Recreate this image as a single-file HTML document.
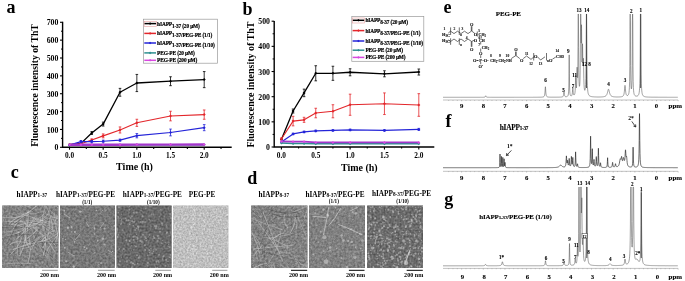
<!DOCTYPE html>
<html><head><meta charset="utf-8"><style>html,body{margin:0;padding:0;background:#fff;width:685px;height:281px;overflow:hidden}svg{display:block;will-change:transform;filter:blur(0.3px)}text{font-family:"Liberation Serif",serif}</style></head>
<body><svg width="685" height="281" viewBox="0 0 685 281" font-family="Liberation Serif" font-weight="bold"><defs><filter id="f1" x="0" y="0" width="1" height="1" color-interpolation-filters="sRGB"><feTurbulence type="fractalNoise" baseFrequency="0.45" numOctaves="2" seed="3"/><feColorMatrix type="matrix" values="0.36 0 0 0 0.330 0.36 0 0 0 0.330 0.36 0 0 0 0.330 0 0 0 0 1"/><feGaussianBlur stdDeviation="0.6"/></filter><clipPath id="c1"><rect x="2.2" y="205.5" width="56.3" height="62.5"/></clipPath><filter id="f2" x="0" y="0" width="1" height="1" color-interpolation-filters="sRGB"><feTurbulence type="fractalNoise" baseFrequency="0.45" numOctaves="2" seed="5"/><feColorMatrix type="matrix" values="0.32 0 0 0 0.311 0.32 0 0 0 0.311 0.32 0 0 0 0.311 0 0 0 0 1"/><feGaussianBlur stdDeviation="0.6"/></filter><clipPath id="c2"><rect x="60.0" y="205.5" width="55.0" height="62.5"/></clipPath><filter id="f3" x="0" y="0" width="1" height="1" color-interpolation-filters="sRGB"><feTurbulence type="fractalNoise" baseFrequency="0.5" numOctaves="2" seed="7"/><feColorMatrix type="matrix" values="0.34 0 0 0 0.238 0.34 0 0 0 0.238 0.34 0 0 0 0.238 0 0 0 0 1"/><feGaussianBlur stdDeviation="0.6"/></filter><clipPath id="c3"><rect x="116.5" y="205.5" width="55.099999999999994" height="62.5"/></clipPath><filter id="f4" x="0" y="0" width="1" height="1" color-interpolation-filters="sRGB"><feTurbulence type="fractalNoise" baseFrequency="0.55" numOctaves="2" seed="9"/><feColorMatrix type="matrix" values="0.32 0 0 0 0.585 0.32 0 0 0 0.585 0.32 0 0 0 0.585 0 0 0 0 1"/><feGaussianBlur stdDeviation="0.6"/></filter><clipPath id="c4"><rect x="173.2" y="205.5" width="55.20000000000002" height="62.5"/></clipPath><filter id="f5" x="0" y="0" width="1" height="1" color-interpolation-filters="sRGB"><feTurbulence type="fractalNoise" baseFrequency="0.45" numOctaves="2" seed="11"/><feColorMatrix type="matrix" values="0.38 0 0 0 0.320 0.38 0 0 0 0.320 0.38 0 0 0 0.320 0 0 0 0 1"/><feGaussianBlur stdDeviation="0.6"/></filter><clipPath id="c5"><rect x="251.2" y="205.5" width="56.30000000000001" height="62.5"/></clipPath><filter id="f6" x="0" y="0" width="1" height="1" color-interpolation-filters="sRGB"><feTurbulence type="fractalNoise" baseFrequency="0.45" numOctaves="2" seed="13"/><feColorMatrix type="matrix" values="0.32 0 0 0 0.342 0.32 0 0 0 0.342 0.32 0 0 0 0.342 0 0 0 0 1"/><feGaussianBlur stdDeviation="0.6"/></filter><clipPath id="c6"><rect x="309.0" y="205.5" width="56.0" height="62.5"/></clipPath><filter id="f7" x="0" y="0" width="1" height="1" color-interpolation-filters="sRGB"><feTurbulence type="fractalNoise" baseFrequency="0.5" numOctaves="2" seed="15"/><feColorMatrix type="matrix" values="0.34 0 0 0 0.246 0.34 0 0 0 0.246 0.34 0 0 0 0.246 0 0 0 0 1"/><feGaussianBlur stdDeviation="0.6"/></filter><clipPath id="c7"><rect x="367.1" y="205.5" width="55.89999999999998" height="62.5"/></clipPath></defs><rect width="685" height="281" fill="#fff"/><text x="6.50" y="13.20" font-size="18" text-anchor="start" >a</text>
<text x="242.60" y="15.00" font-size="18" text-anchor="start" >b</text>
<text x="10.80" y="178.30" font-size="18" text-anchor="start" >c</text>
<text x="247.20" y="183.70" font-size="18" text-anchor="start" >d</text>
<text x="443.60" y="13.00" font-size="18" text-anchor="start" >e</text>
<text x="445.50" y="126.90" font-size="18" text-anchor="start" >f</text>
<text x="444.30" y="205.20" font-size="18" text-anchor="start" >g</text>
<polyline points="69.50,144.62 80.95,143.37 91.73,133.01 103.17,124.08 120.01,92.29 136.85,83.00 170.52,81.22 204.20,79.61" fill="none" stroke="#000" stroke-width="1.3" stroke-linejoin="round"/>
<path d="M69.50,143.12l1.5,1.5l-1.5,1.5l-1.5,-1.5z" fill="#000"/>
<path d="M80.95,141.87l1.5,1.5l-1.5,1.5l-1.5,-1.5z" fill="#000"/>
<path d="M91.73,131.58V134.44M90.43,131.58h2.6M90.43,134.44h2.6" stroke="#000" stroke-width="0.8" fill="none"/>
<path d="M91.73,131.51l1.5,1.5l-1.5,1.5l-1.5,-1.5z" fill="#000"/>
<path d="M103.17,122.12V126.05M101.88,122.12h2.6M101.88,126.05h2.6" stroke="#000" stroke-width="0.8" fill="none"/>
<path d="M103.17,122.58l1.5,1.5l-1.5,1.5l-1.5,-1.5z" fill="#000"/>
<path d="M120.01,88.36V96.22M118.71,88.36h2.6M118.71,96.22h2.6" stroke="#000" stroke-width="0.8" fill="none"/>
<path d="M120.01,90.79l1.5,1.5l-1.5,1.5l-1.5,-1.5z" fill="#000"/>
<path d="M136.85,74.43V91.58M135.55,74.43h2.6M135.55,91.58h2.6" stroke="#000" stroke-width="0.8" fill="none"/>
<path d="M136.85,81.50l1.5,1.5l-1.5,1.5l-1.5,-1.5z" fill="#000"/>
<path d="M170.52,76.75V85.68M169.22,76.75h2.6M169.22,85.68h2.6" stroke="#000" stroke-width="0.8" fill="none"/>
<path d="M170.52,79.72l1.5,1.5l-1.5,1.5l-1.5,-1.5z" fill="#000"/>
<path d="M204.20,71.57V87.65M202.90,71.57h2.6M202.90,87.65h2.6" stroke="#000" stroke-width="0.8" fill="none"/>
<path d="M204.20,78.11l1.5,1.5l-1.5,1.5l-1.5,-1.5z" fill="#000"/>
<polyline points="69.50,144.62 80.95,143.73 91.73,139.98 103.17,135.87 120.01,129.98 136.85,122.83 170.52,116.05 204.20,114.62" fill="none" stroke="#e3262b" stroke-width="1.1" stroke-linejoin="round"/>
<path d="M69.50,143.12l1.5,1.5l-1.5,1.5l-1.5,-1.5z" fill="#e3262b"/>
<path d="M80.95,142.23l1.5,1.5l-1.5,1.5l-1.5,-1.5z" fill="#e3262b"/>
<path d="M91.73,138.91V141.05M90.43,138.91h2.6M90.43,141.05h2.6" stroke="#e3262b" stroke-width="0.8" fill="none"/>
<path d="M91.73,138.48l1.5,1.5l-1.5,1.5l-1.5,-1.5z" fill="#e3262b"/>
<path d="M103.17,133.91V137.83M101.88,133.91h2.6M101.88,137.83h2.6" stroke="#e3262b" stroke-width="0.8" fill="none"/>
<path d="M103.17,134.37l1.5,1.5l-1.5,1.5l-1.5,-1.5z" fill="#e3262b"/>
<path d="M120.01,126.94V133.01M118.71,126.94h2.6M118.71,133.01h2.6" stroke="#e3262b" stroke-width="0.8" fill="none"/>
<path d="M120.01,128.48l1.5,1.5l-1.5,1.5l-1.5,-1.5z" fill="#e3262b"/>
<path d="M136.85,119.26V126.40M135.55,119.26h2.6M135.55,126.40h2.6" stroke="#e3262b" stroke-width="0.8" fill="none"/>
<path d="M136.85,121.33l1.5,1.5l-1.5,1.5l-1.5,-1.5z" fill="#e3262b"/>
<path d="M170.52,111.22V120.87M169.22,111.22h2.6M169.22,120.87h2.6" stroke="#e3262b" stroke-width="0.8" fill="none"/>
<path d="M170.52,114.55l1.5,1.5l-1.5,1.5l-1.5,-1.5z" fill="#e3262b"/>
<path d="M204.20,109.97V119.26M202.90,109.97h2.6M202.90,119.26h2.6" stroke="#e3262b" stroke-width="0.8" fill="none"/>
<path d="M204.20,113.12l1.5,1.5l-1.5,1.5l-1.5,-1.5z" fill="#e3262b"/>
<polyline points="69.50,145.16 80.95,141.58 91.73,141.58 103.17,141.23 120.01,140.16 136.85,135.69 170.52,132.48 204.20,127.65" fill="none" stroke="#2424d8" stroke-width="1.2" stroke-linejoin="round"/>
<path d="M69.50,143.66l1.5,1.5l-1.5,1.5l-1.5,-1.5z" fill="#2424d8"/>
<path d="M80.95,140.51V142.66M79.65,140.51h2.6M79.65,142.66h2.6" stroke="#2424d8" stroke-width="0.8" fill="none"/>
<path d="M80.95,140.08l1.5,1.5l-1.5,1.5l-1.5,-1.5z" fill="#2424d8"/>
<path d="M91.73,140.51V142.66M90.43,140.51h2.6M90.43,142.66h2.6" stroke="#2424d8" stroke-width="0.8" fill="none"/>
<path d="M91.73,140.08l1.5,1.5l-1.5,1.5l-1.5,-1.5z" fill="#2424d8"/>
<path d="M103.17,140.16V142.30M101.88,140.16h2.6M101.88,142.30h2.6" stroke="#2424d8" stroke-width="0.8" fill="none"/>
<path d="M103.17,139.73l1.5,1.5l-1.5,1.5l-1.5,-1.5z" fill="#2424d8"/>
<path d="M120.01,139.08V141.23M118.71,139.08h2.6M118.71,141.23h2.6" stroke="#2424d8" stroke-width="0.8" fill="none"/>
<path d="M120.01,138.66l1.5,1.5l-1.5,1.5l-1.5,-1.5z" fill="#2424d8"/>
<path d="M136.85,133.55V137.83M135.55,133.55h2.6M135.55,137.83h2.6" stroke="#2424d8" stroke-width="0.8" fill="none"/>
<path d="M136.85,134.19l1.5,1.5l-1.5,1.5l-1.5,-1.5z" fill="#2424d8"/>
<path d="M170.52,129.08V135.87M169.22,129.08h2.6M169.22,135.87h2.6" stroke="#2424d8" stroke-width="0.8" fill="none"/>
<path d="M170.52,130.98l1.5,1.5l-1.5,1.5l-1.5,-1.5z" fill="#2424d8"/>
<path d="M204.20,124.62V130.69M202.90,124.62h2.6M202.90,130.69h2.6" stroke="#2424d8" stroke-width="0.8" fill="none"/>
<path d="M204.20,126.15l1.5,1.5l-1.5,1.5l-1.5,-1.5z" fill="#2424d8"/>
<polyline points="69.50,144.80 80.95,144.80 91.73,144.80 103.17,144.80 120.01,144.80 136.85,144.80 170.52,144.80 204.20,144.80" fill="none" stroke="#2e9090" stroke-width="1.5" stroke-linejoin="round"/>
<path d="M69.50,143.30l1.5,1.5l-1.5,1.5l-1.5,-1.5z" fill="#2e9090"/>
<path d="M80.95,143.30l1.5,1.5l-1.5,1.5l-1.5,-1.5z" fill="#2e9090"/>
<path d="M91.73,143.30l1.5,1.5l-1.5,1.5l-1.5,-1.5z" fill="#2e9090"/>
<path d="M103.17,143.30l1.5,1.5l-1.5,1.5l-1.5,-1.5z" fill="#2e9090"/>
<path d="M120.01,143.30l1.5,1.5l-1.5,1.5l-1.5,-1.5z" fill="#2e9090"/>
<path d="M136.85,143.30l1.5,1.5l-1.5,1.5l-1.5,-1.5z" fill="#2e9090"/>
<path d="M170.52,143.30l1.5,1.5l-1.5,1.5l-1.5,-1.5z" fill="#2e9090"/>
<path d="M204.20,143.30l1.5,1.5l-1.5,1.5l-1.5,-1.5z" fill="#2e9090"/>
<polyline points="69.50,144.80 80.95,144.80 91.73,144.80 103.17,144.80 120.01,144.80 136.85,144.62 170.52,144.62 204.20,144.44" fill="none" stroke="#a436cc" stroke-width="2.4" stroke-linejoin="round"/>
<path d="M69.50,143.30l1.5,1.5l-1.5,1.5l-1.5,-1.5z" fill="#d848e0"/>
<path d="M80.95,143.30l1.5,1.5l-1.5,1.5l-1.5,-1.5z" fill="#d848e0"/>
<path d="M91.73,143.30l1.5,1.5l-1.5,1.5l-1.5,-1.5z" fill="#d848e0"/>
<path d="M103.17,143.30l1.5,1.5l-1.5,1.5l-1.5,-1.5z" fill="#d848e0"/>
<path d="M120.01,143.30l1.5,1.5l-1.5,1.5l-1.5,-1.5z" fill="#d848e0"/>
<path d="M136.85,143.12l1.5,1.5l-1.5,1.5l-1.5,-1.5z" fill="#d848e0"/>
<path d="M170.52,143.12l1.5,1.5l-1.5,1.5l-1.5,-1.5z" fill="#d848e0"/>
<path d="M204.20,142.94l1.5,1.5l-1.5,1.5l-1.5,-1.5z" fill="#d848e0"/>
<path d="M62.60,21.70V147.30H231.70" stroke="#000" stroke-width="1.4" fill="none"/>
<path d="M60.00,147.30H62.6" stroke="#000" stroke-width="1.1"/>
<text x="58.40" y="150.40" font-size="7.8" text-anchor="end" >0</text>
<path d="M61.00,138.37H62.6" stroke="#000" stroke-width="1"/>
<path d="M60.00,129.44H62.6" stroke="#000" stroke-width="1.1"/>
<text x="58.40" y="132.54" font-size="7.8" text-anchor="end" >100</text>
<path d="M61.00,120.51H62.6" stroke="#000" stroke-width="1"/>
<path d="M60.00,111.58H62.6" stroke="#000" stroke-width="1.1"/>
<text x="58.40" y="114.68" font-size="7.8" text-anchor="end" >200</text>
<path d="M61.00,102.65H62.6" stroke="#000" stroke-width="1"/>
<path d="M60.00,93.72H62.6" stroke="#000" stroke-width="1.1"/>
<text x="58.40" y="96.82" font-size="7.8" text-anchor="end" >300</text>
<path d="M61.00,84.79H62.6" stroke="#000" stroke-width="1"/>
<path d="M60.00,75.86H62.6" stroke="#000" stroke-width="1.1"/>
<text x="58.40" y="78.96" font-size="7.8" text-anchor="end" >400</text>
<path d="M61.00,66.93H62.6" stroke="#000" stroke-width="1"/>
<path d="M60.00,58.00H62.6" stroke="#000" stroke-width="1.1"/>
<text x="58.40" y="61.10" font-size="7.8" text-anchor="end" >500</text>
<path d="M61.00,49.07H62.6" stroke="#000" stroke-width="1"/>
<path d="M60.00,40.14H62.6" stroke="#000" stroke-width="1.1"/>
<text x="58.40" y="43.24" font-size="7.8" text-anchor="end" >600</text>
<path d="M61.00,31.21H62.6" stroke="#000" stroke-width="1"/>
<path d="M60.00,22.28H62.6" stroke="#000" stroke-width="1.1"/>
<text x="58.40" y="25.38" font-size="7.8" text-anchor="end" >700</text>
<path d="M69.50,147.30V149.70" stroke="#000" stroke-width="1.1"/>
<text x="69.50" y="158.20" font-size="7.3" text-anchor="middle" >0.0</text>
<path d="M86.34,147.30V148.90" stroke="#000" stroke-width="1.1"/>
<path d="M103.17,147.30V149.70" stroke="#000" stroke-width="1.1"/>
<text x="103.17" y="158.20" font-size="7.3" text-anchor="middle" >0.5</text>
<path d="M120.01,147.30V148.90" stroke="#000" stroke-width="1.1"/>
<path d="M136.85,147.30V149.70" stroke="#000" stroke-width="1.1"/>
<text x="136.85" y="158.20" font-size="7.3" text-anchor="middle" >1.0</text>
<path d="M153.69,147.30V148.90" stroke="#000" stroke-width="1.1"/>
<path d="M170.52,147.30V149.70" stroke="#000" stroke-width="1.1"/>
<text x="170.52" y="158.20" font-size="7.3" text-anchor="middle" >1.5</text>
<path d="M187.36,147.30V148.90" stroke="#000" stroke-width="1.1"/>
<path d="M204.20,147.30V149.70" stroke="#000" stroke-width="1.1"/>
<text x="204.20" y="158.20" font-size="7.3" text-anchor="middle" >2.0</text>
<path d="M221.04,147.30V148.90" stroke="#000" stroke-width="1.1"/>
<text x="0" y="0" font-size="9.7" text-anchor="middle" transform="translate(38.30,85.50) rotate(-90)">Fluorescence intensity of ThT</text>
<text x="134.50" y="169.50" font-size="10" text-anchor="middle" >Time (h)</text>
<rect x="143.5" y="19.2" width="74.0" height="44.0" fill="#fff" stroke="#999" stroke-width="0.7"/>
<path d="M144.30,23.60H156.00" stroke="#000" stroke-width="1.5"/>
<path d="M150.10,22.30l1.3,1.3l-1.3,1.3l-1.3,-1.3z" fill="#000"/>
<text x="157.10" y="25.50" font-size="5.4" letter-spacing="-0.15" stroke="#000" stroke-width="0.18">hIAPP<tspan font-size="5.3" dy="2.1">1-37</tspan><tspan dy="-2.1"></tspan> (20 &#956;M)</text>
<path d="M144.30,33.40H156.00" stroke="#e3262b" stroke-width="1.5"/>
<path d="M150.10,32.10l1.3,1.3l-1.3,1.3l-1.3,-1.3z" fill="#e3262b"/>
<text x="157.10" y="35.30" font-size="5.4" letter-spacing="-0.15" stroke="#000" stroke-width="0.18">hIAPP<tspan font-size="5.3" dy="2.1">1-37</tspan><tspan dy="-2.1"></tspan>/PEG-PE (1/1)</text>
<path d="M144.30,43.00H156.00" stroke="#2424d8" stroke-width="1.5"/>
<path d="M150.10,41.70l1.3,1.3l-1.3,1.3l-1.3,-1.3z" fill="#2424d8"/>
<text x="157.10" y="44.90" font-size="5.4" letter-spacing="-0.15" stroke="#000" stroke-width="0.18">hIAPP<tspan font-size="5.3" dy="2.1">1-37</tspan><tspan dy="-2.1"></tspan>/PEG-PE (1/10)</text>
<path d="M144.30,52.90H156.00" stroke="#2e9090" stroke-width="1.5"/>
<path d="M150.10,51.60l1.3,1.3l-1.3,1.3l-1.3,-1.3z" fill="#2e9090"/>
<text x="157.10" y="54.80" font-size="5.4" letter-spacing="-0.15" stroke="#000" stroke-width="0.18">PEG-PE (20 &#956;M)</text>
<path d="M144.30,60.30H156.00" stroke="#d848e0" stroke-width="1.5"/>
<path d="M150.10,59.00l1.3,1.3l-1.3,1.3l-1.3,-1.3z" fill="#d848e0"/>
<text x="157.10" y="62.20" font-size="5.4" letter-spacing="-0.15" stroke="#000" stroke-width="0.18">PEG-PE (200 &#956;M)</text>
<rect x="144.10" y="21.30" width="12.2" height="5" fill="none" stroke="#e8a0a0" stroke-width="0.6"/>
<polyline points="281.40,139.45 293.08,111.02 304.07,92.91 315.75,73.28 332.92,73.28 350.10,72.27 384.45,73.78 418.80,72.02" fill="none" stroke="#000" stroke-width="1.3" stroke-linejoin="round"/>
<path d="M281.40,137.95l1.5,1.5l-1.5,1.5l-1.5,-1.5z" fill="#000"/>
<path d="M293.08,109.01V113.03M291.78,109.01h2.6M291.78,113.03h2.6" stroke="#000" stroke-width="0.8" fill="none"/>
<path d="M293.08,109.52l1.5,1.5l-1.5,1.5l-1.5,-1.5z" fill="#000"/>
<path d="M304.07,89.13V96.68M302.77,89.13h2.6M302.77,96.68h2.6" stroke="#000" stroke-width="0.8" fill="none"/>
<path d="M304.07,91.41l1.5,1.5l-1.5,1.5l-1.5,-1.5z" fill="#000"/>
<path d="M315.75,65.73V80.83M314.45,65.73h2.6M314.45,80.83h2.6" stroke="#000" stroke-width="0.8" fill="none"/>
<path d="M315.75,71.78l1.5,1.5l-1.5,1.5l-1.5,-1.5z" fill="#000"/>
<path d="M332.92,66.24V80.33M331.62,66.24h2.6M331.62,80.33h2.6" stroke="#000" stroke-width="0.8" fill="none"/>
<path d="M332.92,71.78l1.5,1.5l-1.5,1.5l-1.5,-1.5z" fill="#000"/>
<path d="M350.10,68.75V75.80M348.80,68.75h2.6M348.80,75.80h2.6" stroke="#000" stroke-width="0.8" fill="none"/>
<path d="M350.10,70.77l1.5,1.5l-1.5,1.5l-1.5,-1.5z" fill="#000"/>
<path d="M384.45,70.77V76.80M383.15,70.77h2.6M383.15,76.80h2.6" stroke="#000" stroke-width="0.8" fill="none"/>
<path d="M384.45,72.28l1.5,1.5l-1.5,1.5l-1.5,-1.5z" fill="#000"/>
<path d="M418.80,69.00V75.04M417.50,69.00h2.6M417.50,75.04h2.6" stroke="#000" stroke-width="0.8" fill="none"/>
<path d="M418.80,70.52l1.5,1.5l-1.5,1.5l-1.5,-1.5z" fill="#000"/>
<polyline points="281.40,138.95 293.08,121.09 304.07,119.83 315.75,113.03 332.92,111.27 350.10,104.73 384.45,103.72 418.80,104.98" fill="none" stroke="#e3262b" stroke-width="1.1" stroke-linejoin="round"/>
<path d="M281.40,137.94V139.96M280.10,137.94h2.6M280.10,139.96h2.6" stroke="#e3262b" stroke-width="0.8" fill="none"/>
<path d="M281.40,137.45l1.5,1.5l-1.5,1.5l-1.5,-1.5z" fill="#e3262b"/>
<path d="M293.08,116.30V125.87M291.78,116.30h2.6M291.78,125.87h2.6" stroke="#e3262b" stroke-width="0.8" fill="none"/>
<path d="M293.08,119.59l1.5,1.5l-1.5,1.5l-1.5,-1.5z" fill="#e3262b"/>
<path d="M304.07,117.31V122.34M302.77,117.31h2.6M302.77,122.34h2.6" stroke="#e3262b" stroke-width="0.8" fill="none"/>
<path d="M304.07,118.33l1.5,1.5l-1.5,1.5l-1.5,-1.5z" fill="#e3262b"/>
<path d="M315.75,108.25V117.81M314.45,108.25h2.6M314.45,117.81h2.6" stroke="#e3262b" stroke-width="0.8" fill="none"/>
<path d="M315.75,111.53l1.5,1.5l-1.5,1.5l-1.5,-1.5z" fill="#e3262b"/>
<path d="M332.92,104.73V117.81M331.62,104.73h2.6M331.62,117.81h2.6" stroke="#e3262b" stroke-width="0.8" fill="none"/>
<path d="M332.92,109.77l1.5,1.5l-1.5,1.5l-1.5,-1.5z" fill="#e3262b"/>
<path d="M350.10,94.16V115.30M348.80,94.16h2.6M348.80,115.30h2.6" stroke="#e3262b" stroke-width="0.8" fill="none"/>
<path d="M350.10,103.23l1.5,1.5l-1.5,1.5l-1.5,-1.5z" fill="#e3262b"/>
<path d="M384.45,92.91V114.54M383.15,92.91h2.6M383.15,114.54h2.6" stroke="#e3262b" stroke-width="0.8" fill="none"/>
<path d="M384.45,102.22l1.5,1.5l-1.5,1.5l-1.5,-1.5z" fill="#e3262b"/>
<path d="M418.80,93.66V116.30M417.50,93.66h2.6M417.50,116.30h2.6" stroke="#e3262b" stroke-width="0.8" fill="none"/>
<path d="M418.80,103.48l1.5,1.5l-1.5,1.5l-1.5,-1.5z" fill="#e3262b"/>
<polyline points="281.40,141.97 293.08,133.92 304.07,131.90 315.75,130.90 332.92,130.39 350.10,129.89 384.45,130.39 418.80,129.39" fill="none" stroke="#2424d8" stroke-width="1.2" stroke-linejoin="round"/>
<path d="M281.40,140.47l1.5,1.5l-1.5,1.5l-1.5,-1.5z" fill="#2424d8"/>
<path d="M293.08,133.16V134.67M291.78,133.16h2.6M291.78,134.67h2.6" stroke="#2424d8" stroke-width="0.8" fill="none"/>
<path d="M293.08,132.42l1.5,1.5l-1.5,1.5l-1.5,-1.5z" fill="#2424d8"/>
<path d="M304.07,131.15V132.66M302.77,131.15h2.6M302.77,132.66h2.6" stroke="#2424d8" stroke-width="0.8" fill="none"/>
<path d="M304.07,130.40l1.5,1.5l-1.5,1.5l-1.5,-1.5z" fill="#2424d8"/>
<path d="M315.75,130.14V131.65M314.45,130.14h2.6M314.45,131.65h2.6" stroke="#2424d8" stroke-width="0.8" fill="none"/>
<path d="M315.75,129.40l1.5,1.5l-1.5,1.5l-1.5,-1.5z" fill="#2424d8"/>
<path d="M332.92,129.64V131.15M331.62,129.64h2.6M331.62,131.15h2.6" stroke="#2424d8" stroke-width="0.8" fill="none"/>
<path d="M332.92,128.89l1.5,1.5l-1.5,1.5l-1.5,-1.5z" fill="#2424d8"/>
<path d="M350.10,129.14V130.65M348.80,129.14h2.6M348.80,130.65h2.6" stroke="#2424d8" stroke-width="0.8" fill="none"/>
<path d="M350.10,128.39l1.5,1.5l-1.5,1.5l-1.5,-1.5z" fill="#2424d8"/>
<path d="M384.45,129.64V131.15M383.15,129.64h2.6M383.15,131.15h2.6" stroke="#2424d8" stroke-width="0.8" fill="none"/>
<path d="M384.45,128.89l1.5,1.5l-1.5,1.5l-1.5,-1.5z" fill="#2424d8"/>
<path d="M418.80,128.38V130.39M417.50,128.38h2.6M417.50,130.39h2.6" stroke="#2424d8" stroke-width="0.8" fill="none"/>
<path d="M418.80,127.89l1.5,1.5l-1.5,1.5l-1.5,-1.5z" fill="#2424d8"/>
<polyline points="281.40,142.97 293.08,143.48 304.07,143.48 315.75,143.73 332.92,143.73 350.10,143.73 384.45,143.73 418.80,143.73" fill="none" stroke="#2e9090" stroke-width="1.4" stroke-linejoin="round"/>
<path d="M281.40,141.47l1.5,1.5l-1.5,1.5l-1.5,-1.5z" fill="#2e9090"/>
<path d="M293.08,141.98l1.5,1.5l-1.5,1.5l-1.5,-1.5z" fill="#2e9090"/>
<path d="M304.07,141.98l1.5,1.5l-1.5,1.5l-1.5,-1.5z" fill="#2e9090"/>
<path d="M315.75,142.23l1.5,1.5l-1.5,1.5l-1.5,-1.5z" fill="#2e9090"/>
<path d="M332.92,142.23l1.5,1.5l-1.5,1.5l-1.5,-1.5z" fill="#2e9090"/>
<path d="M350.10,142.23l1.5,1.5l-1.5,1.5l-1.5,-1.5z" fill="#2e9090"/>
<path d="M384.45,142.23l1.5,1.5l-1.5,1.5l-1.5,-1.5z" fill="#2e9090"/>
<path d="M418.80,142.23l1.5,1.5l-1.5,1.5l-1.5,-1.5z" fill="#2e9090"/>
<polyline points="281.40,141.46 293.08,141.72 304.07,141.72 315.75,142.47 332.92,142.47 350.10,142.47 384.45,142.47 418.80,142.47" fill="none" stroke="#a436cc" stroke-width="1.7" stroke-linejoin="round"/>
<path d="M281.40,139.96l1.5,1.5l-1.5,1.5l-1.5,-1.5z" fill="#d848e0"/>
<path d="M293.08,140.22l1.5,1.5l-1.5,1.5l-1.5,-1.5z" fill="#d848e0"/>
<path d="M304.07,140.22l1.5,1.5l-1.5,1.5l-1.5,-1.5z" fill="#d848e0"/>
<path d="M315.75,140.97l1.5,1.5l-1.5,1.5l-1.5,-1.5z" fill="#d848e0"/>
<path d="M332.92,140.97l1.5,1.5l-1.5,1.5l-1.5,-1.5z" fill="#d848e0"/>
<path d="M350.10,140.97l1.5,1.5l-1.5,1.5l-1.5,-1.5z" fill="#d848e0"/>
<path d="M384.45,140.97l1.5,1.5l-1.5,1.5l-1.5,-1.5z" fill="#d848e0"/>
<path d="M418.80,140.97l1.5,1.5l-1.5,1.5l-1.5,-1.5z" fill="#d848e0"/>
<path d="M274.20,21.00V147.00H434.30" stroke="#000" stroke-width="1.4" fill="none"/>
<path d="M271.60,147.00H274.2" stroke="#000" stroke-width="1.1"/>
<text x="270.00" y="150.10" font-size="7.8" text-anchor="end" >0</text>
<path d="M272.60,134.42H274.2" stroke="#000" stroke-width="1"/>
<path d="M271.60,121.84H274.2" stroke="#000" stroke-width="1.1"/>
<text x="270.00" y="124.94" font-size="7.8" text-anchor="end" >100</text>
<path d="M272.60,109.26H274.2" stroke="#000" stroke-width="1"/>
<path d="M271.60,96.68H274.2" stroke="#000" stroke-width="1.1"/>
<text x="270.00" y="99.78" font-size="7.8" text-anchor="end" >200</text>
<path d="M272.60,84.10H274.2" stroke="#000" stroke-width="1"/>
<path d="M271.60,71.52H274.2" stroke="#000" stroke-width="1.1"/>
<text x="270.00" y="74.62" font-size="7.8" text-anchor="end" >300</text>
<path d="M272.60,58.94H274.2" stroke="#000" stroke-width="1"/>
<path d="M271.60,46.36H274.2" stroke="#000" stroke-width="1.1"/>
<text x="270.00" y="49.46" font-size="7.8" text-anchor="end" >400</text>
<path d="M272.60,33.78H274.2" stroke="#000" stroke-width="1"/>
<path d="M271.60,21.20H274.2" stroke="#000" stroke-width="1.1"/>
<text x="270.00" y="24.30" font-size="7.8" text-anchor="end" >500</text>
<path d="M281.40,147.00V149.40" stroke="#000" stroke-width="1.1"/>
<text x="281.40" y="157.90" font-size="7.3" text-anchor="middle" >0.0</text>
<path d="M298.57,147.00V148.60" stroke="#000" stroke-width="1.1"/>
<path d="M315.75,147.00V149.40" stroke="#000" stroke-width="1.1"/>
<text x="315.75" y="157.90" font-size="7.3" text-anchor="middle" >0.5</text>
<path d="M332.92,147.00V148.60" stroke="#000" stroke-width="1.1"/>
<path d="M350.10,147.00V149.40" stroke="#000" stroke-width="1.1"/>
<text x="350.10" y="157.90" font-size="7.3" text-anchor="middle" >1.0</text>
<path d="M367.27,147.00V148.60" stroke="#000" stroke-width="1.1"/>
<path d="M384.45,147.00V149.40" stroke="#000" stroke-width="1.1"/>
<text x="384.45" y="157.90" font-size="7.3" text-anchor="middle" >1.5</text>
<path d="M401.62,147.00V148.60" stroke="#000" stroke-width="1.1"/>
<path d="M418.80,147.00V149.40" stroke="#000" stroke-width="1.1"/>
<text x="418.80" y="157.90" font-size="7.3" text-anchor="middle" >2.0</text>
<text x="0" y="0" font-size="9.95" text-anchor="middle" transform="translate(254.00,84.60) rotate(-90)">Fluorescence intensity of ThT</text>
<text x="359.30" y="170.50" font-size="10" text-anchor="middle" >Time (h)</text>
<rect x="351.8" y="16.4" width="72.0" height="44.9" fill="#fff" stroke="#999" stroke-width="0.7"/>
<path d="M352.60,20.30H364.30" stroke="#000" stroke-width="1.5"/>
<path d="M358.40,19.00l1.3,1.3l-1.3,1.3l-1.3,-1.3z" fill="#000"/>
<text x="365.40" y="22.20" font-size="5.4" letter-spacing="-0.15" stroke="#000" stroke-width="0.18">hIAPP<tspan font-size="5.3" dy="2.1">8-37</tspan><tspan dy="-2.1"></tspan> (20 &#956;M)</text>
<path d="M352.60,30.60H364.30" stroke="#e3262b" stroke-width="1.5"/>
<path d="M358.40,29.30l1.3,1.3l-1.3,1.3l-1.3,-1.3z" fill="#e3262b"/>
<text x="365.40" y="32.50" font-size="5.4" letter-spacing="-0.15" stroke="#000" stroke-width="0.18">hIAPP<tspan font-size="5.3" dy="2.1">8-37</tspan><tspan dy="-2.1"></tspan>/PEG-PE (1/1)</text>
<path d="M352.60,41.00H364.30" stroke="#2424d8" stroke-width="1.5"/>
<path d="M358.40,39.70l1.3,1.3l-1.3,1.3l-1.3,-1.3z" fill="#2424d8"/>
<text x="365.40" y="42.90" font-size="5.4" letter-spacing="-0.15" stroke="#000" stroke-width="0.18">hIAPP<tspan font-size="5.3" dy="2.1">8-37</tspan><tspan dy="-2.1"></tspan>/PEG-PE (1/10)</text>
<path d="M352.60,50.20H364.30" stroke="#2e9090" stroke-width="1.5"/>
<path d="M358.40,48.90l1.3,1.3l-1.3,1.3l-1.3,-1.3z" fill="#2e9090"/>
<text x="365.40" y="52.10" font-size="5.4" letter-spacing="-0.15" stroke="#000" stroke-width="0.18">PEG-PE (20 &#956;M)</text>
<path d="M352.60,57.40H364.30" stroke="#d848e0" stroke-width="1.5"/>
<path d="M358.40,56.10l1.3,1.3l-1.3,1.3l-1.3,-1.3z" fill="#d848e0"/>
<text x="365.40" y="59.30" font-size="5.4" letter-spacing="-0.15" stroke="#000" stroke-width="0.18">PEG-PE (200 &#956;M)</text>
<rect x="352.40" y="18.00" width="12.2" height="5" fill="none" stroke="#e8a0a0" stroke-width="0.6"/>
<g clip-path="url(#c1)"><rect x="2.2" y="205.5" width="56.3" height="62.5" fill="rgb(130,130,130)"/><rect x="2.2" y="205.5" width="56.3" height="62.5" filter="url(#f1)"/>
<path d="M25.9,228.1Q15.5,231.7 4.9,233.2" stroke="#555" stroke-width="0.55" fill="none" opacity="0.35"/>
<path d="M25.3,227.5Q14.9,231.1 4.3,232.6" stroke="#dcdcdc" stroke-width="0.69" fill="none" opacity="0.5"/>
<path d="M23.7,222.3Q16.5,221.2 13.9,229.8" stroke="#555" stroke-width="0.80" fill="none" opacity="0.35"/>
<path d="M23.1,221.7Q15.9,220.6 13.3,229.2" stroke="#dcdcdc" stroke-width="1.00" fill="none" opacity="0.5"/>
<path d="M39.4,220.3Q24.2,222.6 5.3,222.2" stroke="#555" stroke-width="0.54" fill="none" opacity="0.35"/>
<path d="M38.8,219.7Q23.6,222.0 4.7,221.6" stroke="#dcdcdc" stroke-width="0.68" fill="none" opacity="0.5"/>
<path d="M55.2,225.0Q59.4,220.7 69.7,227.7" stroke="#555" stroke-width="0.67" fill="none" opacity="0.35"/>
<path d="M54.6,224.4Q58.8,220.1 69.1,227.1" stroke="#dcdcdc" stroke-width="0.83" fill="none" opacity="0.5"/>
<path d="M19.1,232.0Q18.3,247.0 17.6,258.0" stroke="#555" stroke-width="0.66" fill="none" opacity="0.35"/>
<path d="M18.5,231.4Q17.7,246.4 17.0,257.4" stroke="#dcdcdc" stroke-width="0.83" fill="none" opacity="0.5"/>
<path d="M33.2,264.7Q20.2,262.7 2.2,265.1" stroke="#555" stroke-width="0.57" fill="none" opacity="0.35"/>
<path d="M32.6,264.1Q19.6,262.1 1.6,264.5" stroke="#dcdcdc" stroke-width="0.71" fill="none" opacity="0.5"/>
<path d="M39.5,228.0Q36.2,233.4 24.6,241.4" stroke="#555" stroke-width="0.86" fill="none" opacity="0.35"/>
<path d="M38.9,227.4Q35.6,232.8 24.0,240.8" stroke="#dcdcdc" stroke-width="1.08" fill="none" opacity="0.5"/>
<path d="M40.8,223.3Q53.4,239.1 66.7,243.3" stroke="#555" stroke-width="0.64" fill="none" opacity="0.35"/>
<path d="M40.2,222.7Q52.8,238.5 66.1,242.7" stroke="#dcdcdc" stroke-width="0.80" fill="none" opacity="0.5"/>
<path d="M55.8,231.1Q44.4,234.4 42.9,241.8" stroke="#555" stroke-width="0.87" fill="none" opacity="0.35"/>
<path d="M55.2,230.5Q43.8,233.8 42.3,241.2" stroke="#dcdcdc" stroke-width="1.08" fill="none" opacity="0.5"/>
<path d="M40.9,217.6Q40.1,225.5 49.9,226.4" stroke="#555" stroke-width="0.55" fill="none" opacity="0.35"/>
<path d="M40.3,217.0Q39.5,224.9 49.3,225.8" stroke="#dcdcdc" stroke-width="0.69" fill="none" opacity="0.5"/>
<path d="M28.4,218.8Q35.7,228.5 51.8,234.8" stroke="#555" stroke-width="0.53" fill="none" opacity="0.35"/>
<path d="M27.8,218.2Q35.1,227.9 51.2,234.2" stroke="#dcdcdc" stroke-width="0.66" fill="none" opacity="0.5"/>
<path d="M33.3,227.6Q48.3,238.1 56.0,253.3" stroke="#555" stroke-width="0.83" fill="none" opacity="0.35"/>
<path d="M32.7,227.0Q47.7,237.5 55.4,252.7" stroke="#dcdcdc" stroke-width="1.04" fill="none" opacity="0.5"/>
<path d="M43.5,235.3Q27.1,246.9 20.2,246.8" stroke="#555" stroke-width="0.57" fill="none" opacity="0.35"/>
<path d="M42.9,234.7Q26.5,246.3 19.6,246.2" stroke="#dcdcdc" stroke-width="0.71" fill="none" opacity="0.5"/>
<path d="M39.5,244.2Q38.9,246.8 48.4,259.2" stroke="#555" stroke-width="0.71" fill="none" opacity="0.35"/>
<path d="M38.9,243.6Q38.3,246.2 47.8,258.6" stroke="#dcdcdc" stroke-width="0.89" fill="none" opacity="0.5"/>
<path d="M41.3,239.9Q51.0,249.5 49.7,259.5" stroke="#555" stroke-width="0.71" fill="none" opacity="0.35"/>
<path d="M40.7,239.3Q50.4,248.9 49.1,258.9" stroke="#dcdcdc" stroke-width="0.89" fill="none" opacity="0.5"/>
<path d="M45.7,217.9Q64.0,222.5 74.6,233.2" stroke="#555" stroke-width="0.56" fill="none" opacity="0.35"/>
<path d="M45.1,217.3Q63.4,221.9 74.0,232.6" stroke="#dcdcdc" stroke-width="0.69" fill="none" opacity="0.5"/>
<path d="M38.7,195.2Q57.1,206.2 66.2,214.7" stroke="#555" stroke-width="0.65" fill="none" opacity="0.35"/>
<path d="M38.1,194.6Q56.5,205.6 65.6,214.1" stroke="#dcdcdc" stroke-width="0.81" fill="none" opacity="0.5"/>
<path d="M43.3,225.6Q37.8,223.7 27.4,227.5" stroke="#555" stroke-width="0.81" fill="none" opacity="0.35"/>
<path d="M42.7,225.0Q37.2,223.1 26.8,226.9" stroke="#dcdcdc" stroke-width="1.01" fill="none" opacity="0.5"/>
<path d="M32.4,217.9Q39.1,222.0 56.2,232.6" stroke="#555" stroke-width="0.70" fill="none" opacity="0.35"/>
<path d="M31.8,217.3Q38.5,221.4 55.6,232.0" stroke="#dcdcdc" stroke-width="0.88" fill="none" opacity="0.5"/>
<path d="M50.5,210.3Q57.5,217.2 71.5,235.7" stroke="#555" stroke-width="0.59" fill="none" opacity="0.35"/>
<path d="M49.9,209.7Q56.9,216.6 70.9,235.1" stroke="#dcdcdc" stroke-width="0.73" fill="none" opacity="0.5"/>
<path d="M36.6,225.0Q45.6,225.7 53.0,235.1" stroke="#555" stroke-width="0.62" fill="none" opacity="0.35"/>
<path d="M36.0,224.4Q45.0,225.1 52.4,234.5" stroke="#dcdcdc" stroke-width="0.78" fill="none" opacity="0.5"/>
<path d="M66.7,202.3Q61.2,210.0 53.8,226.3" stroke="#555" stroke-width="0.49" fill="none" opacity="0.35"/>
<path d="M66.1,201.7Q60.6,209.4 53.2,225.7" stroke="#dcdcdc" stroke-width="0.62" fill="none" opacity="0.5"/>
<path d="M66.8,226.6Q51.0,241.9 46.7,254.1" stroke="#555" stroke-width="0.67" fill="none" opacity="0.35"/>
<path d="M66.2,226.0Q50.4,241.3 46.1,253.5" stroke="#dcdcdc" stroke-width="0.84" fill="none" opacity="0.5"/>
<path d="M39.3,213.2Q33.9,216.0 27.4,213.2" stroke="#555" stroke-width="0.84" fill="none" opacity="0.35"/>
<path d="M38.7,212.6Q33.3,215.4 26.8,212.6" stroke="#dcdcdc" stroke-width="1.05" fill="none" opacity="0.5"/>
<path d="M39.1,204.9Q24.2,217.1 12.9,224.8" stroke="#555" stroke-width="0.84" fill="none" opacity="0.35"/>
<path d="M38.5,204.3Q23.6,216.5 12.3,224.2" stroke="#dcdcdc" stroke-width="1.05" fill="none" opacity="0.5"/>
<path d="M49.2,214.6Q37.6,225.7 24.2,233.9" stroke="#555" stroke-width="0.63" fill="none" opacity="0.35"/>
<path d="M48.6,214.0Q37.0,225.1 23.6,233.3" stroke="#dcdcdc" stroke-width="0.79" fill="none" opacity="0.5"/>
<path d="M26.3,215.4Q44.8,223.2 51.5,221.9" stroke="#555" stroke-width="0.77" fill="none" opacity="0.35"/>
<path d="M25.7,214.8Q44.2,222.6 50.9,221.3" stroke="#dcdcdc" stroke-width="0.96" fill="none" opacity="0.5"/>
<path d="M25.7,236.2Q27.1,241.4 20.4,256.6" stroke="#555" stroke-width="0.78" fill="none" opacity="0.35"/>
<path d="M25.1,235.6Q26.5,240.8 19.8,256.0" stroke="#dcdcdc" stroke-width="0.98" fill="none" opacity="0.5"/>
<path d="M56.6,226.6Q59.4,234.5 57.5,242.4" stroke="#555" stroke-width="0.73" fill="none" opacity="0.35"/>
<path d="M56.0,226.0Q58.8,233.9 56.9,241.8" stroke="#dcdcdc" stroke-width="0.91" fill="none" opacity="0.5"/>
<path d="M48.7,219.2Q59.6,215.9 66.2,219.8" stroke="#555" stroke-width="0.55" fill="none" opacity="0.35"/>
<path d="M48.1,218.6Q59.0,215.3 65.6,219.2" stroke="#dcdcdc" stroke-width="0.68" fill="none" opacity="0.5"/>
<path d="M55.2,213.8Q56.1,231.6 61.1,245.5" stroke="#555" stroke-width="0.56" fill="none" opacity="0.35"/>
<path d="M54.6,213.2Q55.5,231.0 60.5,244.9" stroke="#dcdcdc" stroke-width="0.70" fill="none" opacity="0.5"/>
<path d="M20.9,232.7Q4.1,238.0 -10.0,241.3" stroke="#555" stroke-width="0.61" fill="none" opacity="0.35"/>
<path d="M20.3,232.1Q3.5,237.4 -10.6,240.7" stroke="#dcdcdc" stroke-width="0.76" fill="none" opacity="0.5"/>
<path d="M49.8,234.2Q38.7,247.3 22.6,249.5" stroke="#555" stroke-width="0.59" fill="none" opacity="0.35"/>
<path d="M49.2,233.6Q38.1,246.7 22.0,248.9" stroke="#dcdcdc" stroke-width="0.74" fill="none" opacity="0.5"/>
<path d="M47.0,235.1Q50.9,242.4 57.0,246.8" stroke="#555" stroke-width="0.68" fill="none" opacity="0.35"/>
<path d="M46.4,234.5Q50.3,241.8 56.4,246.2" stroke="#dcdcdc" stroke-width="0.85" fill="none" opacity="0.5"/>
<path d="M31.4,244.6Q15.7,239.6 10.2,245.8" stroke="#555" stroke-width="0.83" fill="none" opacity="0.35"/>
<path d="M30.8,244.0Q15.1,239.0 9.6,245.2" stroke="#dcdcdc" stroke-width="1.04" fill="none" opacity="0.5"/>
<path d="M58.8,228.5Q60.4,231.3 54.9,245.7" stroke="#555" stroke-width="0.53" fill="none" opacity="0.35"/>
<path d="M58.2,227.9Q59.8,230.7 54.3,245.1" stroke="#dcdcdc" stroke-width="0.67" fill="none" opacity="0.5"/>
<path d="M38.0,224.4Q26.9,223.0 24.3,232.5" stroke="#555" stroke-width="0.73" fill="none" opacity="0.35"/>
<path d="M37.4,223.8Q26.3,222.4 23.7,231.9" stroke="#dcdcdc" stroke-width="0.91" fill="none" opacity="0.5"/>
<path d="M24.6,229.2Q23.1,244.7 10.5,255.9" stroke="#555" stroke-width="0.56" fill="none" opacity="0.35"/>
<path d="M24.0,228.6Q22.5,244.1 9.9,255.3" stroke="#dcdcdc" stroke-width="0.70" fill="none" opacity="0.5"/>
<path d="M33.2,224.8Q46.6,221.3 55.0,225.5" stroke="#555" stroke-width="0.59" fill="none" opacity="0.35"/>
<path d="M32.6,224.2Q46.0,220.7 54.4,224.9" stroke="#dcdcdc" stroke-width="0.74" fill="none" opacity="0.5"/>
<path d="M30.1,238.9Q32.4,250.3 28.5,264.2" stroke="#555" stroke-width="0.80" fill="none" opacity="0.35"/>
<path d="M29.5,238.3Q31.8,249.7 27.9,263.6" stroke="#dcdcdc" stroke-width="1.00" fill="none" opacity="0.5"/>
<path d="M44.9,220.8Q26.7,223.1 17.4,226.6" stroke="#555" stroke-width="0.73" fill="none" opacity="0.35"/>
<path d="M44.3,220.2Q26.1,222.5 16.8,226.0" stroke="#dcdcdc" stroke-width="0.91" fill="none" opacity="0.5"/>
<path d="M50.5,217.3Q50.6,238.3 43.6,248.6" stroke="#555" stroke-width="0.67" fill="none" opacity="0.35"/>
<path d="M49.9,216.7Q50.0,237.7 43.0,248.0" stroke="#dcdcdc" stroke-width="0.83" fill="none" opacity="0.5"/>
<path d="M35.9,217.0Q27.8,231.3 16.3,240.3" stroke="#555" stroke-width="0.57" fill="none" opacity="0.35"/>
<path d="M35.3,216.4Q27.2,230.7 15.7,239.7" stroke="#dcdcdc" stroke-width="0.71" fill="none" opacity="0.5"/>
<path d="M67.8,203.8Q59.6,202.5 44.5,205.5" stroke="#555" stroke-width="0.84" fill="none" opacity="0.35"/>
<path d="M67.2,203.2Q59.0,201.9 43.9,204.9" stroke="#dcdcdc" stroke-width="1.05" fill="none" opacity="0.5"/>
<path d="M47.5,214.9Q58.2,220.8 67.8,220.3" stroke="#555" stroke-width="0.67" fill="none" opacity="0.35"/>
<path d="M46.9,214.3Q57.6,220.2 67.2,219.7" stroke="#dcdcdc" stroke-width="0.84" fill="none" opacity="0.5"/>
<path d="M62.1,227.5Q72.9,228.5 91.5,233.5" stroke="#555" stroke-width="0.80" fill="none" opacity="0.35"/>
<path d="M61.5,226.9Q72.3,227.9 90.9,232.9" stroke="#dcdcdc" stroke-width="0.99" fill="none" opacity="0.5"/>
<path d="M44.9,228.9Q48.3,245.2 43.5,256.9" stroke="#555" stroke-width="0.86" fill="none" opacity="0.35"/>
<path d="M44.3,228.3Q47.7,244.6 42.9,256.3" stroke="#dcdcdc" stroke-width="1.07" fill="none" opacity="0.5"/>
<path d="M11.3,225.0Q19.1,224.5 26.3,229.1" stroke="#555" stroke-width="0.77" fill="none" opacity="0.35"/>
<path d="M10.7,224.4Q18.5,223.9 25.7,228.5" stroke="#dcdcdc" stroke-width="0.96" fill="none" opacity="0.5"/>
<path d="M31.2,212.4Q18.4,216.7 10.1,223.7" stroke="#555" stroke-width="0.82" fill="none" opacity="0.35"/>
<path d="M30.6,211.8Q17.8,216.1 9.5,223.1" stroke="#dcdcdc" stroke-width="1.02" fill="none" opacity="0.5"/>
<path d="M47.3,218.8Q32.3,227.4 16.7,234.3" stroke="#555" stroke-width="0.56" fill="none" opacity="0.35"/>
<path d="M46.7,218.2Q31.7,226.8 16.1,233.7" stroke="#dcdcdc" stroke-width="0.70" fill="none" opacity="0.5"/>
<path d="M26.8,220.4Q30.7,225.7 23.3,230.5" stroke="#555" stroke-width="0.64" fill="none" opacity="0.35"/>
<path d="M26.2,219.8Q30.1,225.1 22.7,229.9" stroke="#dcdcdc" stroke-width="0.80" fill="none" opacity="0.5"/>
<path d="M45.5,209.0Q40.6,223.0 46.2,236.2" stroke="#555" stroke-width="0.65" fill="none" opacity="0.35"/>
<path d="M44.9,208.4Q40.0,222.4 45.6,235.6" stroke="#dcdcdc" stroke-width="0.81" fill="none" opacity="0.5"/>
<path d="M66.8,216.3Q69.6,223.7 81.3,232.7" stroke="#555" stroke-width="0.81" fill="none" opacity="0.35"/>
<path d="M66.2,215.7Q69.0,223.1 80.7,232.1" stroke="#dcdcdc" stroke-width="1.01" fill="none" opacity="0.5"/>
<path d="M51.7,215.6Q57.1,226.9 59.7,228.0" stroke="#555" stroke-width="0.53" fill="none" opacity="0.35"/>
<path d="M51.1,215.0Q56.5,226.3 59.1,227.4" stroke="#dcdcdc" stroke-width="0.66" fill="none" opacity="0.5"/>
<path d="M41.1,221.1Q49.7,223.4 53.9,230.0" stroke="#555" stroke-width="0.62" fill="none" opacity="0.35"/>
<path d="M40.5,220.5Q49.1,222.8 53.3,229.4" stroke="#dcdcdc" stroke-width="0.78" fill="none" opacity="0.5"/>
<path d="M36.5,219.7Q32.3,221.6 27.8,229.5" stroke="#555" stroke-width="0.56" fill="none" opacity="0.35"/>
<path d="M35.9,219.1Q31.7,221.0 27.2,228.9" stroke="#dcdcdc" stroke-width="0.70" fill="none" opacity="0.5"/>
<path d="M28.0,221.2Q32.2,226.5 35.7,240.0" stroke="#555" stroke-width="0.56" fill="none" opacity="0.35"/>
<path d="M27.4,220.6Q31.6,225.9 35.1,239.4" stroke="#dcdcdc" stroke-width="0.70" fill="none" opacity="0.5"/>
<path d="M29.0,211.0Q28.9,230.9 26.1,242.2" stroke="#555" stroke-width="0.57" fill="none" opacity="0.35"/>
<path d="M28.4,210.4Q28.3,230.3 25.5,241.6" stroke="#dcdcdc" stroke-width="0.72" fill="none" opacity="0.5"/>
<path d="M39.3,201.7Q28.6,209.5 22.3,207.1" stroke="#555" stroke-width="0.57" fill="none" opacity="0.35"/>
<path d="M38.7,201.1Q28.0,208.9 21.7,206.5" stroke="#dcdcdc" stroke-width="0.71" fill="none" opacity="0.5"/>
<path d="M65.7,223.3Q75.7,223.7 80.3,229.9" stroke="#555" stroke-width="0.52" fill="none" opacity="0.35"/>
<path d="M65.1,222.7Q75.1,223.1 79.7,229.3" stroke="#dcdcdc" stroke-width="0.65" fill="none" opacity="0.5"/>
<path d="M46.8,212.7Q40.4,218.9 36.4,220.7" stroke="#555" stroke-width="0.49" fill="none" opacity="0.35"/>
<path d="M46.2,212.1Q39.8,218.3 35.8,220.1" stroke="#dcdcdc" stroke-width="0.61" fill="none" opacity="0.5"/>
<path d="M46.1,240.9Q25.1,245.7 13.2,250.3" stroke="#555" stroke-width="0.78" fill="none" opacity="0.35"/>
<path d="M45.5,240.3Q24.5,245.1 12.6,249.7" stroke="#dcdcdc" stroke-width="0.98" fill="none" opacity="0.5"/>
<path d="M22.3,223.3Q22.5,221.0 32.1,229.9" stroke="#555" stroke-width="0.70" fill="none" opacity="0.35"/>
<path d="M21.7,222.7Q21.9,220.4 31.5,229.3" stroke="#dcdcdc" stroke-width="0.88" fill="none" opacity="0.5"/>
<path d="M25.1,222.2Q28.1,229.5 38.2,228.6" stroke="#555" stroke-width="0.88" fill="none" opacity="0.35"/>
<path d="M24.5,221.6Q27.5,228.9 37.6,228.0" stroke="#dcdcdc" stroke-width="1.10" fill="none" opacity="0.5"/>
<path d="M45.4,221.2Q61.5,227.7 78.6,227.8" stroke="#555" stroke-width="0.61" fill="none" opacity="0.35"/>
<path d="M44.8,220.6Q60.9,227.1 78.0,227.2" stroke="#dcdcdc" stroke-width="0.76" fill="none" opacity="0.5"/>
<path d="M26.5,226.6Q23.4,241.2 31.9,251.0" stroke="#555" stroke-width="0.82" fill="none" opacity="0.35"/>
<path d="M25.9,226.0Q22.8,240.6 31.3,250.4" stroke="#dcdcdc" stroke-width="1.02" fill="none" opacity="0.5"/>
<path d="M46.1,235.6Q35.6,238.9 32.4,250.3" stroke="#555" stroke-width="0.69" fill="none" opacity="0.35"/>
<path d="M45.5,235.0Q35.0,238.3 31.8,249.7" stroke="#dcdcdc" stroke-width="0.86" fill="none" opacity="0.5"/>
<path d="M65.9,226.1Q59.0,235.7 43.4,242.2" stroke="#555" stroke-width="0.64" fill="none" opacity="0.35"/>
<path d="M65.3,225.5Q58.4,235.1 42.8,241.6" stroke="#dcdcdc" stroke-width="0.80" fill="none" opacity="0.5"/>
<path d="M29.1,215.3Q11.1,221.0 -1.0,216.9" stroke="#555" stroke-width="0.78" fill="none" opacity="0.35"/>
<path d="M28.5,214.7Q10.5,220.4 -1.6,216.3" stroke="#dcdcdc" stroke-width="0.97" fill="none" opacity="0.5"/>
<path d="M44.5,201.9Q53.7,219.7 53.9,232.9" stroke="#555" stroke-width="0.79" fill="none" opacity="0.35"/>
<path d="M43.9,201.3Q53.1,219.1 53.3,232.3" stroke="#dcdcdc" stroke-width="0.98" fill="none" opacity="0.5"/>
<path d="M50.6,229.0L39.8,241.8" stroke="#444" stroke-width="0.7" fill="none" opacity="0.45"/>
<path d="M18.3,234.2L42.2,235.0" stroke="#444" stroke-width="0.7" fill="none" opacity="0.45"/>
<path d="M40.9,247.0L69.7,272.7" stroke="#444" stroke-width="0.7" fill="none" opacity="0.45"/>
<path d="M43.0,223.4L29.0,249.0" stroke="#444" stroke-width="0.7" fill="none" opacity="0.45"/>
<path d="M32.9,227.6L1.8,227.7" stroke="#444" stroke-width="0.7" fill="none" opacity="0.45"/>
<path d="M45.7,258.3L30.2,259.3" stroke="#444" stroke-width="0.7" fill="none" opacity="0.45"/>
<path d="M39.2,256.5L56.5,274.5" stroke="#444" stroke-width="0.7" fill="none" opacity="0.45"/>
<path d="M-4.0,211.6L2.7,227.8" stroke="#444" stroke-width="0.7" fill="none" opacity="0.45"/>
<path d="M11.3,270.2L7.0,297.6" stroke="#444" stroke-width="0.7" fill="none" opacity="0.45"/>
<path d="M66.0,242.4L35.0,242.8" stroke="#444" stroke-width="0.7" fill="none" opacity="0.45"/>
<path d="M54.0,201.8L43.7,234.2" stroke="#444" stroke-width="0.7" fill="none" opacity="0.45"/>
<path d="M-4.4,272.2L19.1,285.1" stroke="#444" stroke-width="0.7" fill="none" opacity="0.45"/>
<path d="M5.1,236.4L-0.5,251.9" stroke="#444" stroke-width="0.7" fill="none" opacity="0.45"/>
<path d="M64.3,230.2L61.8,260.0" stroke="#444" stroke-width="0.7" fill="none" opacity="0.45"/>
<path d="M20.1,219.1L6.5,244.7" stroke="#444" stroke-width="0.7" fill="none" opacity="0.45"/>
<path d="M13.8,254.6L23.0,266.9" stroke="#444" stroke-width="0.7" fill="none" opacity="0.45"/>
<path d="M10.9,199.0L40.7,215.0" stroke="#444" stroke-width="0.7" fill="none" opacity="0.45"/>
<path d="M22.0,269.5L10.5,281.1" stroke="#444" stroke-width="0.7" fill="none" opacity="0.45"/>
<path d="M67.6,273.4L104.3,282.0" stroke="#444" stroke-width="0.7" fill="none" opacity="0.45"/>
<path d="M25.0,234.9L4.0,236.7" stroke="#444" stroke-width="0.7" fill="none" opacity="0.45"/>
<path d="M32.1,272.8L14.9,293.3" stroke="#444" stroke-width="0.7" fill="none" opacity="0.45"/>
<path d="M66.9,262.9L61.2,279.8" stroke="#444" stroke-width="0.7" fill="none" opacity="0.45"/>
</g>
<g clip-path="url(#c2)"><rect x="60.0" y="205.5" width="55.0" height="62.5" fill="rgb(120,120,120)"/><rect x="60.0" y="205.5" width="55.0" height="62.5" filter="url(#f2)"/>
<circle cx="94.3" cy="234.0" r="0.66" fill="#dadada" opacity="0.6"/>
<circle cx="62.9" cy="238.5" r="0.60" fill="#dadada" opacity="0.6"/>
<circle cx="84.4" cy="247.2" r="0.86" fill="#dadada" opacity="0.6"/>
<circle cx="74.4" cy="241.9" r="0.84" fill="#dadada" opacity="0.6"/>
<circle cx="102.8" cy="238.7" r="1.30" fill="#dadada" opacity="0.6"/>
<circle cx="112.4" cy="251.4" r="0.69" fill="#dadada" opacity="0.6"/>
<circle cx="66.3" cy="261.3" r="1.13" fill="#dadada" opacity="0.6"/>
<circle cx="94.4" cy="227.9" r="0.72" fill="#dadada" opacity="0.6"/>
<circle cx="97.7" cy="240.8" r="0.97" fill="#dadada" opacity="0.6"/>
<circle cx="94.8" cy="252.6" r="0.65" fill="#dadada" opacity="0.6"/>
<circle cx="73.7" cy="266.7" r="1.23" fill="#dadada" opacity="0.6"/>
<circle cx="108.3" cy="208.0" r="0.55" fill="#dadada" opacity="0.6"/>
<circle cx="74.9" cy="232.1" r="1.00" fill="#dadada" opacity="0.6"/>
<circle cx="65.6" cy="239.4" r="0.56" fill="#dadada" opacity="0.6"/>
<circle cx="64.8" cy="247.8" r="0.94" fill="#dadada" opacity="0.6"/>
<circle cx="94.7" cy="228.8" r="0.88" fill="#dadada" opacity="0.6"/>
<circle cx="71.6" cy="227.0" r="1.10" fill="#dadada" opacity="0.6"/>
<circle cx="106.1" cy="210.1" r="0.60" fill="#dadada" opacity="0.6"/>
<circle cx="104.5" cy="244.5" r="1.12" fill="#dadada" opacity="0.6"/>
<circle cx="71.7" cy="232.0" r="0.71" fill="#dadada" opacity="0.6"/>
<circle cx="104.5" cy="228.6" r="1.02" fill="#dadada" opacity="0.6"/>
<circle cx="114.4" cy="225.8" r="0.94" fill="#dadada" opacity="0.6"/>
<circle cx="101.0" cy="263.1" r="0.84" fill="#dadada" opacity="0.6"/>
<circle cx="80.3" cy="211.6" r="1.20" fill="#dadada" opacity="0.6"/>
<circle cx="64.3" cy="210.7" r="0.95" fill="#dadada" opacity="0.6"/>
<circle cx="86.7" cy="248.3" r="0.74" fill="#dadada" opacity="0.6"/>
<circle cx="102.7" cy="210.3" r="0.67" fill="#dadada" opacity="0.6"/>
<circle cx="96.4" cy="210.6" r="0.74" fill="#dadada" opacity="0.6"/>
<circle cx="99.9" cy="248.9" r="0.73" fill="#dadada" opacity="0.6"/>
<circle cx="67.9" cy="227.9" r="1.08" fill="#dadada" opacity="0.6"/>
<g stroke="#d8d8d8" stroke-width="0.9" fill="none" opacity="0.55"><path d="M64,214l6,4M75,240l5,-6M68,252q3,3 7,4M100,228l4,-5M108,250l4,3M86,222l3,5"/></g>
</g>
<g clip-path="url(#c3)"><rect x="116.5" y="205.5" width="55.099999999999994" height="62.5" fill="rgb(104,104,104)"/><rect x="116.5" y="205.5" width="55.099999999999994" height="62.5" filter="url(#f3)"/>
<circle cx="136.7" cy="212.8" r="0.93" fill="#b8b8b8" opacity="0.55"/>
<circle cx="147.9" cy="262.9" r="1.06" fill="#b8b8b8" opacity="0.55"/>
<circle cx="166.8" cy="232.9" r="0.98" fill="#b8b8b8" opacity="0.55"/>
<circle cx="133.3" cy="225.4" r="0.74" fill="#b8b8b8" opacity="0.55"/>
<circle cx="168.0" cy="261.4" r="0.65" fill="#b8b8b8" opacity="0.55"/>
<circle cx="136.4" cy="228.3" r="0.72" fill="#b8b8b8" opacity="0.55"/>
<circle cx="138.3" cy="229.7" r="0.62" fill="#b8b8b8" opacity="0.55"/>
<circle cx="147.6" cy="255.3" r="0.82" fill="#b8b8b8" opacity="0.55"/>
<circle cx="162.6" cy="240.7" r="0.61" fill="#b8b8b8" opacity="0.55"/>
<circle cx="158.3" cy="260.6" r="0.67" fill="#b8b8b8" opacity="0.55"/>
<circle cx="117.7" cy="237.7" r="0.83" fill="#b8b8b8" opacity="0.55"/>
<circle cx="147.8" cy="265.9" r="0.89" fill="#b8b8b8" opacity="0.55"/>
<circle cx="160.8" cy="209.5" r="0.83" fill="#b8b8b8" opacity="0.55"/>
<circle cx="159.9" cy="210.8" r="0.55" fill="#b8b8b8" opacity="0.55"/>
<circle cx="157.1" cy="261.7" r="0.55" fill="#b8b8b8" opacity="0.55"/>
<circle cx="151.4" cy="214.5" r="0.95" fill="#b8b8b8" opacity="0.55"/>
<circle cx="152.3" cy="220.8" r="0.63" fill="#b8b8b8" opacity="0.55"/>
<circle cx="158.7" cy="238.1" r="0.96" fill="#b8b8b8" opacity="0.55"/>
<circle cx="138.2" cy="226.6" r="1.08" fill="#b8b8b8" opacity="0.55"/>
<circle cx="153.5" cy="236.4" r="0.82" fill="#b8b8b8" opacity="0.55"/>
<circle cx="156.2" cy="249.8" r="1.05" fill="#b8b8b8" opacity="0.55"/>
<circle cx="139.1" cy="257.1" r="0.90" fill="#b8b8b8" opacity="0.55"/>
<circle cx="163.5" cy="255.9" r="1.00" fill="#b8b8b8" opacity="0.55"/>
<circle cx="165.5" cy="265.4" r="0.88" fill="#b8b8b8" opacity="0.55"/>
<circle cx="145.4" cy="249.9" r="0.98" fill="#b8b8b8" opacity="0.55"/>
<circle cx="139.7" cy="231.8" r="0.59" fill="#b8b8b8" opacity="0.55"/>
<circle cx="157.3" cy="267.4" r="0.73" fill="#b8b8b8" opacity="0.55"/>
<circle cx="125.7" cy="218.3" r="0.75" fill="#b8b8b8" opacity="0.55"/>
<circle cx="132.6" cy="266.1" r="0.54" fill="#b8b8b8" opacity="0.55"/>
<circle cx="133.5" cy="212.7" r="0.89" fill="#b8b8b8" opacity="0.55"/>
<circle cx="159.3" cy="216.7" r="0.54" fill="#b8b8b8" opacity="0.55"/>
<circle cx="141.8" cy="242.0" r="1.05" fill="#b8b8b8" opacity="0.55"/>
<circle cx="118.5" cy="212.3" r="0.61" fill="#b8b8b8" opacity="0.55"/>
<circle cx="128.5" cy="220.2" r="0.93" fill="#b8b8b8" opacity="0.55"/>
<circle cx="149.3" cy="219.5" r="0.61" fill="#b8b8b8" opacity="0.55"/>
<circle cx="132.0" cy="216.3" r="0.95" fill="#b8b8b8" opacity="0.55"/>
<circle cx="133.7" cy="239.8" r="0.99" fill="#b8b8b8" opacity="0.55"/>
<circle cx="142.9" cy="221.8" r="1.03" fill="#b8b8b8" opacity="0.55"/>
<circle cx="166.9" cy="226.9" r="0.83" fill="#b8b8b8" opacity="0.55"/>
<circle cx="169.2" cy="235.7" r="0.63" fill="#b8b8b8" opacity="0.55"/>
<circle cx="119.2" cy="264.7" r="0.98" fill="#b8b8b8" opacity="0.55"/>
<circle cx="137.7" cy="238.5" r="0.81" fill="#b8b8b8" opacity="0.55"/>
<circle cx="131.6" cy="267.4" r="0.89" fill="#b8b8b8" opacity="0.55"/>
<circle cx="129.6" cy="206.2" r="0.78" fill="#b8b8b8" opacity="0.55"/>
<circle cx="137.0" cy="255.3" r="0.93" fill="#b8b8b8" opacity="0.55"/>
<circle cx="149.9" cy="215.3" r="0.59" fill="#b8b8b8" opacity="0.55"/>
<circle cx="134.2" cy="221.7" r="1.02" fill="#b8b8b8" opacity="0.55"/>
<circle cx="144.9" cy="245.3" r="1.10" fill="#b8b8b8" opacity="0.55"/>
<circle cx="131.2" cy="238.9" r="0.59" fill="#b8b8b8" opacity="0.55"/>
<circle cx="158.9" cy="205.6" r="0.99" fill="#b8b8b8" opacity="0.55"/>
<circle cx="163.1" cy="256.9" r="0.55" fill="#b8b8b8" opacity="0.55"/>
<circle cx="131.4" cy="250.3" r="0.56" fill="#b8b8b8" opacity="0.55"/>
<circle cx="143.0" cy="234.8" r="1.07" fill="#b8b8b8" opacity="0.55"/>
<circle cx="148.8" cy="259.1" r="0.68" fill="#b8b8b8" opacity="0.55"/>
<circle cx="160.0" cy="231.6" r="1.05" fill="#b8b8b8" opacity="0.55"/>
<circle cx="121.5" cy="257.1" r="0.63" fill="#b8b8b8" opacity="0.55"/>
<circle cx="146.4" cy="238.4" r="0.59" fill="#b8b8b8" opacity="0.55"/>
<circle cx="162.3" cy="225.0" r="0.69" fill="#b8b8b8" opacity="0.55"/>
<circle cx="120.7" cy="224.6" r="0.78" fill="#b8b8b8" opacity="0.55"/>
<circle cx="155.9" cy="228.0" r="0.91" fill="#b8b8b8" opacity="0.55"/>
<circle cx="122.3" cy="230.1" r="0.78" fill="#b8b8b8" opacity="0.55"/>
<circle cx="169.8" cy="257.4" r="0.89" fill="#b8b8b8" opacity="0.55"/>
<circle cx="117.2" cy="229.1" r="0.93" fill="#b8b8b8" opacity="0.55"/>
<circle cx="129.6" cy="240.8" r="0.77" fill="#b8b8b8" opacity="0.55"/>
<circle cx="117.1" cy="267.5" r="0.98" fill="#b8b8b8" opacity="0.55"/>
<circle cx="127.9" cy="244.0" r="0.67" fill="#b8b8b8" opacity="0.55"/>
<circle cx="137.2" cy="239.2" r="0.68" fill="#b8b8b8" opacity="0.55"/>
<circle cx="135.1" cy="230.0" r="0.90" fill="#b8b8b8" opacity="0.55"/>
<circle cx="130.6" cy="218.0" r="0.94" fill="#b8b8b8" opacity="0.55"/>
<circle cx="134.6" cy="264.6" r="0.84" fill="#b8b8b8" opacity="0.55"/>
<circle cx="156.4" cy="226.2" r="1.00" fill="#b8b8b8" opacity="0.55"/>
<circle cx="121.6" cy="214.3" r="0.56" fill="#b8b8b8" opacity="0.55"/>
<circle cx="153.8" cy="249.8" r="0.61" fill="#b8b8b8" opacity="0.55"/>
<circle cx="138.7" cy="257.8" r="0.86" fill="#b8b8b8" opacity="0.55"/>
<circle cx="121.5" cy="219.7" r="0.59" fill="#b8b8b8" opacity="0.55"/>
<circle cx="123.3" cy="230.9" r="0.54" fill="#b8b8b8" opacity="0.55"/>
<circle cx="167.2" cy="232.2" r="0.81" fill="#b8b8b8" opacity="0.55"/>
<circle cx="152.2" cy="253.4" r="0.99" fill="#b8b8b8" opacity="0.55"/>
<circle cx="137.8" cy="226.2" r="0.75" fill="#b8b8b8" opacity="0.55"/>
<circle cx="117.3" cy="230.5" r="0.92" fill="#b8b8b8" opacity="0.55"/>
<circle cx="170.6" cy="254.9" r="0.90" fill="#b8b8b8" opacity="0.55"/>
<circle cx="150.0" cy="206.7" r="0.70" fill="#b8b8b8" opacity="0.55"/>
<circle cx="135.4" cy="246.2" r="0.56" fill="#b8b8b8" opacity="0.55"/>
<circle cx="137.3" cy="237.3" r="0.97" fill="#b8b8b8" opacity="0.55"/>
<circle cx="162.0" cy="243.7" r="0.60" fill="#b8b8b8" opacity="0.55"/>
<circle cx="158.7" cy="261.9" r="0.83" fill="#b8b8b8" opacity="0.55"/>
<circle cx="135.9" cy="236.8" r="0.59" fill="#b8b8b8" opacity="0.55"/>
<circle cx="155.8" cy="267.2" r="0.81" fill="#b8b8b8" opacity="0.55"/>
<circle cx="155.9" cy="257.7" r="0.62" fill="#b8b8b8" opacity="0.55"/>
<circle cx="168.6" cy="244.7" r="0.62" fill="#b8b8b8" opacity="0.55"/>
<circle cx="121.1" cy="220.8" r="0.85" fill="#b8b8b8" opacity="0.55"/>
<circle cx="154.9" cy="226.1" r="1.06" fill="#b8b8b8" opacity="0.55"/>
<circle cx="136.4" cy="234.4" r="0.57" fill="#b8b8b8" opacity="0.55"/>
<circle cx="170.1" cy="214.0" r="1.04" fill="#b8b8b8" opacity="0.55"/>
<circle cx="146.4" cy="240.5" r="0.84" fill="#b8b8b8" opacity="0.55"/>
<circle cx="131.1" cy="262.3" r="1.10" fill="#b8b8b8" opacity="0.55"/>
<circle cx="161.5" cy="243.1" r="0.57" fill="#b8b8b8" opacity="0.55"/>
<circle cx="161.9" cy="223.5" r="1.04" fill="#b8b8b8" opacity="0.55"/>
<circle cx="129.8" cy="241.3" r="1.00" fill="#b8b8b8" opacity="0.55"/>
<circle cx="126.7" cy="239.7" r="0.55" fill="#b8b8b8" opacity="0.55"/>
<circle cx="118.3" cy="216.8" r="1.09" fill="#b8b8b8" opacity="0.55"/>
<circle cx="168.3" cy="246.6" r="0.68" fill="#b8b8b8" opacity="0.55"/>
<circle cx="153.5" cy="251.6" r="0.73" fill="#b8b8b8" opacity="0.55"/>
<circle cx="149.1" cy="255.7" r="0.51" fill="#b8b8b8" opacity="0.55"/>
<circle cx="127.5" cy="234.8" r="0.59" fill="#b8b8b8" opacity="0.55"/>
<circle cx="137.8" cy="241.1" r="0.60" fill="#b8b8b8" opacity="0.55"/>
<circle cx="145.1" cy="222.0" r="0.84" fill="#b8b8b8" opacity="0.55"/>
<circle cx="134.8" cy="245.6" r="0.52" fill="#b8b8b8" opacity="0.55"/>
<circle cx="153.5" cy="214.5" r="1.08" fill="#b8b8b8" opacity="0.55"/>
<circle cx="149.6" cy="234.9" r="0.75" fill="#b8b8b8" opacity="0.55"/>
<circle cx="150.9" cy="248.6" r="0.95" fill="#b8b8b8" opacity="0.55"/>
<circle cx="157.9" cy="235.9" r="1.10" fill="#b8b8b8" opacity="0.55"/>
<circle cx="162.7" cy="258.9" r="0.75" fill="#b8b8b8" opacity="0.55"/>
<circle cx="140.4" cy="240.9" r="1.04" fill="#b8b8b8" opacity="0.55"/>
<circle cx="145.5" cy="238.3" r="0.76" fill="#b8b8b8" opacity="0.55"/>
<circle cx="166.3" cy="225.5" r="0.53" fill="#b8b8b8" opacity="0.55"/>
<circle cx="156.5" cy="261.8" r="0.94" fill="#b8b8b8" opacity="0.55"/>
<circle cx="149.4" cy="252.5" r="0.68" fill="#b8b8b8" opacity="0.55"/>
<circle cx="149.2" cy="209.9" r="0.57" fill="#b8b8b8" opacity="0.55"/>
<circle cx="141.1" cy="236.9" r="0.74" fill="#b8b8b8" opacity="0.55"/>
<circle cx="119.4" cy="248.9" r="0.82" fill="#b8b8b8" opacity="0.55"/>
<circle cx="129.7" cy="224.6" r="0.74" fill="#b8b8b8" opacity="0.55"/>
<circle cx="129.5" cy="209.8" r="1.05" fill="#b8b8b8" opacity="0.55"/>
<circle cx="169.8" cy="247.1" r="1.02" fill="#b8b8b8" opacity="0.55"/>
<circle cx="139.7" cy="255.8" r="0.63" fill="#b8b8b8" opacity="0.55"/>
<circle cx="157.6" cy="240.9" r="1.04" fill="#b8b8b8" opacity="0.55"/>
<circle cx="121.9" cy="255.0" r="0.57" fill="#b8b8b8" opacity="0.55"/>
<circle cx="146.1" cy="264.9" r="0.50" fill="#b8b8b8" opacity="0.55"/>
<circle cx="129.9" cy="224.2" r="0.69" fill="#b8b8b8" opacity="0.55"/>
<circle cx="120.0" cy="261.4" r="0.99" fill="#b8b8b8" opacity="0.55"/>
<circle cx="138.4" cy="227.8" r="0.85" fill="#b8b8b8" opacity="0.55"/>
<circle cx="119.0" cy="207.4" r="1.04" fill="#b8b8b8" opacity="0.55"/>
<circle cx="133.5" cy="236.7" r="1.06" fill="#b8b8b8" opacity="0.55"/>
<circle cx="170.3" cy="235.0" r="0.62" fill="#b8b8b8" opacity="0.55"/>
<circle cx="132.8" cy="263.2" r="1.04" fill="#b8b8b8" opacity="0.55"/>
<circle cx="127.3" cy="257.9" r="0.71" fill="#b8b8b8" opacity="0.55"/>
<circle cx="142.5" cy="216.2" r="1.03" fill="#b8b8b8" opacity="0.55"/>
<circle cx="171.3" cy="218.1" r="0.88" fill="#b8b8b8" opacity="0.55"/>
<circle cx="127.1" cy="260.5" r="0.53" fill="#b8b8b8" opacity="0.55"/>
<circle cx="122.3" cy="250.9" r="0.69" fill="#b8b8b8" opacity="0.55"/>
<circle cx="166.1" cy="259.8" r="0.93" fill="#b8b8b8" opacity="0.55"/>
<circle cx="123.9" cy="249.0" r="1.06" fill="#b8b8b8" opacity="0.55"/>
<circle cx="141.0" cy="210.4" r="0.63" fill="#b8b8b8" opacity="0.55"/>
<circle cx="133.4" cy="249.9" r="0.62" fill="#b8b8b8" opacity="0.55"/>
<circle cx="126.5" cy="220.2" r="0.90" fill="#b8b8b8" opacity="0.55"/>
<circle cx="160.1" cy="228.8" r="0.90" fill="#b8b8b8" opacity="0.55"/>
<circle cx="165.2" cy="242.4" r="0.64" fill="#b8b8b8" opacity="0.55"/>
<circle cx="133.1" cy="263.4" r="0.90" fill="#b8b8b8" opacity="0.55"/>
<circle cx="131.8" cy="245.5" r="0.55" fill="#b8b8b8" opacity="0.55"/>
<circle cx="170.7" cy="233.0" r="0.82" fill="#b8b8b8" opacity="0.55"/>
<circle cx="145.7" cy="208.3" r="0.86" fill="#b8b8b8" opacity="0.55"/>
<circle cx="132.2" cy="221.2" r="0.98" fill="#b8b8b8" opacity="0.55"/>
<circle cx="121.3" cy="223.3" r="0.95" fill="#b8b8b8" opacity="0.55"/>
<circle cx="130.0" cy="222.9" r="0.83" fill="#b8b8b8" opacity="0.55"/>
<circle cx="126.8" cy="261.6" r="1.09" fill="#b8b8b8" opacity="0.55"/>
<circle cx="118.4" cy="234.4" r="0.95" fill="#b8b8b8" opacity="0.55"/>
<circle cx="137.7" cy="263.6" r="0.80" fill="#b8b8b8" opacity="0.55"/>
<circle cx="126.4" cy="240.3" r="0.89" fill="#b8b8b8" opacity="0.55"/>
<circle cx="136.3" cy="246.6" r="0.97" fill="#b8b8b8" opacity="0.55"/>
<circle cx="145.0" cy="237.1" r="1.01" fill="#b8b8b8" opacity="0.55"/>
<circle cx="154.2" cy="238.0" r="1.07" fill="#b8b8b8" opacity="0.55"/>
<circle cx="126.1" cy="254.2" r="0.60" fill="#b8b8b8" opacity="0.55"/>
<circle cx="150.0" cy="220.2" r="0.76" fill="#b8b8b8" opacity="0.55"/>
<circle cx="159.1" cy="254.7" r="0.97" fill="#b8b8b8" opacity="0.55"/>
<circle cx="129.5" cy="236.1" r="0.63" fill="#b8b8b8" opacity="0.55"/>
<circle cx="148.5" cy="236.7" r="0.52" fill="#b8b8b8" opacity="0.55"/>
<circle cx="149.4" cy="250.2" r="0.84" fill="#b8b8b8" opacity="0.55"/>
<circle cx="164.6" cy="216.8" r="0.59" fill="#b8b8b8" opacity="0.55"/>
<circle cx="117.5" cy="236.5" r="0.76" fill="#b8b8b8" opacity="0.55"/>
<circle cx="140.8" cy="221.9" r="0.98" fill="#b8b8b8" opacity="0.55"/>
</g>
<g clip-path="url(#c4)"><rect x="173.2" y="205.5" width="55.20000000000002" height="62.5" fill="rgb(190,190,190)"/><rect x="173.2" y="205.5" width="55.20000000000002" height="62.5" filter="url(#f4)"/>
<circle cx="177.2" cy="262.2" r="0.68" fill="#ececec" opacity="0.55"/>
<circle cx="203.2" cy="255.0" r="0.52" fill="#ececec" opacity="0.55"/>
<circle cx="181.3" cy="224.9" r="0.42" fill="#ececec" opacity="0.55"/>
<circle cx="190.6" cy="244.3" r="0.66" fill="#ececec" opacity="0.55"/>
<circle cx="187.8" cy="242.3" r="0.44" fill="#ececec" opacity="0.55"/>
<circle cx="218.5" cy="216.2" r="0.53" fill="#ececec" opacity="0.55"/>
<circle cx="182.0" cy="248.7" r="0.82" fill="#ececec" opacity="0.55"/>
<circle cx="216.6" cy="209.3" r="0.61" fill="#ececec" opacity="0.55"/>
<circle cx="193.3" cy="219.0" r="0.89" fill="#ececec" opacity="0.55"/>
<circle cx="175.5" cy="236.1" r="0.78" fill="#ececec" opacity="0.55"/>
<circle cx="227.6" cy="214.5" r="0.63" fill="#ececec" opacity="0.55"/>
<circle cx="214.3" cy="208.0" r="0.52" fill="#ececec" opacity="0.55"/>
<circle cx="222.3" cy="214.3" r="0.60" fill="#ececec" opacity="0.55"/>
<circle cx="189.7" cy="232.0" r="0.44" fill="#ececec" opacity="0.55"/>
<circle cx="175.1" cy="267.8" r="0.78" fill="#ececec" opacity="0.55"/>
<circle cx="213.7" cy="219.9" r="0.53" fill="#ececec" opacity="0.55"/>
<circle cx="203.7" cy="220.6" r="0.63" fill="#ececec" opacity="0.55"/>
<circle cx="224.7" cy="228.2" r="0.57" fill="#ececec" opacity="0.55"/>
<circle cx="227.4" cy="243.7" r="0.42" fill="#ececec" opacity="0.55"/>
<circle cx="195.4" cy="246.1" r="0.43" fill="#ececec" opacity="0.55"/>
<circle cx="192.1" cy="248.9" r="0.83" fill="#ececec" opacity="0.55"/>
<circle cx="205.8" cy="260.9" r="0.63" fill="#ececec" opacity="0.55"/>
<circle cx="194.9" cy="258.2" r="0.59" fill="#ececec" opacity="0.55"/>
<circle cx="216.3" cy="219.0" r="0.57" fill="#ececec" opacity="0.55"/>
<circle cx="183.3" cy="239.8" r="0.48" fill="#ececec" opacity="0.55"/>
<circle cx="184.4" cy="218.9" r="0.63" fill="#ececec" opacity="0.55"/>
<circle cx="190.2" cy="233.4" r="0.90" fill="#ececec" opacity="0.55"/>
<circle cx="210.7" cy="259.4" r="0.50" fill="#ececec" opacity="0.55"/>
<circle cx="194.3" cy="210.0" r="0.75" fill="#ececec" opacity="0.55"/>
<circle cx="193.2" cy="222.7" r="0.41" fill="#ececec" opacity="0.55"/>
<circle cx="183.2" cy="221.9" r="0.60" fill="#ececec" opacity="0.55"/>
<circle cx="224.2" cy="250.2" r="0.53" fill="#ececec" opacity="0.55"/>
<circle cx="193.1" cy="215.1" r="0.87" fill="#ececec" opacity="0.55"/>
<circle cx="193.1" cy="253.4" r="0.76" fill="#ececec" opacity="0.55"/>
<circle cx="223.3" cy="206.8" r="0.56" fill="#ececec" opacity="0.55"/>
<circle cx="194.4" cy="210.7" r="0.84" fill="#ececec" opacity="0.55"/>
<circle cx="191.2" cy="253.7" r="0.66" fill="#ececec" opacity="0.55"/>
<circle cx="176.2" cy="230.1" r="0.52" fill="#ececec" opacity="0.55"/>
<circle cx="175.5" cy="214.9" r="0.70" fill="#ececec" opacity="0.55"/>
<circle cx="175.0" cy="225.0" r="0.61" fill="#ececec" opacity="0.55"/>
<circle cx="203.2" cy="214.0" r="0.75" fill="#ececec" opacity="0.55"/>
<circle cx="187.6" cy="250.8" r="0.73" fill="#ececec" opacity="0.55"/>
<circle cx="181.3" cy="218.3" r="0.54" fill="#ececec" opacity="0.55"/>
<circle cx="212.5" cy="230.8" r="0.59" fill="#ececec" opacity="0.55"/>
<circle cx="221.0" cy="219.6" r="0.55" fill="#ececec" opacity="0.55"/>
<circle cx="192.2" cy="219.0" r="0.42" fill="#ececec" opacity="0.55"/>
<circle cx="174.6" cy="244.9" r="0.68" fill="#ececec" opacity="0.55"/>
<circle cx="217.8" cy="266.5" r="0.55" fill="#ececec" opacity="0.55"/>
<circle cx="210.2" cy="262.9" r="0.51" fill="#ececec" opacity="0.55"/>
<circle cx="211.2" cy="247.2" r="0.88" fill="#ececec" opacity="0.55"/>
<circle cx="221.1" cy="220.2" r="0.72" fill="#ececec" opacity="0.55"/>
<circle cx="178.2" cy="232.2" r="0.60" fill="#ececec" opacity="0.55"/>
<circle cx="176.5" cy="229.5" r="0.56" fill="#ececec" opacity="0.55"/>
<circle cx="200.6" cy="223.0" r="0.48" fill="#ececec" opacity="0.55"/>
<circle cx="195.4" cy="235.2" r="0.48" fill="#ececec" opacity="0.55"/>
<circle cx="209.9" cy="220.5" r="0.45" fill="#ececec" opacity="0.55"/>
<circle cx="192.1" cy="231.9" r="0.48" fill="#ececec" opacity="0.55"/>
<circle cx="205.4" cy="249.3" r="0.68" fill="#ececec" opacity="0.55"/>
<circle cx="211.9" cy="206.9" r="0.60" fill="#ececec" opacity="0.55"/>
<circle cx="193.3" cy="209.4" r="0.60" fill="#ececec" opacity="0.55"/>
<circle cx="176.2" cy="236.5" r="0.69" fill="#ececec" opacity="0.55"/>
<circle cx="199.1" cy="225.8" r="0.53" fill="#ececec" opacity="0.55"/>
<circle cx="174.5" cy="227.2" r="0.85" fill="#ececec" opacity="0.55"/>
<circle cx="204.4" cy="221.9" r="0.73" fill="#ececec" opacity="0.55"/>
<circle cx="183.5" cy="234.8" r="0.71" fill="#ececec" opacity="0.55"/>
<circle cx="225.9" cy="228.2" r="0.69" fill="#ececec" opacity="0.55"/>
<circle cx="225.2" cy="253.7" r="0.71" fill="#ececec" opacity="0.55"/>
<circle cx="207.5" cy="231.2" r="0.61" fill="#ececec" opacity="0.55"/>
<circle cx="188.4" cy="257.4" r="0.84" fill="#ececec" opacity="0.55"/>
<circle cx="194.3" cy="262.4" r="0.42" fill="#ececec" opacity="0.55"/>
<circle cx="180.7" cy="237.2" r="0.55" fill="#ececec" opacity="0.55"/>
<circle cx="193.1" cy="266.6" r="0.47" fill="#ececec" opacity="0.55"/>
<circle cx="183.8" cy="219.8" r="0.74" fill="#ececec" opacity="0.55"/>
<circle cx="186.1" cy="205.6" r="0.67" fill="#ececec" opacity="0.55"/>
<circle cx="194.9" cy="220.5" r="0.65" fill="#ececec" opacity="0.55"/>
<circle cx="209.1" cy="239.8" r="0.71" fill="#ececec" opacity="0.55"/>
<circle cx="204.2" cy="257.4" r="0.88" fill="#ececec" opacity="0.55"/>
<circle cx="191.6" cy="227.2" r="0.84" fill="#ececec" opacity="0.55"/>
<circle cx="190.5" cy="250.2" r="0.75" fill="#ececec" opacity="0.55"/>
<circle cx="211.1" cy="265.7" r="0.81" fill="#ececec" opacity="0.55"/>
<circle cx="182.0" cy="244.4" r="0.65" fill="#ececec" opacity="0.55"/>
<circle cx="204.3" cy="228.6" r="0.54" fill="#ececec" opacity="0.55"/>
<circle cx="214.5" cy="238.9" r="0.52" fill="#ececec" opacity="0.55"/>
<circle cx="187.0" cy="225.8" r="0.49" fill="#ececec" opacity="0.55"/>
<circle cx="201.6" cy="213.4" r="0.43" fill="#ececec" opacity="0.55"/>
<circle cx="177.0" cy="211.9" r="0.75" fill="#ececec" opacity="0.55"/>
<circle cx="179.4" cy="233.7" r="0.79" fill="#ececec" opacity="0.55"/>
<circle cx="199.7" cy="215.7" r="0.83" fill="#ececec" opacity="0.55"/>
<circle cx="221.2" cy="208.8" r="0.53" fill="#ececec" opacity="0.55"/>
<circle cx="201.2" cy="255.3" r="0.60" fill="#ececec" opacity="0.55"/>
<circle cx="212.7" cy="221.2" r="0.76" fill="#ececec" opacity="0.55"/>
<circle cx="191.2" cy="226.4" r="0.78" fill="#ececec" opacity="0.55"/>
<circle cx="219.7" cy="257.3" r="0.68" fill="#ececec" opacity="0.55"/>
<circle cx="196.4" cy="249.7" r="0.71" fill="#ececec" opacity="0.55"/>
<circle cx="219.1" cy="255.6" r="0.46" fill="#ececec" opacity="0.55"/>
<circle cx="194.0" cy="247.3" r="0.52" fill="#ececec" opacity="0.55"/>
<circle cx="183.4" cy="206.4" r="0.69" fill="#ececec" opacity="0.55"/>
<circle cx="225.1" cy="266.2" r="0.47" fill="#ececec" opacity="0.55"/>
<circle cx="211.2" cy="231.7" r="0.72" fill="#ececec" opacity="0.55"/>
<circle cx="195.1" cy="263.8" r="0.89" fill="#ececec" opacity="0.55"/>
<circle cx="175.9" cy="250.1" r="0.46" fill="#ececec" opacity="0.55"/>
<circle cx="175.5" cy="223.4" r="0.77" fill="#ececec" opacity="0.55"/>
<circle cx="228.0" cy="213.0" r="0.57" fill="#ececec" opacity="0.55"/>
<circle cx="174.7" cy="239.4" r="0.64" fill="#ececec" opacity="0.55"/>
<circle cx="193.8" cy="224.8" r="0.80" fill="#ececec" opacity="0.55"/>
<circle cx="219.5" cy="223.2" r="0.60" fill="#ececec" opacity="0.55"/>
<circle cx="207.3" cy="253.3" r="0.89" fill="#ececec" opacity="0.55"/>
<circle cx="194.7" cy="248.9" r="0.67" fill="#ececec" opacity="0.55"/>
<circle cx="217.4" cy="214.7" r="0.49" fill="#ececec" opacity="0.55"/>
<circle cx="179.1" cy="263.8" r="0.53" fill="#ececec" opacity="0.55"/>
<circle cx="200.2" cy="213.0" r="0.56" fill="#ececec" opacity="0.55"/>
<circle cx="174.3" cy="240.9" r="0.47" fill="#ececec" opacity="0.55"/>
<circle cx="207.7" cy="222.6" r="0.51" fill="#ececec" opacity="0.55"/>
<circle cx="199.8" cy="228.4" r="0.53" fill="#ececec" opacity="0.55"/>
<circle cx="176.0" cy="209.5" r="0.85" fill="#ececec" opacity="0.55"/>
<circle cx="190.3" cy="210.4" r="0.49" fill="#ececec" opacity="0.55"/>
<circle cx="199.9" cy="267.8" r="0.50" fill="#ececec" opacity="0.55"/>
<circle cx="221.1" cy="235.8" r="0.61" fill="#ececec" opacity="0.55"/>
<circle cx="217.7" cy="230.2" r="0.43" fill="#ececec" opacity="0.55"/>
<circle cx="203.6" cy="246.6" r="0.71" fill="#ececec" opacity="0.55"/>
<circle cx="188.5" cy="264.2" r="0.83" fill="#ececec" opacity="0.55"/>
<circle cx="228.1" cy="233.2" r="0.82" fill="#ececec" opacity="0.55"/>
<circle cx="213.2" cy="216.5" r="0.41" fill="#ececec" opacity="0.55"/>
<circle cx="182.5" cy="212.9" r="0.44" fill="#ececec" opacity="0.55"/>
<circle cx="193.0" cy="252.6" r="0.56" fill="#ececec" opacity="0.55"/>
<circle cx="201.6" cy="206.2" r="0.51" fill="#ececec" opacity="0.55"/>
<circle cx="226.2" cy="206.2" r="0.66" fill="#ececec" opacity="0.55"/>
<circle cx="217.9" cy="255.0" r="0.77" fill="#ececec" opacity="0.55"/>
<circle cx="195.2" cy="255.7" r="0.81" fill="#ececec" opacity="0.55"/>
<circle cx="215.6" cy="267.1" r="0.45" fill="#ececec" opacity="0.55"/>
<circle cx="225.7" cy="230.6" r="0.75" fill="#ececec" opacity="0.55"/>
<circle cx="187.0" cy="262.4" r="0.41" fill="#ececec" opacity="0.55"/>
<circle cx="205.0" cy="219.7" r="0.59" fill="#ececec" opacity="0.55"/>
<circle cx="193.6" cy="246.6" r="0.81" fill="#ececec" opacity="0.55"/>
<circle cx="193.3" cy="245.4" r="0.58" fill="#ececec" opacity="0.55"/>
<circle cx="188.6" cy="262.1" r="0.56" fill="#ececec" opacity="0.55"/>
<circle cx="178.4" cy="226.4" r="0.77" fill="#ececec" opacity="0.55"/>
<circle cx="184.9" cy="251.9" r="0.67" fill="#ececec" opacity="0.55"/>
<circle cx="210.7" cy="216.6" r="0.45" fill="#ececec" opacity="0.55"/>
<circle cx="181.1" cy="227.4" r="0.62" fill="#ececec" opacity="0.55"/>
<circle cx="173.7" cy="236.9" r="0.60" fill="#ececec" opacity="0.55"/>
<circle cx="190.9" cy="239.1" r="0.88" fill="#ececec" opacity="0.55"/>
<circle cx="184.5" cy="260.5" r="0.56" fill="#ececec" opacity="0.55"/>
<circle cx="214.8" cy="212.3" r="0.89" fill="#ececec" opacity="0.55"/>
<circle cx="196.9" cy="265.7" r="0.51" fill="#ececec" opacity="0.55"/>
<circle cx="195.7" cy="249.6" r="0.49" fill="#ececec" opacity="0.55"/>
<circle cx="188.3" cy="247.8" r="0.87" fill="#ececec" opacity="0.55"/>
<circle cx="191.0" cy="217.0" r="0.58" fill="#ececec" opacity="0.55"/>
<circle cx="227.8" cy="214.8" r="0.72" fill="#ececec" opacity="0.55"/>
<circle cx="194.1" cy="245.7" r="0.51" fill="#ececec" opacity="0.55"/>
</g>
<g clip-path="url(#c5)"><rect x="251.2" y="205.5" width="56.30000000000001" height="62.5" fill="rgb(130,130,130)"/><rect x="251.2" y="205.5" width="56.30000000000001" height="62.5" filter="url(#f5)"/>
<path d="M288.8,269.3Q275.9,276.4 262.9,281.9" stroke="#555" stroke-width="0.53" fill="none" opacity="0.35"/>
<path d="M288.2,268.7Q275.3,275.8 262.3,281.3" stroke="#dcdcdc" stroke-width="0.66" fill="none" opacity="0.45"/>
<path d="M305.7,253.0Q306.9,266.4 310.1,282.7" stroke="#555" stroke-width="0.57" fill="none" opacity="0.35"/>
<path d="M305.1,252.4Q306.3,265.8 309.5,282.1" stroke="#dcdcdc" stroke-width="0.72" fill="none" opacity="0.45"/>
<path d="M287.6,243.4Q288.9,248.2 287.1,254.3" stroke="#555" stroke-width="0.72" fill="none" opacity="0.35"/>
<path d="M287.0,242.8Q288.3,247.6 286.5,253.7" stroke="#dcdcdc" stroke-width="0.90" fill="none" opacity="0.45"/>
<path d="M287.2,273.0Q303.8,281.3 308.5,284.0" stroke="#555" stroke-width="0.61" fill="none" opacity="0.35"/>
<path d="M286.6,272.4Q303.2,280.7 307.9,283.4" stroke="#dcdcdc" stroke-width="0.76" fill="none" opacity="0.45"/>
<path d="M298.0,277.7Q299.0,300.8 308.9,312.1" stroke="#555" stroke-width="0.68" fill="none" opacity="0.35"/>
<path d="M297.4,277.1Q298.4,300.2 308.3,311.5" stroke="#dcdcdc" stroke-width="0.85" fill="none" opacity="0.45"/>
<path d="M259.7,265.4Q255.0,286.0 242.4,299.4" stroke="#555" stroke-width="0.68" fill="none" opacity="0.35"/>
<path d="M259.1,264.8Q254.4,285.4 241.8,298.8" stroke="#dcdcdc" stroke-width="0.86" fill="none" opacity="0.45"/>
<path d="M317.6,201.4Q300.2,211.4 288.8,213.9" stroke="#555" stroke-width="0.66" fill="none" opacity="0.35"/>
<path d="M317.0,200.8Q299.6,210.8 288.2,213.3" stroke="#dcdcdc" stroke-width="0.83" fill="none" opacity="0.45"/>
<path d="M282.7,267.5Q292.0,267.7 297.7,278.1" stroke="#555" stroke-width="0.70" fill="none" opacity="0.35"/>
<path d="M282.1,266.9Q291.4,267.1 297.1,277.5" stroke="#dcdcdc" stroke-width="0.88" fill="none" opacity="0.45"/>
<path d="M301.9,236.6Q318.4,251.5 326.5,260.0" stroke="#555" stroke-width="0.70" fill="none" opacity="0.35"/>
<path d="M301.3,236.0Q317.8,250.9 325.9,259.4" stroke="#dcdcdc" stroke-width="0.87" fill="none" opacity="0.45"/>
<path d="M310.9,261.8Q315.4,261.1 329.5,271.5" stroke="#555" stroke-width="0.62" fill="none" opacity="0.35"/>
<path d="M310.3,261.2Q314.8,260.5 328.9,270.9" stroke="#dcdcdc" stroke-width="0.77" fill="none" opacity="0.45"/>
<path d="M307.8,264.9Q313.7,271.9 322.2,270.5" stroke="#555" stroke-width="0.73" fill="none" opacity="0.35"/>
<path d="M307.2,264.3Q313.1,271.3 321.6,269.9" stroke="#dcdcdc" stroke-width="0.91" fill="none" opacity="0.45"/>
<path d="M310.6,202.0Q304.1,206.9 294.4,202.6" stroke="#555" stroke-width="0.77" fill="none" opacity="0.35"/>
<path d="M310.0,201.4Q303.5,206.3 293.8,202.0" stroke="#dcdcdc" stroke-width="0.96" fill="none" opacity="0.45"/>
<path d="M256.8,251.2Q256.0,254.1 259.1,261.5" stroke="#555" stroke-width="0.73" fill="none" opacity="0.35"/>
<path d="M256.2,250.6Q255.4,253.5 258.5,260.9" stroke="#dcdcdc" stroke-width="0.91" fill="none" opacity="0.45"/>
<path d="M263.1,245.9Q254.2,254.5 254.2,258.5" stroke="#555" stroke-width="0.67" fill="none" opacity="0.35"/>
<path d="M262.5,245.3Q253.6,253.9 253.6,257.9" stroke="#dcdcdc" stroke-width="0.83" fill="none" opacity="0.45"/>
<path d="M251.7,205.7Q236.0,204.6 223.8,210.9" stroke="#555" stroke-width="0.88" fill="none" opacity="0.35"/>
<path d="M251.1,205.1Q235.4,204.0 223.2,210.3" stroke="#dcdcdc" stroke-width="1.10" fill="none" opacity="0.45"/>
<path d="M294.6,256.8Q297.6,261.3 302.8,274.3" stroke="#555" stroke-width="0.73" fill="none" opacity="0.35"/>
<path d="M294.0,256.2Q297.0,260.7 302.2,273.7" stroke="#dcdcdc" stroke-width="0.92" fill="none" opacity="0.45"/>
<path d="M274.2,263.8Q277.6,280.4 280.9,286.5" stroke="#555" stroke-width="0.62" fill="none" opacity="0.35"/>
<path d="M273.6,263.2Q277.0,279.8 280.3,285.9" stroke="#dcdcdc" stroke-width="0.77" fill="none" opacity="0.45"/>
<path d="M295.5,215.5Q297.7,221.9 290.9,233.5" stroke="#555" stroke-width="0.82" fill="none" opacity="0.35"/>
<path d="M294.9,214.9Q297.1,221.3 290.3,232.9" stroke="#dcdcdc" stroke-width="1.03" fill="none" opacity="0.45"/>
<path d="M293.4,233.6Q285.8,237.1 272.3,238.1" stroke="#555" stroke-width="0.66" fill="none" opacity="0.35"/>
<path d="M292.8,233.0Q285.2,236.5 271.7,237.5" stroke="#dcdcdc" stroke-width="0.82" fill="none" opacity="0.45"/>
<path d="M246.7,230.7Q259.5,237.2 261.4,248.6" stroke="#555" stroke-width="0.76" fill="none" opacity="0.35"/>
<path d="M246.1,230.1Q258.9,236.6 260.8,248.0" stroke="#dcdcdc" stroke-width="0.95" fill="none" opacity="0.45"/>
<path d="M293.1,216.3Q299.7,220.0 296.9,229.7" stroke="#555" stroke-width="0.65" fill="none" opacity="0.35"/>
<path d="M292.5,215.7Q299.1,219.4 296.3,229.1" stroke="#dcdcdc" stroke-width="0.81" fill="none" opacity="0.45"/>
<path d="M267.9,263.8Q256.1,265.3 243.2,276.4" stroke="#555" stroke-width="0.84" fill="none" opacity="0.35"/>
<path d="M267.3,263.2Q255.5,264.7 242.6,275.8" stroke="#dcdcdc" stroke-width="1.05" fill="none" opacity="0.45"/>
<path d="M248.5,226.1Q256.7,238.9 260.7,255.4" stroke="#555" stroke-width="0.84" fill="none" opacity="0.35"/>
<path d="M247.9,225.5Q256.1,238.3 260.1,254.8" stroke="#dcdcdc" stroke-width="1.05" fill="none" opacity="0.45"/>
<path d="M314.3,198.0Q307.7,208.6 304.5,220.0" stroke="#555" stroke-width="0.61" fill="none" opacity="0.35"/>
<path d="M313.7,197.4Q307.1,208.0 303.9,219.4" stroke="#dcdcdc" stroke-width="0.76" fill="none" opacity="0.45"/>
<path d="M293.0,246.1Q279.3,246.6 253.9,249.7" stroke="#555" stroke-width="0.81" fill="none" opacity="0.35"/>
<path d="M292.4,245.5Q278.7,246.0 253.3,249.1" stroke="#dcdcdc" stroke-width="1.01" fill="none" opacity="0.45"/>
<path d="M291.4,253.9Q284.9,252.8 279.4,254.0" stroke="#555" stroke-width="0.74" fill="none" opacity="0.35"/>
<path d="M290.8,253.3Q284.3,252.2 278.8,253.4" stroke="#dcdcdc" stroke-width="0.93" fill="none" opacity="0.45"/>
<path d="M258.4,277.8Q262.5,282.9 275.1,290.7" stroke="#555" stroke-width="0.78" fill="none" opacity="0.35"/>
<path d="M257.8,277.2Q261.9,282.3 274.5,290.1" stroke="#dcdcdc" stroke-width="0.97" fill="none" opacity="0.45"/>
<path d="M248.2,209.9Q244.6,219.7 235.2,235.5" stroke="#555" stroke-width="0.80" fill="none" opacity="0.35"/>
<path d="M247.6,209.3Q244.0,219.1 234.6,234.9" stroke="#dcdcdc" stroke-width="1.01" fill="none" opacity="0.45"/>
<path d="M297.6,260.1Q302.9,268.9 319.9,269.0" stroke="#555" stroke-width="0.86" fill="none" opacity="0.35"/>
<path d="M297.0,259.5Q302.3,268.3 319.3,268.4" stroke="#dcdcdc" stroke-width="1.07" fill="none" opacity="0.45"/>
<path d="M310.2,198.1Q316.4,205.1 321.9,221.4" stroke="#555" stroke-width="0.80" fill="none" opacity="0.35"/>
<path d="M309.6,197.5Q315.8,204.5 321.3,220.8" stroke="#dcdcdc" stroke-width="0.99" fill="none" opacity="0.45"/>
<path d="M264.8,238.0Q272.9,238.2 289.8,248.3" stroke="#555" stroke-width="0.68" fill="none" opacity="0.35"/>
<path d="M264.2,237.4Q272.3,237.6 289.2,247.7" stroke="#dcdcdc" stroke-width="0.86" fill="none" opacity="0.45"/>
<path d="M264.2,260.2Q266.9,264.7 280.2,275.9" stroke="#555" stroke-width="0.66" fill="none" opacity="0.35"/>
<path d="M263.6,259.6Q266.3,264.1 279.6,275.3" stroke="#dcdcdc" stroke-width="0.83" fill="none" opacity="0.45"/>
<path d="M284.4,234.0Q282.7,232.8 272.7,239.9" stroke="#555" stroke-width="0.87" fill="none" opacity="0.35"/>
<path d="M283.8,233.4Q282.1,232.2 272.1,239.3" stroke="#dcdcdc" stroke-width="1.09" fill="none" opacity="0.45"/>
<path d="M281.9,229.6Q281.2,245.4 269.5,263.3" stroke="#555" stroke-width="0.48" fill="none" opacity="0.35"/>
<path d="M281.3,229.0Q280.6,244.8 268.9,262.7" stroke="#dcdcdc" stroke-width="0.61" fill="none" opacity="0.45"/>
<path d="M253.5,263.6Q238.9,275.6 232.5,286.9" stroke="#555" stroke-width="0.49" fill="none" opacity="0.35"/>
<path d="M252.9,263.0Q238.3,275.0 231.9,286.3" stroke="#dcdcdc" stroke-width="0.61" fill="none" opacity="0.45"/>
<path d="M250.2,220.9Q239.8,217.0 221.1,224.0" stroke="#555" stroke-width="0.65" fill="none" opacity="0.35"/>
<path d="M249.6,220.3Q239.2,216.4 220.5,223.4" stroke="#dcdcdc" stroke-width="0.81" fill="none" opacity="0.45"/>
<path d="M247.8,217.6Q263.4,223.9 283.1,230.5" stroke="#555" stroke-width="0.74" fill="none" opacity="0.35"/>
<path d="M247.2,217.0Q262.8,223.3 282.5,229.9" stroke="#dcdcdc" stroke-width="0.93" fill="none" opacity="0.45"/>
<path d="M309.5,274.2Q311.7,285.1 304.2,298.6" stroke="#555" stroke-width="0.60" fill="none" opacity="0.35"/>
<path d="M308.9,273.6Q311.1,284.5 303.6,298.0" stroke="#dcdcdc" stroke-width="0.75" fill="none" opacity="0.45"/>
<path d="M298.2,217.4Q302.5,226.2 307.4,238.3" stroke="#555" stroke-width="0.65" fill="none" opacity="0.35"/>
<path d="M297.6,216.8Q301.9,225.6 306.8,237.7" stroke="#dcdcdc" stroke-width="0.82" fill="none" opacity="0.45"/>
<path d="M276.2,200.2Q271.4,203.7 265.9,206.0" stroke="#555" stroke-width="0.64" fill="none" opacity="0.35"/>
<path d="M275.6,199.6Q270.8,203.1 265.3,205.4" stroke="#dcdcdc" stroke-width="0.80" fill="none" opacity="0.45"/>
<path d="M258.2,203.7L267.1,224.7" stroke="#444" stroke-width="0.7" fill="none" opacity="0.45"/>
<path d="M278.1,214.5L258.9,233.8" stroke="#444" stroke-width="0.7" fill="none" opacity="0.45"/>
<path d="M241.9,229.0L226.8,230.6" stroke="#444" stroke-width="0.7" fill="none" opacity="0.45"/>
<path d="M286.5,274.8L298.7,302.1" stroke="#444" stroke-width="0.7" fill="none" opacity="0.45"/>
<path d="M269.3,220.3L259.3,248.4" stroke="#444" stroke-width="0.7" fill="none" opacity="0.45"/>
<path d="M265.2,236.6L263.5,270.4" stroke="#444" stroke-width="0.7" fill="none" opacity="0.45"/>
<path d="M245.2,203.2L260.5,218.6" stroke="#444" stroke-width="0.7" fill="none" opacity="0.45"/>
<path d="M301.9,230.6L279.2,241.3" stroke="#444" stroke-width="0.7" fill="none" opacity="0.45"/>
<path d="M263.0,251.6L301.2,262.1" stroke="#444" stroke-width="0.7" fill="none" opacity="0.45"/>
<path d="M304.6,222.6L323.9,252.4" stroke="#444" stroke-width="0.7" fill="none" opacity="0.45"/>
<path d="M301.3,248.5L334.9,254.5" stroke="#444" stroke-width="0.7" fill="none" opacity="0.45"/>
<path d="M244.9,247.0L238.6,284.7" stroke="#444" stroke-width="0.7" fill="none" opacity="0.45"/>
<path d="M289.9,197.3L256.8,204.3" stroke="#444" stroke-width="0.7" fill="none" opacity="0.45"/>
<path d="M285.4,196.0L268.2,214.7" stroke="#444" stroke-width="0.7" fill="none" opacity="0.45"/>
<path d="M268,209Q283,215 298,212M272,214Q285,219 300,216" stroke="#4a4a4a" stroke-width="1.2" fill="none" opacity="0.5"/><path d="M258,222Q268,235 278,250M263,212Q270,230 283,262M285,214Q282,222 288,228" stroke="#dcdcdc" stroke-width="0.9" fill="none" opacity="0.45"/>
</g>
<g clip-path="url(#c6)"><rect x="309.0" y="205.5" width="56.0" height="62.5" fill="rgb(128,128,128)"/><rect x="309.0" y="205.5" width="56.0" height="62.5" filter="url(#f6)"/>
<circle cx="347.1" cy="267.0" r="1.23" fill="#d0d0d0" opacity="0.6"/>
<circle cx="313.2" cy="254.3" r="0.85" fill="#d0d0d0" opacity="0.6"/>
<circle cx="351.1" cy="229.1" r="0.86" fill="#d0d0d0" opacity="0.6"/>
<circle cx="333.5" cy="212.9" r="0.76" fill="#d0d0d0" opacity="0.6"/>
<circle cx="350.1" cy="210.0" r="0.59" fill="#d0d0d0" opacity="0.6"/>
<circle cx="355.7" cy="247.1" r="0.94" fill="#d0d0d0" opacity="0.6"/>
<circle cx="315.3" cy="212.9" r="0.75" fill="#d0d0d0" opacity="0.6"/>
<circle cx="362.4" cy="240.5" r="1.24" fill="#d0d0d0" opacity="0.6"/>
<circle cx="320.8" cy="231.4" r="0.93" fill="#d0d0d0" opacity="0.6"/>
<circle cx="356.0" cy="213.2" r="1.20" fill="#d0d0d0" opacity="0.6"/>
<circle cx="335.5" cy="207.5" r="0.85" fill="#d0d0d0" opacity="0.6"/>
<circle cx="330.1" cy="247.6" r="1.24" fill="#d0d0d0" opacity="0.6"/>
<circle cx="336.6" cy="248.6" r="0.81" fill="#d0d0d0" opacity="0.6"/>
<circle cx="352.6" cy="212.1" r="1.09" fill="#d0d0d0" opacity="0.6"/>
<circle cx="318.3" cy="242.1" r="0.66" fill="#d0d0d0" opacity="0.6"/>
<circle cx="328.4" cy="215.7" r="0.78" fill="#d0d0d0" opacity="0.6"/>
<circle cx="342.1" cy="238.0" r="0.81" fill="#d0d0d0" opacity="0.6"/>
<circle cx="341.2" cy="258.1" r="0.79" fill="#d0d0d0" opacity="0.6"/>
<circle cx="341.7" cy="235.5" r="1.28" fill="#d0d0d0" opacity="0.6"/>
<circle cx="327.4" cy="249.1" r="0.69" fill="#d0d0d0" opacity="0.6"/>
<circle cx="323.6" cy="251.2" r="0.96" fill="#d0d0d0" opacity="0.6"/>
<circle cx="323.4" cy="209.5" r="1.16" fill="#d0d0d0" opacity="0.6"/>
<circle cx="330.1" cy="250.3" r="0.85" fill="#d0d0d0" opacity="0.6"/>
<circle cx="343.6" cy="240.5" r="1.28" fill="#d0d0d0" opacity="0.6"/>
<circle cx="359.9" cy="234.0" r="0.89" fill="#d0d0d0" opacity="0.6"/>
<circle cx="322.0" cy="252.6" r="0.58" fill="#d0d0d0" opacity="0.6"/>
<circle cx="326.2" cy="258.5" r="0.53" fill="#d0d0d0" opacity="0.6"/>
<circle cx="348.1" cy="241.0" r="0.94" fill="#d0d0d0" opacity="0.6"/>
<circle cx="327.6" cy="215.0" r="1.26" fill="#d0d0d0" opacity="0.6"/>
<circle cx="351.8" cy="255.9" r="0.58" fill="#d0d0d0" opacity="0.6"/>
<circle cx="352.9" cy="219.2" r="0.66" fill="#d0d0d0" opacity="0.6"/>
<circle cx="339.0" cy="243.6" r="0.60" fill="#d0d0d0" opacity="0.6"/>
<circle cx="351.8" cy="241.9" r="1.22" fill="#d0d0d0" opacity="0.6"/>
<circle cx="360.7" cy="248.6" r="0.79" fill="#d0d0d0" opacity="0.6"/>
<circle cx="362.3" cy="250.4" r="0.73" fill="#d0d0d0" opacity="0.6"/>
<g stroke="#dedede" stroke-width="1.0" fill="none" opacity="0.6"><path d="M328.8,206.8Q327,220 323.4,235"/><path d="M341,208Q336,217 328.8,225.7"/><path d="M338.2,224.3Q348,228 362.6,235"/><path d="M312.6,216.2L326,217.6"/><path d="M350.4,210.8L358.5,206.8"/></g><circle cx="326" cy="261.6" r="2.4" fill="#c0c0c0" opacity="0.7"/>
<circle cx="354.9" cy="257.3" r="1.76" fill="#c8c8c8" opacity="0.6"/>
<circle cx="324.5" cy="237.3" r="2.04" fill="#c8c8c8" opacity="0.6"/>
</g>
<g clip-path="url(#c7)"><rect x="367.1" y="205.5" width="55.89999999999998" height="62.5" fill="rgb(106,106,106)"/><rect x="367.1" y="205.5" width="55.89999999999998" height="62.5" filter="url(#f7)"/>
<circle cx="381.3" cy="223.8" r="0.65" fill="#cacaca" opacity="0.55"/>
<circle cx="374.5" cy="235.8" r="0.66" fill="#cacaca" opacity="0.55"/>
<circle cx="383.0" cy="222.8" r="0.81" fill="#cacaca" opacity="0.55"/>
<circle cx="415.9" cy="215.5" r="1.02" fill="#cacaca" opacity="0.55"/>
<circle cx="414.9" cy="243.6" r="0.83" fill="#cacaca" opacity="0.55"/>
<circle cx="408.1" cy="238.9" r="0.90" fill="#cacaca" opacity="0.55"/>
<circle cx="418.5" cy="254.0" r="0.66" fill="#cacaca" opacity="0.55"/>
<circle cx="370.1" cy="264.0" r="0.72" fill="#cacaca" opacity="0.55"/>
<circle cx="411.1" cy="220.1" r="0.77" fill="#cacaca" opacity="0.55"/>
<circle cx="387.8" cy="251.1" r="1.07" fill="#cacaca" opacity="0.55"/>
<circle cx="395.4" cy="240.9" r="0.71" fill="#cacaca" opacity="0.55"/>
<circle cx="380.1" cy="264.9" r="0.57" fill="#cacaca" opacity="0.55"/>
<circle cx="419.7" cy="246.6" r="0.54" fill="#cacaca" opacity="0.55"/>
<circle cx="417.5" cy="211.9" r="0.84" fill="#cacaca" opacity="0.55"/>
<circle cx="373.8" cy="267.3" r="0.69" fill="#cacaca" opacity="0.55"/>
<circle cx="415.9" cy="209.3" r="0.90" fill="#cacaca" opacity="0.55"/>
<circle cx="370.9" cy="207.4" r="0.84" fill="#cacaca" opacity="0.55"/>
<circle cx="422.0" cy="248.3" r="1.01" fill="#cacaca" opacity="0.55"/>
<circle cx="411.0" cy="238.1" r="0.55" fill="#cacaca" opacity="0.55"/>
<circle cx="396.6" cy="217.0" r="0.82" fill="#cacaca" opacity="0.55"/>
<circle cx="386.9" cy="236.7" r="0.62" fill="#cacaca" opacity="0.55"/>
<circle cx="406.5" cy="231.6" r="0.79" fill="#cacaca" opacity="0.55"/>
<circle cx="371.5" cy="235.9" r="0.83" fill="#cacaca" opacity="0.55"/>
<circle cx="421.5" cy="240.6" r="0.58" fill="#cacaca" opacity="0.55"/>
<circle cx="383.9" cy="226.5" r="0.92" fill="#cacaca" opacity="0.55"/>
<circle cx="419.6" cy="266.5" r="1.07" fill="#cacaca" opacity="0.55"/>
<circle cx="418.8" cy="259.2" r="1.06" fill="#cacaca" opacity="0.55"/>
<circle cx="368.2" cy="236.1" r="0.85" fill="#cacaca" opacity="0.55"/>
<circle cx="405.4" cy="243.8" r="0.87" fill="#cacaca" opacity="0.55"/>
<circle cx="419.3" cy="210.9" r="0.81" fill="#cacaca" opacity="0.55"/>
<circle cx="420.7" cy="207.5" r="0.57" fill="#cacaca" opacity="0.55"/>
<circle cx="415.7" cy="265.3" r="0.51" fill="#cacaca" opacity="0.55"/>
<circle cx="368.9" cy="257.4" r="0.91" fill="#cacaca" opacity="0.55"/>
<circle cx="396.2" cy="241.8" r="0.95" fill="#cacaca" opacity="0.55"/>
<circle cx="412.3" cy="205.5" r="0.54" fill="#cacaca" opacity="0.55"/>
<circle cx="411.5" cy="266.5" r="1.00" fill="#cacaca" opacity="0.55"/>
<circle cx="389.9" cy="226.5" r="0.71" fill="#cacaca" opacity="0.55"/>
<circle cx="367.9" cy="253.6" r="0.66" fill="#cacaca" opacity="0.55"/>
<circle cx="399.8" cy="238.4" r="0.70" fill="#cacaca" opacity="0.55"/>
<circle cx="404.8" cy="233.9" r="0.64" fill="#cacaca" opacity="0.55"/>
<circle cx="416.4" cy="216.5" r="0.59" fill="#cacaca" opacity="0.55"/>
<circle cx="381.3" cy="235.4" r="0.97" fill="#cacaca" opacity="0.55"/>
<circle cx="385.7" cy="220.4" r="0.89" fill="#cacaca" opacity="0.55"/>
<circle cx="381.6" cy="238.2" r="0.65" fill="#cacaca" opacity="0.55"/>
<circle cx="416.1" cy="217.0" r="0.64" fill="#cacaca" opacity="0.55"/>
<circle cx="384.0" cy="226.1" r="0.94" fill="#cacaca" opacity="0.55"/>
<circle cx="404.8" cy="254.9" r="0.82" fill="#cacaca" opacity="0.55"/>
<circle cx="371.5" cy="253.2" r="0.65" fill="#cacaca" opacity="0.55"/>
<circle cx="379.3" cy="231.4" r="1.09" fill="#cacaca" opacity="0.55"/>
<circle cx="387.8" cy="227.8" r="1.05" fill="#cacaca" opacity="0.55"/>
<circle cx="422.5" cy="229.7" r="0.58" fill="#cacaca" opacity="0.55"/>
<circle cx="411.2" cy="254.4" r="0.70" fill="#cacaca" opacity="0.55"/>
<circle cx="411.3" cy="229.2" r="0.67" fill="#cacaca" opacity="0.55"/>
<circle cx="400.3" cy="251.8" r="0.79" fill="#cacaca" opacity="0.55"/>
<circle cx="412.8" cy="206.4" r="0.80" fill="#cacaca" opacity="0.55"/>
<circle cx="388.4" cy="209.6" r="1.05" fill="#cacaca" opacity="0.55"/>
<circle cx="375.1" cy="218.3" r="1.03" fill="#cacaca" opacity="0.55"/>
<circle cx="420.8" cy="263.7" r="0.71" fill="#cacaca" opacity="0.55"/>
<circle cx="419.1" cy="214.4" r="0.93" fill="#cacaca" opacity="0.55"/>
<circle cx="420.0" cy="217.5" r="0.58" fill="#cacaca" opacity="0.55"/>
<circle cx="405.0" cy="260.7" r="0.94" fill="#cacaca" opacity="0.55"/>
<circle cx="420.2" cy="233.9" r="0.72" fill="#cacaca" opacity="0.55"/>
<circle cx="373.8" cy="222.6" r="1.06" fill="#cacaca" opacity="0.55"/>
<circle cx="371.1" cy="217.1" r="0.71" fill="#cacaca" opacity="0.55"/>
<circle cx="369.9" cy="224.7" r="0.61" fill="#cacaca" opacity="0.55"/>
<circle cx="374.0" cy="238.4" r="0.82" fill="#cacaca" opacity="0.55"/>
<circle cx="398.8" cy="253.1" r="0.82" fill="#cacaca" opacity="0.55"/>
<circle cx="420.0" cy="210.6" r="0.63" fill="#cacaca" opacity="0.55"/>
<circle cx="371.4" cy="224.8" r="0.96" fill="#cacaca" opacity="0.55"/>
<circle cx="418.8" cy="237.0" r="0.60" fill="#cacaca" opacity="0.55"/>
<circle cx="385.6" cy="241.0" r="0.68" fill="#cacaca" opacity="0.55"/>
<circle cx="411.4" cy="266.3" r="0.78" fill="#cacaca" opacity="0.55"/>
<circle cx="400.8" cy="258.4" r="0.78" fill="#cacaca" opacity="0.55"/>
<circle cx="377.8" cy="264.5" r="1.09" fill="#cacaca" opacity="0.55"/>
<circle cx="368.5" cy="253.2" r="0.74" fill="#cacaca" opacity="0.55"/>
<circle cx="370.0" cy="215.7" r="0.60" fill="#cacaca" opacity="0.55"/>
<circle cx="408.3" cy="218.7" r="0.51" fill="#cacaca" opacity="0.55"/>
<circle cx="379.4" cy="255.4" r="0.80" fill="#cacaca" opacity="0.55"/>
<circle cx="403.6" cy="234.6" r="0.61" fill="#cacaca" opacity="0.55"/>
<circle cx="367.9" cy="224.5" r="0.52" fill="#cacaca" opacity="0.55"/>
<circle cx="381.7" cy="244.2" r="0.72" fill="#cacaca" opacity="0.55"/>
<circle cx="393.5" cy="244.5" r="0.69" fill="#cacaca" opacity="0.55"/>
<circle cx="387.0" cy="260.7" r="0.85" fill="#cacaca" opacity="0.55"/>
<circle cx="390.4" cy="239.3" r="0.78" fill="#cacaca" opacity="0.55"/>
<circle cx="385.7" cy="262.6" r="0.64" fill="#cacaca" opacity="0.55"/>
<circle cx="419.4" cy="258.8" r="1.03" fill="#cacaca" opacity="0.55"/>
<circle cx="376.2" cy="237.3" r="1.09" fill="#cacaca" opacity="0.55"/>
<circle cx="383.2" cy="216.2" r="0.93" fill="#cacaca" opacity="0.55"/>
<circle cx="380.2" cy="242.0" r="0.59" fill="#cacaca" opacity="0.55"/>
<circle cx="420.1" cy="223.3" r="0.56" fill="#cacaca" opacity="0.55"/>
<circle cx="405.5" cy="227.2" r="0.84" fill="#cacaca" opacity="0.55"/>
<circle cx="394.9" cy="263.2" r="0.81" fill="#cacaca" opacity="0.55"/>
<circle cx="388.3" cy="205.6" r="0.80" fill="#cacaca" opacity="0.55"/>
<circle cx="382.1" cy="241.4" r="0.88" fill="#cacaca" opacity="0.55"/>
<circle cx="392.9" cy="211.1" r="0.80" fill="#cacaca" opacity="0.55"/>
<circle cx="394.0" cy="245.6" r="1.08" fill="#cacaca" opacity="0.55"/>
<circle cx="382.8" cy="233.2" r="0.55" fill="#cacaca" opacity="0.55"/>
<circle cx="411.8" cy="220.2" r="1.00" fill="#cacaca" opacity="0.55"/>
<circle cx="411.7" cy="221.4" r="1.04" fill="#cacaca" opacity="0.55"/>
<circle cx="395.3" cy="232.1" r="0.83" fill="#cacaca" opacity="0.55"/>
<circle cx="420.0" cy="236.1" r="0.79" fill="#cacaca" opacity="0.55"/>
<circle cx="383.3" cy="258.1" r="0.80" fill="#cacaca" opacity="0.55"/>
<circle cx="386.2" cy="217.8" r="0.63" fill="#cacaca" opacity="0.55"/>
<circle cx="413.7" cy="255.7" r="1.09" fill="#cacaca" opacity="0.55"/>
<circle cx="418.4" cy="248.3" r="0.98" fill="#cacaca" opacity="0.55"/>
<circle cx="406.9" cy="256.1" r="0.98" fill="#cacaca" opacity="0.55"/>
<circle cx="377.0" cy="256.4" r="0.68" fill="#cacaca" opacity="0.55"/>
<circle cx="380.7" cy="263.0" r="0.51" fill="#cacaca" opacity="0.55"/>
<circle cx="395.7" cy="226.9" r="0.98" fill="#cacaca" opacity="0.55"/>
<circle cx="401.2" cy="262.4" r="1.06" fill="#cacaca" opacity="0.55"/>
<circle cx="403.1" cy="209.5" r="0.90" fill="#cacaca" opacity="0.55"/>
<circle cx="373.2" cy="266.9" r="1.02" fill="#cacaca" opacity="0.55"/>
<circle cx="384.5" cy="217.1" r="0.92" fill="#cacaca" opacity="0.55"/>
<circle cx="409.5" cy="267.1" r="0.87" fill="#cacaca" opacity="0.55"/>
<circle cx="374.1" cy="250.9" r="0.54" fill="#cacaca" opacity="0.55"/>
<circle cx="415.6" cy="253.5" r="0.97" fill="#cacaca" opacity="0.55"/>
<circle cx="415.9" cy="241.1" r="1.07" fill="#cacaca" opacity="0.55"/>
<circle cx="402.8" cy="236.2" r="0.73" fill="#cacaca" opacity="0.55"/>
<circle cx="386.9" cy="206.9" r="0.60" fill="#cacaca" opacity="0.55"/>
<circle cx="411.6" cy="219.8" r="0.89" fill="#cacaca" opacity="0.55"/>
<circle cx="410.4" cy="248.9" r="0.81" fill="#cacaca" opacity="0.55"/>
<circle cx="384.8" cy="222.6" r="0.61" fill="#cacaca" opacity="0.55"/>
<circle cx="403.3" cy="248.4" r="1.07" fill="#cacaca" opacity="0.55"/>
<circle cx="385.6" cy="263.4" r="1.05" fill="#cacaca" opacity="0.55"/>
<circle cx="383.3" cy="265.0" r="0.87" fill="#cacaca" opacity="0.55"/>
<circle cx="420.9" cy="253.9" r="0.70" fill="#cacaca" opacity="0.55"/>
<circle cx="382.7" cy="238.2" r="0.79" fill="#cacaca" opacity="0.55"/>
<circle cx="369.1" cy="259.4" r="0.82" fill="#cacaca" opacity="0.55"/>
<circle cx="393.5" cy="252.0" r="0.65" fill="#cacaca" opacity="0.55"/>
<circle cx="378.2" cy="241.8" r="0.64" fill="#cacaca" opacity="0.55"/>
<circle cx="385.4" cy="209.9" r="0.53" fill="#cacaca" opacity="0.55"/>
<circle cx="387.0" cy="238.4" r="1.07" fill="#cacaca" opacity="0.55"/>
<circle cx="402.9" cy="231.4" r="0.74" fill="#cacaca" opacity="0.55"/>
<circle cx="380.3" cy="235.1" r="1.08" fill="#cacaca" opacity="0.55"/>
<circle cx="373.9" cy="232.6" r="0.91" fill="#cacaca" opacity="0.55"/>
<circle cx="409.7" cy="240.2" r="0.88" fill="#cacaca" opacity="0.55"/>
<circle cx="419.6" cy="261.9" r="0.65" fill="#cacaca" opacity="0.55"/>
<circle cx="397.4" cy="267.8" r="0.82" fill="#cacaca" opacity="0.55"/>
<circle cx="377.7" cy="253.4" r="0.53" fill="#cacaca" opacity="0.55"/>
<circle cx="375.5" cy="240.0" r="0.66" fill="#cacaca" opacity="0.55"/>
<circle cx="407.3" cy="250.9" r="0.69" fill="#cacaca" opacity="0.55"/>
<circle cx="410.0" cy="246.0" r="0.92" fill="#cacaca" opacity="0.55"/>
<circle cx="392.6" cy="232.5" r="0.56" fill="#cacaca" opacity="0.55"/>
<circle cx="393.6" cy="265.2" r="1.03" fill="#cacaca" opacity="0.55"/>
<circle cx="370.2" cy="209.9" r="0.66" fill="#cacaca" opacity="0.55"/>
<circle cx="405.9" cy="232.9" r="0.58" fill="#cacaca" opacity="0.55"/>
<circle cx="390.9" cy="241.3" r="0.95" fill="#cacaca" opacity="0.55"/>
<circle cx="389.6" cy="246.1" r="0.91" fill="#cacaca" opacity="0.55"/>
<circle cx="401.5" cy="208.4" r="0.93" fill="#cacaca" opacity="0.55"/>
<circle cx="374.3" cy="208.9" r="0.78" fill="#cacaca" opacity="0.55"/>
<circle cx="368.0" cy="210.1" r="0.73" fill="#cacaca" opacity="0.55"/>
<circle cx="393.3" cy="212.1" r="1.07" fill="#cacaca" opacity="0.55"/>
<circle cx="414.7" cy="235.9" r="0.85" fill="#cacaca" opacity="0.55"/>
<circle cx="384.7" cy="267.0" r="0.57" fill="#cacaca" opacity="0.55"/>
<circle cx="384.1" cy="219.3" r="1.02" fill="#cacaca" opacity="0.55"/>
<circle cx="395.5" cy="231.2" r="0.74" fill="#cacaca" opacity="0.55"/>
<circle cx="416.7" cy="221.6" r="0.97" fill="#cacaca" opacity="0.55"/>
<circle cx="406.7" cy="233.5" r="0.72" fill="#cacaca" opacity="0.55"/>
<circle cx="391.5" cy="233.8" r="0.69" fill="#cacaca" opacity="0.55"/>
<circle cx="402.0" cy="231.2" r="0.68" fill="#cacaca" opacity="0.55"/>
<circle cx="410.3" cy="233.9" r="0.78" fill="#cacaca" opacity="0.55"/>
<circle cx="416.3" cy="233.9" r="0.73" fill="#cacaca" opacity="0.55"/>
<circle cx="417.3" cy="266.5" r="0.97" fill="#cacaca" opacity="0.55"/>
<circle cx="389.5" cy="247.4" r="0.94" fill="#cacaca" opacity="0.55"/>
<circle cx="383.7" cy="250.8" r="1.07" fill="#cacaca" opacity="0.55"/>
<circle cx="403.8" cy="247.3" r="0.76" fill="#cacaca" opacity="0.55"/>
<circle cx="403.6" cy="219.6" r="0.96" fill="#cacaca" opacity="0.55"/>
<circle cx="397.2" cy="266.7" r="0.71" fill="#cacaca" opacity="0.55"/>
<circle cx="406.9" cy="206.5" r="0.75" fill="#cacaca" opacity="0.55"/>
<circle cx="409.9" cy="221.7" r="0.87" fill="#cacaca" opacity="0.55"/>
<circle cx="379.4" cy="230.4" r="1.10" fill="#cacaca" opacity="0.55"/>
<circle cx="378.1" cy="262.5" r="0.54" fill="#cacaca" opacity="0.55"/>
<circle cx="399.7" cy="256.8" r="1.00" fill="#cacaca" opacity="0.55"/>
<circle cx="389.0" cy="242.4" r="0.93" fill="#cacaca" opacity="0.55"/>
<circle cx="409.7" cy="252.2" r="0.85" fill="#cacaca" opacity="0.55"/>
<circle cx="381.2" cy="249.6" r="0.84" fill="#cacaca" opacity="0.55"/>
<circle cx="397.5" cy="267.2" r="0.58" fill="#cacaca" opacity="0.55"/>
<circle cx="410.7" cy="225.8" r="0.94" fill="#cacaca" opacity="0.55"/>
<circle cx="420.2" cy="222.7" r="0.84" fill="#cacaca" opacity="0.55"/>
<circle cx="396.6" cy="236.4" r="0.60" fill="#cacaca" opacity="0.55"/>
<circle cx="402.1" cy="261.3" r="0.90" fill="#cacaca" opacity="0.55"/>
<circle cx="383.3" cy="255.9" r="0.75" fill="#cacaca" opacity="0.55"/>
<circle cx="375.2" cy="243.4" r="0.78" fill="#cacaca" opacity="0.55"/>
<circle cx="396.7" cy="267.4" r="0.84" fill="#cacaca" opacity="0.55"/>
<circle cx="420.4" cy="227.5" r="0.96" fill="#cacaca" opacity="0.55"/>
<circle cx="371.3" cy="224.3" r="0.92" fill="#cacaca" opacity="0.55"/>
<circle cx="405.7" cy="257.3" r="0.73" fill="#cacaca" opacity="0.55"/>
<circle cx="382.4" cy="227.9" r="0.82" fill="#cacaca" opacity="0.55"/>
<circle cx="368.5" cy="228.9" r="0.89" fill="#cacaca" opacity="0.55"/>
<circle cx="375.4" cy="224.9" r="1.02" fill="#cacaca" opacity="0.55"/>
<circle cx="419.3" cy="221.1" r="0.61" fill="#cacaca" opacity="0.55"/>
<circle cx="373.7" cy="210.9" r="0.98" fill="#cacaca" opacity="0.55"/>
<circle cx="408.4" cy="222.0" r="0.79" fill="#cacaca" opacity="0.55"/>
<circle cx="406.0" cy="207.3" r="0.99" fill="#cacaca" opacity="0.55"/>
<circle cx="415.1" cy="218.7" r="0.92" fill="#cacaca" opacity="0.55"/>
<circle cx="406.2" cy="226.6" r="1.03" fill="#cacaca" opacity="0.55"/>
<circle cx="379.3" cy="235.1" r="0.69" fill="#cacaca" opacity="0.55"/>
<circle cx="391.8" cy="256.3" r="0.84" fill="#cacaca" opacity="0.55"/>
<circle cx="401.2" cy="267.2" r="0.63" fill="#cacaca" opacity="0.55"/>
<circle cx="379.6" cy="244.2" r="0.59" fill="#cacaca" opacity="0.55"/>
<circle cx="421.0" cy="226.8" r="0.76" fill="#cacaca" opacity="0.55"/>
<circle cx="391.2" cy="257.2" r="1.05" fill="#cacaca" opacity="0.55"/>
<circle cx="404.9" cy="216.2" r="0.71" fill="#cacaca" opacity="0.55"/>
<circle cx="406.6" cy="219.0" r="1.03" fill="#cacaca" opacity="0.55"/>
<circle cx="415.9" cy="219.7" r="0.72" fill="#cacaca" opacity="0.55"/>
<circle cx="379.9" cy="250.4" r="0.53" fill="#cacaca" opacity="0.55"/>
<circle cx="406.0" cy="209.4" r="1.00" fill="#cacaca" opacity="0.55"/>
<circle cx="397.5" cy="241.9" r="0.56" fill="#cacaca" opacity="0.55"/>
<circle cx="369.6" cy="227.6" r="1.09" fill="#cacaca" opacity="0.55"/>
<circle cx="400.6" cy="259.4" r="0.54" fill="#cacaca" opacity="0.55"/>
<circle cx="372.8" cy="206.8" r="0.92" fill="#cacaca" opacity="0.55"/>
<circle cx="377.0" cy="222.5" r="0.90" fill="#cacaca" opacity="0.55"/>
<circle cx="406.0" cy="225.7" r="0.78" fill="#cacaca" opacity="0.55"/>
<circle cx="383.3" cy="240.6" r="0.71" fill="#cacaca" opacity="0.55"/>
<circle cx="387.2" cy="221.1" r="0.68" fill="#cacaca" opacity="0.55"/>
<circle cx="381.7" cy="206.5" r="0.69" fill="#cacaca" opacity="0.55"/>
<circle cx="400.2" cy="222.3" r="0.57" fill="#cacaca" opacity="0.55"/>
<circle cx="414.4" cy="234.8" r="0.81" fill="#cacaca" opacity="0.55"/>
<circle cx="384.5" cy="260.9" r="0.95" fill="#cacaca" opacity="0.55"/>
<circle cx="401.9" cy="246.7" r="0.92" fill="#cacaca" opacity="0.55"/>
<circle cx="395.1" cy="231.3" r="0.73" fill="#cacaca" opacity="0.55"/>
<circle cx="395.3" cy="234.8" r="0.82" fill="#cacaca" opacity="0.55"/>
<circle cx="396.9" cy="254.8" r="1.04" fill="#cacaca" opacity="0.55"/>
<circle cx="379.6" cy="206.9" r="0.68" fill="#cacaca" opacity="0.55"/>
<circle cx="368.9" cy="255.3" r="0.87" fill="#cacaca" opacity="0.55"/>
<circle cx="383.1" cy="217.5" r="1.02" fill="#cacaca" opacity="0.55"/>
<circle cx="413.8" cy="248.2" r="0.92" fill="#cacaca" opacity="0.55"/>
<circle cx="408.7" cy="233.9" r="0.74" fill="#cacaca" opacity="0.55"/>
<circle cx="398.0" cy="260.5" r="1.09" fill="#cacaca" opacity="0.55"/>
<circle cx="418.4" cy="257.7" r="0.54" fill="#cacaca" opacity="0.55"/>
<circle cx="380.9" cy="266.2" r="0.83" fill="#cacaca" opacity="0.55"/>
<circle cx="395.9" cy="224.9" r="1.02" fill="#cacaca" opacity="0.55"/>
<circle cx="396.0" cy="267.4" r="0.55" fill="#cacaca" opacity="0.55"/>
<circle cx="422.6" cy="206.3" r="0.59" fill="#cacaca" opacity="0.55"/>
<circle cx="388.9" cy="245.5" r="0.57" fill="#cacaca" opacity="0.55"/>
<circle cx="398.5" cy="264.2" r="0.76" fill="#cacaca" opacity="0.55"/>
<circle cx="409.7" cy="242.5" r="0.85" fill="#cacaca" opacity="0.55"/>
<circle cx="376.8" cy="234.5" r="1.04" fill="#cacaca" opacity="0.55"/>
<circle cx="404.8" cy="219.0" r="0.77" fill="#cacaca" opacity="0.55"/>
<circle cx="397.5" cy="226.5" r="0.85" fill="#cacaca" opacity="0.55"/>
<circle cx="402.4" cy="206.6" r="0.63" fill="#cacaca" opacity="0.55"/>
<circle cx="403.8" cy="218.9" r="0.54" fill="#cacaca" opacity="0.55"/>
<circle cx="409.7" cy="226.4" r="1.07" fill="#cacaca" opacity="0.55"/>
<circle cx="398.3" cy="211.8" r="0.88" fill="#cacaca" opacity="0.55"/>
<circle cx="381.8" cy="256.4" r="0.93" fill="#cacaca" opacity="0.55"/>
<circle cx="409.5" cy="209.1" r="0.52" fill="#cacaca" opacity="0.55"/>
<circle cx="411.7" cy="214.3" r="0.62" fill="#cacaca" opacity="0.55"/>
<circle cx="368.8" cy="215.7" r="0.78" fill="#cacaca" opacity="0.55"/>
<circle cx="420.7" cy="225.6" r="0.66" fill="#cacaca" opacity="0.55"/>
<circle cx="413.4" cy="217.0" r="0.88" fill="#cacaca" opacity="0.55"/>
<circle cx="401.5" cy="264.0" r="0.53" fill="#cacaca" opacity="0.55"/>
<circle cx="398.6" cy="229.4" r="0.99" fill="#cacaca" opacity="0.55"/>
<circle cx="381.2" cy="250.2" r="0.61" fill="#cacaca" opacity="0.55"/>
<circle cx="394.8" cy="266.0" r="0.64" fill="#cacaca" opacity="0.55"/>
<circle cx="382.7" cy="262.8" r="0.90" fill="#cacaca" opacity="0.55"/>
<circle cx="370.8" cy="217.2" r="0.64" fill="#cacaca" opacity="0.55"/>
<circle cx="383.3" cy="258.3" r="0.92" fill="#cacaca" opacity="0.55"/>
<circle cx="421.9" cy="247.4" r="0.88" fill="#cacaca" opacity="0.55"/>
<circle cx="388.5" cy="250.3" r="0.80" fill="#cacaca" opacity="0.55"/>
<circle cx="370.4" cy="236.3" r="0.73" fill="#cacaca" opacity="0.55"/>
<circle cx="396.8" cy="208.5" r="0.52" fill="#cacaca" opacity="0.55"/>
<circle cx="422.0" cy="228.7" r="0.70" fill="#cacaca" opacity="0.55"/>
<circle cx="375.4" cy="242.5" r="1.05" fill="#cacaca" opacity="0.55"/>
<circle cx="377.2" cy="236.8" r="0.80" fill="#cacaca" opacity="0.55"/>
<circle cx="409.9" cy="240.8" r="0.64" fill="#cacaca" opacity="0.55"/>
<circle cx="377.7" cy="250.8" r="0.55" fill="#cacaca" opacity="0.55"/>
<circle cx="415.4" cy="207.6" r="0.61" fill="#cacaca" opacity="0.55"/>
<circle cx="393.2" cy="258.3" r="0.87" fill="#cacaca" opacity="0.55"/>
<circle cx="408.8" cy="253.1" r="0.93" fill="#cacaca" opacity="0.55"/>
<circle cx="370.0" cy="257.1" r="0.59" fill="#cacaca" opacity="0.55"/>
<circle cx="376.2" cy="207.8" r="0.52" fill="#cacaca" opacity="0.55"/>
<circle cx="416.1" cy="229.3" r="0.55" fill="#cacaca" opacity="0.55"/>
<circle cx="369.7" cy="258.4" r="0.86" fill="#cacaca" opacity="0.55"/>
<circle cx="418.3" cy="207.8" r="0.57" fill="#cacaca" opacity="0.55"/>
<circle cx="383.1" cy="217.4" r="0.57" fill="#cacaca" opacity="0.55"/>
<circle cx="378.3" cy="245.5" r="0.60" fill="#cacaca" opacity="0.55"/>
<circle cx="376.5" cy="239.0" r="0.73" fill="#cacaca" opacity="0.55"/>
<circle cx="375.5" cy="241.0" r="0.80" fill="#cacaca" opacity="0.55"/>
<circle cx="388.8" cy="235.1" r="0.52" fill="#cacaca" opacity="0.55"/>
<circle cx="401.5" cy="217.6" r="0.70" fill="#cacaca" opacity="0.55"/>
<circle cx="367.6" cy="261.0" r="0.85" fill="#cacaca" opacity="0.55"/>
<circle cx="389.0" cy="239.4" r="1.06" fill="#cacaca" opacity="0.55"/>
<circle cx="374.5" cy="229.5" r="0.92" fill="#cacaca" opacity="0.55"/>
<circle cx="387.9" cy="249.7" r="1.04" fill="#cacaca" opacity="0.55"/>
<circle cx="369.4" cy="223.3" r="0.68" fill="#cacaca" opacity="0.55"/>
<circle cx="409.0" cy="254.5" r="0.92" fill="#cacaca" opacity="0.55"/>
<circle cx="418.8" cy="217.1" r="0.74" fill="#cacaca" opacity="0.55"/>
<circle cx="414.8" cy="253.3" r="0.57" fill="#cacaca" opacity="0.55"/>
<circle cx="421.9" cy="251.8" r="1.02" fill="#cacaca" opacity="0.55"/>
<circle cx="387.3" cy="243.3" r="1.08" fill="#cacaca" opacity="0.55"/>
<circle cx="417.3" cy="241.6" r="1.03" fill="#cacaca" opacity="0.55"/>
<circle cx="422.9" cy="258.0" r="0.89" fill="#cacaca" opacity="0.55"/>
<circle cx="420.8" cy="214.5" r="0.74" fill="#cacaca" opacity="0.55"/>
<circle cx="398.6" cy="213.7" r="0.97" fill="#cacaca" opacity="0.55"/>
<circle cx="370.6" cy="244.8" r="0.67" fill="#cacaca" opacity="0.55"/>
<circle cx="385.1" cy="243.4" r="0.61" fill="#cacaca" opacity="0.55"/>
<circle cx="392.1" cy="259.1" r="1.09" fill="#cacaca" opacity="0.55"/>
<circle cx="381.8" cy="228.4" r="0.92" fill="#cacaca" opacity="0.55"/>
<circle cx="377.7" cy="258.6" r="0.62" fill="#cacaca" opacity="0.55"/>
<circle cx="398.2" cy="226.7" r="0.50" fill="#cacaca" opacity="0.55"/>
<circle cx="367.2" cy="205.6" r="0.70" fill="#cacaca" opacity="0.55"/>
<circle cx="382.5" cy="267.5" r="0.88" fill="#cacaca" opacity="0.55"/>
<circle cx="370.7" cy="250.3" r="0.64" fill="#cacaca" opacity="0.55"/>
<circle cx="394.0" cy="250.7" r="1.01" fill="#cacaca" opacity="0.55"/>
<circle cx="419.4" cy="231.8" r="0.69" fill="#cacaca" opacity="0.55"/>
<circle cx="389.3" cy="225.0" r="0.94" fill="#cacaca" opacity="0.55"/>
<circle cx="393.0" cy="248.3" r="0.59" fill="#cacaca" opacity="0.55"/>
<circle cx="410.9" cy="265.9" r="0.62" fill="#cacaca" opacity="0.55"/>
<circle cx="401.6" cy="215.6" r="0.52" fill="#cacaca" opacity="0.55"/>
<circle cx="390.2" cy="217.0" r="0.94" fill="#cacaca" opacity="0.55"/>
<circle cx="399.1" cy="247.7" r="1.08" fill="#cacaca" opacity="0.55"/>
<circle cx="370.4" cy="211.6" r="0.52" fill="#cacaca" opacity="0.55"/>
<circle cx="392.8" cy="257.0" r="0.91" fill="#cacaca" opacity="0.55"/>
<circle cx="397.7" cy="259.0" r="0.72" fill="#cacaca" opacity="0.55"/>
<circle cx="373.4" cy="245.6" r="0.52" fill="#cacaca" opacity="0.55"/>
<circle cx="379.9" cy="207.4" r="0.60" fill="#cacaca" opacity="0.55"/>
<circle cx="370.7" cy="238.7" r="0.58" fill="#cacaca" opacity="0.55"/>
<circle cx="400.8" cy="257.0" r="0.71" fill="#cacaca" opacity="0.55"/>
<circle cx="373.8" cy="247.5" r="0.94" fill="#cacaca" opacity="0.55"/>
<circle cx="416.5" cy="240.1" r="0.85" fill="#cacaca" opacity="0.55"/>
<circle cx="415.3" cy="247.8" r="1.08" fill="#cacaca" opacity="0.55"/>
<circle cx="383.1" cy="253.9" r="0.88" fill="#cacaca" opacity="0.55"/>
<circle cx="393.3" cy="206.2" r="0.79" fill="#cacaca" opacity="0.55"/>
<circle cx="381.8" cy="243.1" r="0.81" fill="#cacaca" opacity="0.55"/>
<circle cx="395.6" cy="209.2" r="0.58" fill="#cacaca" opacity="0.55"/>
<circle cx="401.0" cy="248.1" r="1.09" fill="#cacaca" opacity="0.55"/>
<circle cx="411.4" cy="223.6" r="0.77" fill="#cacaca" opacity="0.55"/>
<circle cx="395.4" cy="255.7" r="0.74" fill="#cacaca" opacity="0.55"/>
<circle cx="418.6" cy="235.7" r="0.74" fill="#cacaca" opacity="0.55"/>
<circle cx="393.9" cy="227.8" r="1.10" fill="#cacaca" opacity="0.55"/>
<path d="M410,250Q407,258 405,264" stroke="#ddd" stroke-width="1.2" fill="none" opacity="0.7"/><circle cx="406" cy="263" r="2.2" fill="#ccc" opacity="0.7"/>
<circle cx="372.4" cy="248.0" r="1.58" fill="#c8c8c8" opacity="0.6"/>
<circle cx="403.9" cy="241.0" r="1.65" fill="#c8c8c8" opacity="0.6"/>
</g>
<text x="16.60" y="197.40" font-size="7.25">hIAPP<tspan font-size="5.22">1-37</tspan></text>
<text x="56.00" y="197.40" font-size="7.25">hIAPP<tspan font-size="5.22">1-37</tspan>/PEG-PE</text>
<text x="87.20" y="203.70" font-size="5.2" text-anchor="middle" >(1/1)</text>
<text x="122.80" y="197.40" font-size="7.25">hIAPP<tspan font-size="5.22">1-37</tspan>/PEG-PE</text>
<text x="153.30" y="203.70" font-size="5.2" text-anchor="middle" >(1/10)</text>
<text x="188.80" y="197.40" font-size="7.25" text-anchor="start" >PEG-PE</text>
<text x="258.50" y="197.40" font-size="7.25">hIAPP<tspan font-size="5.22">8-37</tspan></text>
<text x="305.50" y="197.40" font-size="7.25">hIAPP<tspan font-size="5.22">8-37</tspan>/PEG-PE</text>
<text x="333.90" y="203.30" font-size="5.2" text-anchor="middle" >(1/1)</text>
<text x="372.00" y="196.20" font-size="7.25">hIAPP<tspan font-size="5.22">8-37</tspan>/PEG-PE</text>
<text x="402.50" y="202.70" font-size="5.2" text-anchor="middle" >(1/10)</text>
<path d="M42,270.3H57.8" stroke="#999" stroke-width="1"/>
<text x="49.50" y="277.20" font-size="6.1" text-anchor="middle" >200 nm</text>
<path d="M98,270.3H114.7" stroke="#999" stroke-width="1"/>
<text x="106.60" y="277.20" font-size="6.1" text-anchor="middle" >200 nm</text>
<path d="M155.3,270.3H171" stroke="#999" stroke-width="1"/>
<text x="162.55" y="277.20" font-size="6.1" text-anchor="middle" >200 nm</text>
<path d="M212.2,270.3H227.4" stroke="#999" stroke-width="1"/>
<text x="219.20" y="277.20" font-size="6.1" text-anchor="middle" >200 nm</text>
<path d="M291,270.3H307.2" stroke="#000" stroke-width="1"/>
<text x="298.50" y="277.20" font-size="6.1" text-anchor="middle" >200 nm</text>
<path d="M348.9,270.3H364.5" stroke="#000" stroke-width="1"/>
<text x="355.50" y="277.20" font-size="6.1" text-anchor="middle" >200 nm</text>
<path d="M406.7,270.3H422.8" stroke="#000" stroke-width="1"/>
<text x="413.65" y="277.20" font-size="6.1" text-anchor="middle" >200 nm</text>
<polyline points="443.00,97.30 443.20,97.30 443.40,97.30 443.60,97.30 443.80,97.30 444.00,97.30 444.20,97.30 444.40,97.30 444.60,97.30 444.80,97.30 445.00,97.30 445.20,97.30 445.40,97.30 445.60,97.30 445.80,97.30 446.00,97.30 446.20,97.30 446.40,97.30 446.60,97.30 446.80,97.30 447.00,97.30 447.20,97.30 447.40,97.30 447.60,97.30 447.80,97.30 448.00,97.30 448.20,97.30 448.40,97.30 448.60,97.30 448.80,97.30 449.00,97.30 449.20,97.30 449.40,97.30 449.60,97.30 449.80,97.30 450.00,97.30 450.20,97.30 450.40,97.30 450.60,97.30 450.80,97.30 451.00,97.30 451.20,97.30 451.40,97.30 451.60,97.30 451.80,97.30 452.00,97.30 452.20,97.30 452.40,97.30 452.60,97.30 452.80,97.30 453.00,97.30 453.20,97.30 453.40,97.30 453.60,97.30 453.80,97.30 454.00,97.30 454.20,97.30 454.40,97.30 454.60,97.30 454.80,97.30 455.00,97.30 455.20,97.30 455.40,97.30 455.60,97.30 455.80,97.30 456.00,97.30 456.20,97.30 456.40,97.30 456.60,97.30 456.80,97.30 457.00,97.30 457.20,97.30 457.40,97.30 457.60,97.30 457.80,97.30 458.00,97.30 458.20,97.30 458.40,97.30 458.60,97.30 458.80,97.30 459.00,97.30 459.20,97.30 459.40,97.30 459.60,97.30 459.80,97.30 460.00,97.30 460.20,97.30 460.40,97.30 460.60,97.30 460.80,97.29 461.00,97.29 461.20,97.29 461.40,97.29 461.60,97.29 461.80,97.29 462.00,97.29 462.20,97.29 462.40,97.29 462.60,97.29 462.80,97.29 463.00,97.29 463.20,97.29 463.40,97.29 463.60,97.29 463.80,97.29 464.00,97.29 464.20,97.29 464.40,97.29 464.60,97.29 464.80,97.29 465.00,97.29 465.20,97.29 465.40,97.29 465.60,97.29 465.80,97.29 466.00,97.29 466.20,97.29 466.40,97.29 466.60,97.29 466.80,97.29 467.00,97.29 467.20,97.29 467.40,97.29 467.60,97.29 467.80,97.29 468.00,97.29 468.20,97.29 468.40,97.29 468.60,97.29 468.80,97.29 469.00,97.29 469.20,97.29 469.40,97.29 469.60,97.29 469.80,97.29 470.00,97.29 470.20,97.29 470.40,97.29 470.60,97.29 470.80,97.29 471.00,97.29 471.20,97.29 471.40,97.29 471.60,97.29 471.80,97.29 472.00,97.29 472.20,97.29 472.40,97.29 472.60,97.29 472.80,97.29 473.00,97.29 473.20,97.29 473.40,97.29 473.60,97.29 473.80,97.29 474.00,97.29 474.20,97.29 474.40,97.29 474.60,97.29 474.80,97.29 475.00,97.29 475.20,97.29 475.40,97.29 475.60,97.29 475.80,97.29 476.00,97.29 476.20,97.29 476.40,97.29 476.60,97.29 476.80,97.29 477.00,97.29 477.20,97.29 477.40,97.29 477.60,97.29 477.80,97.29 478.00,97.29 478.20,97.29 478.40,97.29 478.60,97.29 478.80,97.29 479.00,97.29 479.20,97.29 479.40,97.29 479.60,97.29 479.80,97.29 480.00,97.29 480.20,97.29 480.40,97.28 480.60,97.28 480.80,97.28 481.00,97.28 481.20,97.28 481.40,97.28 481.60,97.28 481.80,97.28 482.00,97.28 482.20,97.27 482.40,97.27 482.60,97.27 482.80,97.27 483.00,97.26 483.20,97.26 483.40,97.25 483.60,97.24 483.80,97.23 484.00,97.21 484.20,97.19 484.40,97.16 484.60,97.12 484.80,97.05 485.00,96.92 485.20,96.71 485.40,96.33 485.60,95.88 485.70,95.79 485.80,95.88 486.00,96.33 486.20,96.71 486.40,96.92 486.60,97.05 486.80,97.12 487.00,97.16 487.20,97.19 487.40,97.21 487.60,97.23 487.80,97.24 488.00,97.25 488.20,97.25 488.40,97.26 488.60,97.26 488.80,97.27 489.00,97.27 489.20,97.27 489.40,97.27 489.60,97.28 489.80,97.28 490.00,97.28 490.20,97.28 490.40,97.28 490.60,97.28 490.80,97.28 491.00,97.28 491.20,97.28 491.40,97.28 491.60,97.28 491.80,97.29 492.00,97.29 492.20,97.29 492.40,97.29 492.60,97.29 492.80,97.29 493.00,97.29 493.20,97.29 493.40,97.29 493.60,97.29 493.80,97.29 494.00,97.29 494.20,97.29 494.40,97.29 494.60,97.29 494.80,97.29 495.00,97.29 495.20,97.29 495.40,97.29 495.60,97.29 495.80,97.29 496.00,97.29 496.20,97.29 496.40,97.29 496.60,97.29 496.80,97.29 497.00,97.29 497.20,97.29 497.40,97.29 497.60,97.29 497.80,97.29 498.00,97.29 498.20,97.29 498.40,97.29 498.60,97.29 498.80,97.29 499.00,97.29 499.20,97.29 499.40,97.29 499.60,97.29 499.80,97.29 500.00,97.29 500.20,97.29 500.40,97.29 500.60,97.29 500.80,97.29 501.00,97.29 501.20,97.29 501.40,97.29 501.60,97.29 501.80,97.29 502.00,97.29 502.20,97.29 502.40,97.29 502.60,97.29 502.80,97.29 503.00,97.29 503.20,97.29 503.40,97.29 503.60,97.29 503.80,97.29 504.00,97.29 504.20,97.29 504.40,97.29 504.60,97.29 504.80,97.29 505.00,97.29 505.20,97.29 505.40,97.29 505.60,97.29 505.80,97.29 506.00,97.29 506.20,97.29 506.40,97.29 506.60,97.29 506.80,97.29 507.00,97.29 507.20,97.29 507.40,97.29 507.60,97.29 507.80,97.29 508.00,97.29 508.20,97.29 508.40,97.29 508.60,97.29 508.80,97.29 509.00,97.29 509.20,97.29 509.40,97.29 509.60,97.29 509.80,97.29 510.00,97.29 510.20,97.29 510.40,97.29 510.60,97.29 510.80,97.29 511.00,97.29 511.20,97.29 511.40,97.29 511.60,97.29 511.80,97.29 512.00,97.29 512.20,97.29 512.40,97.29 512.60,97.29 512.80,97.29 513.00,97.29 513.20,97.29 513.40,97.29 513.60,97.29 513.80,97.29 514.00,97.29 514.20,97.28 514.40,97.28 514.60,97.28 514.80,97.28 515.00,97.28 515.20,97.28 515.40,97.28 515.60,97.28 515.80,97.28 516.00,97.28 516.20,97.28 516.40,97.28 516.60,97.28 516.80,97.28 517.00,97.28 517.20,97.28 517.40,97.28 517.60,97.28 517.80,97.28 518.00,97.28 518.20,97.28 518.40,97.28 518.60,97.28 518.80,97.28 519.00,97.28 519.20,97.28 519.40,97.28 519.60,97.28 519.80,97.28 520.00,97.28 520.20,97.28 520.40,97.28 520.60,97.28 520.80,97.28 521.00,97.28 521.20,97.28 521.40,97.28 521.60,97.28 521.80,97.28 522.00,97.28 522.20,97.28 522.40,97.28 522.60,97.28 522.80,97.28 523.00,97.28 523.20,97.28 523.40,97.28 523.60,97.28 523.80,97.28 524.00,97.28 524.20,97.28 524.40,97.28 524.60,97.28 524.80,97.28 525.00,97.28 525.20,97.28 525.40,97.28 525.60,97.28 525.80,97.28 526.00,97.28 526.20,97.28 526.40,97.28 526.60,97.28 526.80,97.28 527.00,97.28 527.20,97.28 527.40,97.28 527.60,97.27 527.80,97.27 528.00,97.27 528.20,97.27 528.40,97.27 528.60,97.27 528.80,97.27 529.00,97.27 529.20,97.27 529.40,97.27 529.60,97.27 529.80,97.27 530.00,97.27 530.20,97.27 530.40,97.27 530.60,97.27 530.80,97.27 531.00,97.27 531.20,97.27 531.40,97.27 531.60,97.27 531.80,97.27 532.00,97.27 532.20,97.27 532.40,97.27 532.60,97.27 532.80,97.27 533.00,97.26 533.20,97.26 533.40,97.26 533.60,97.26 533.80,97.26 534.00,97.26 534.20,97.26 534.40,97.26 534.60,97.26 534.80,97.26 535.00,97.26 535.20,97.26 535.40,97.26 535.60,97.26 535.80,97.25 536.00,97.25 536.20,97.25 536.40,97.25 536.60,97.25 536.80,97.25 537.00,97.25 537.20,97.25 537.40,97.24 537.60,97.24 537.80,97.24 538.00,97.24 538.20,97.24 538.40,97.24 538.60,97.23 538.80,97.23 539.00,97.23 539.20,97.22 539.40,97.22 539.60,97.22 539.80,97.21 540.00,97.21 540.20,97.20 540.40,97.20 540.60,97.19 540.80,97.19 541.00,97.18 541.20,97.17 541.40,97.16 541.60,97.15 541.80,97.14 542.00,97.12 542.20,97.10 542.40,97.08 542.60,97.05 542.80,97.02 543.00,96.98 543.20,96.93 543.40,96.86 543.60,96.77 543.80,96.64 544.00,96.47 544.20,96.21 544.40,95.81 544.60,95.16 544.80,94.03 545.00,92.01 545.20,88.86 545.40,86.76 545.60,88.86 545.80,92.01 546.00,94.02 546.20,95.15 546.40,95.81 546.60,96.20 546.80,96.46 547.00,96.63 547.20,96.76 547.40,96.85 547.60,96.91 547.80,96.97 548.00,97.01 548.20,97.04 548.40,97.06 548.60,97.09 548.80,97.10 549.00,97.12 549.20,97.13 549.40,97.14 549.60,97.15 549.80,97.16 550.00,97.16 550.20,97.17 550.40,97.17 550.60,97.18 550.80,97.18 551.00,97.18 551.20,97.19 551.40,97.19 551.60,97.19 551.80,97.19 552.00,97.19 552.20,97.19 552.40,97.20 552.60,97.20 552.80,97.20 553.00,97.20 553.20,97.20 553.40,97.20 553.60,97.20 553.80,97.20 554.00,97.20 554.20,97.20 554.40,97.20 554.60,97.20 554.80,97.19 555.00,97.19 555.20,97.19 555.40,97.19 555.60,97.19 555.80,97.19 556.00,97.19 556.20,97.19 556.40,97.18 556.60,97.18 556.80,97.18 557.00,97.18 557.20,97.18 557.40,97.17 557.60,97.17 557.80,97.17 558.00,97.16 558.20,97.16 558.40,97.16 558.60,97.15 558.80,97.15 559.00,97.14 559.20,97.14 559.40,97.13 559.60,97.13 559.80,97.12 560.00,97.11 560.20,97.11 560.40,97.10 560.60,97.09 560.80,97.07 561.00,97.06 561.20,97.04 561.40,97.02 561.60,97.00 561.80,96.97 562.00,96.93 562.20,96.89 562.40,96.82 562.60,96.73 562.80,96.61 563.00,96.41 563.20,96.09 563.40,95.55 563.60,94.58 563.80,93.07 564.00,92.06 564.20,93.05 564.40,94.54 564.60,95.49 564.80,96.01 565.00,96.31 565.20,96.48 565.40,96.58 565.60,96.64 565.80,96.68 566.00,96.69 566.20,96.69 566.40,96.68 566.60,96.65 566.80,96.60 567.00,96.54 567.20,96.46 567.40,96.34 567.60,96.17 567.80,95.94 568.00,95.58 568.20,95.00 568.40,93.97 568.60,91.93 568.80,87.14 569.00,73.89 569.20,54.86 569.40,73.85 569.60,87.07 569.80,91.82 570.00,93.81 570.20,94.79 570.40,95.31 570.60,95.61 570.80,95.78 571.00,95.86 571.20,95.87 571.40,95.81 571.60,95.67 571.80,95.41 572.00,94.95 572.20,94.11 572.40,92.47 572.60,89.56 572.80,87.30 573.00,89.46 573.20,92.27 573.40,93.80 573.60,94.54 573.80,94.86 574.00,94.96 574.20,94.90 574.40,94.70 574.60,94.32 574.80,93.66 575.00,92.49 575.20,90.24 575.40,85.54 575.60,77.62 575.70,75.52 575.80,77.17 576.00,84.12 576.20,87.59 576.40,88.01 576.60,85.97 576.80,80.27 577.00,70.10 577.10,67.19 577.20,68.90 577.40,76.29 577.60,77.66 577.80,70.85 578.00,46.59 578.20,14.00 578.30,14.00 578.40,14.00 578.60,47.34 578.80,72.59 579.00,81.54 579.20,85.12 579.40,86.35 579.60,86.07 579.80,84.25 580.00,79.98 580.20,70.17 580.40,43.72 580.60,14.00 580.70,14.00 580.80,14.00 581.00,31.88 581.20,43.25 581.40,28.72 581.50,24.73 581.60,31.18 581.80,53.12 582.00,62.08 582.20,58.19 582.40,46.37 582.50,43.74 582.60,46.96 582.80,60.11 583.00,65.98 583.20,62.36 583.40,58.24 583.60,67.52 583.80,78.28 584.00,84.37 584.20,87.55 584.40,89.24 584.60,90.08 584.80,90.34 585.00,90.09 585.20,89.27 585.40,87.61 585.60,84.52 585.80,78.53 586.00,65.69 586.20,34.37 586.40,14.00 586.50,14.00 586.60,14.00 586.80,34.72 587.00,66.28 587.20,79.39 587.40,85.68 587.60,89.11 587.80,91.18 588.00,92.52 588.20,93.44 588.40,94.10 588.60,94.60 588.80,94.97 589.00,95.27 589.20,95.50 589.40,95.69 589.60,95.85 589.80,95.99 590.00,96.10 590.20,96.20 590.40,96.28 590.60,96.35 590.80,96.42 591.00,96.47 591.20,96.52 591.40,96.57 591.60,96.61 591.80,96.64 592.00,96.68 592.20,96.71 592.40,96.73 592.60,96.76 592.80,96.78 593.00,96.80 593.20,96.82 593.40,96.84 593.60,96.85 593.80,96.87 594.00,96.88 594.20,96.89 594.40,96.90 594.60,96.91 594.80,96.92 595.00,96.93 595.20,96.94 595.40,96.95 595.60,96.95 595.80,96.96 596.00,96.97 596.20,96.97 596.40,96.98 596.60,96.98 596.80,96.98 597.00,96.99 597.20,96.99 597.40,96.99 597.60,97.00 597.80,97.00 598.00,97.00 598.20,97.00 598.40,97.00 598.60,97.00 598.80,97.00 599.00,97.00 599.20,96.99 599.40,96.99 599.60,96.99 599.80,96.99 600.00,96.98 600.20,96.98 600.40,96.97 600.60,96.97 600.80,96.96 601.00,96.95 601.20,96.94 601.40,96.93 601.60,96.92 601.80,96.91 602.00,96.90 602.20,96.88 602.40,96.87 602.60,96.85 602.80,96.83 603.00,96.81 603.20,96.78 603.40,96.75 603.60,96.72 603.80,96.69 604.00,96.65 604.20,96.60 604.40,96.55 604.60,96.49 604.80,96.42 605.00,96.34 605.20,96.25 605.40,96.14 605.60,96.02 605.80,95.87 606.00,95.69 606.20,95.48 606.40,95.22 606.60,94.91 606.80,94.53 607.00,94.07 607.20,93.51 607.40,92.84 607.60,92.07 607.80,91.22 608.00,90.37 608.20,89.66 608.40,89.25 608.50,89.19 608.60,89.25 608.80,89.66 609.00,90.38 609.20,91.22 609.40,92.07 609.60,92.84 609.80,93.51 610.00,94.07 610.20,94.53 610.40,94.91 610.60,95.22 610.80,95.48 611.00,95.69 611.20,95.87 611.40,96.02 611.60,96.14 611.80,96.25 612.00,96.34 612.20,96.42 612.40,96.49 612.60,96.55 612.80,96.60 613.00,96.65 613.20,96.69 613.40,96.72 613.60,96.75 613.80,96.78 614.00,96.81 614.20,96.83 614.40,96.85 614.60,96.87 614.80,96.88 615.00,96.90 615.20,96.91 615.40,96.92 615.60,96.93 615.80,96.94 616.00,96.95 616.20,96.95 616.40,96.96 616.60,96.96 616.80,96.97 617.00,96.97 617.20,96.97 617.40,96.97 617.60,96.97 617.80,96.97 618.00,96.97 618.20,96.97 618.40,96.97 618.60,96.96 618.80,96.96 619.00,96.95 619.20,96.94 619.40,96.94 619.60,96.93 619.80,96.92 620.00,96.90 620.20,96.89 620.40,96.87 620.60,96.85 620.80,96.83 621.00,96.81 621.20,96.78 621.40,96.74 621.60,96.70 621.80,96.66 622.00,96.60 622.20,96.53 622.40,96.45 622.60,96.35 622.80,96.22 623.00,96.06 623.20,95.85 623.40,95.57 623.60,95.20 623.80,94.67 624.00,93.91 624.20,92.80 624.40,91.18 624.60,88.95 624.80,86.54 625.00,85.37 625.20,86.50 625.40,88.86 625.60,91.04 625.80,92.62 626.00,93.68 626.20,94.38 626.40,94.84 626.60,95.15 626.80,95.35 627.00,95.47 627.20,95.53 627.40,95.53 627.60,95.49 627.80,95.39 628.00,95.24 628.20,95.00 628.40,94.67 628.60,94.19 628.80,93.49 629.00,92.42 629.20,90.67 629.40,87.56 629.60,81.32 629.80,66.24 630.00,21.13 630.20,14.00 630.40,20.80 630.60,65.55 630.80,80.21 631.00,85.91 631.20,88.28 631.40,88.94 631.60,88.28 631.80,85.92 632.00,80.22 632.20,65.57 632.40,20.82 632.60,14.00 632.80,21.16 633.00,66.28 633.20,81.37 633.40,87.62 633.60,90.73 633.80,92.49 634.00,93.59 634.20,94.31 634.40,94.81 634.60,95.17 634.80,95.43 635.00,95.63 635.20,95.79 635.40,95.90 635.60,95.99 635.80,96.05 636.00,96.10 636.20,96.13 636.40,96.14 636.60,96.14 636.80,96.12 637.00,96.08 637.20,96.03 637.40,95.96 637.60,95.86 637.80,95.74 638.00,95.57 638.20,95.35 638.40,95.07 638.60,94.69 638.80,94.18 639.00,93.45 639.20,92.41 639.40,90.81 639.60,88.24 639.80,83.73 640.00,74.90 640.20,54.96 640.40,14.00 640.60,14.00 640.80,14.00 641.00,54.99 641.20,74.94 641.40,83.79 641.60,88.32 641.80,90.91 642.00,92.52 642.20,93.58 642.40,94.32 642.60,94.86 642.80,95.26 643.00,95.56 643.20,95.80 643.40,95.99 643.60,96.15 643.80,96.28 644.00,96.38 644.20,96.47 644.40,96.55 644.60,96.62 644.80,96.67 645.00,96.72 645.20,96.76 645.40,96.80 645.60,96.84 645.80,96.87 646.00,96.89 646.20,96.92 646.40,96.94 646.60,96.96 646.80,96.98 647.00,96.99 647.20,97.01 647.40,97.02 647.60,97.04 647.80,97.05 648.00,97.06 648.20,97.07 648.40,97.08 648.60,97.09 648.80,97.10 649.00,97.10 649.20,97.11 649.40,97.12 649.60,97.12 649.80,97.13 650.00,97.14 650.20,97.14 650.40,97.15 650.60,97.15 650.80,97.16 651.00,97.16 651.20,97.16 651.40,97.17 651.60,97.17 651.80,97.18 652.00,97.18 652.20,97.18 652.40,97.19 652.60,97.19 652.80,97.19 653.00,97.19 653.20,97.20 653.40,97.20 653.60,97.20 653.80,97.20 654.00,97.21 654.20,97.21 654.40,97.21 654.60,97.21 654.80,97.21 655.00,97.22 655.20,97.22 655.40,97.22 655.60,97.22 655.80,97.22 656.00,97.22 656.20,97.22 656.40,97.23 656.60,97.23 656.80,97.23 657.00,97.23 657.20,97.23 657.40,97.23 657.60,97.23 657.80,97.23 658.00,97.24 658.20,97.24 658.40,97.24 658.60,97.24 658.80,97.24 659.00,97.24 659.20,97.24 659.40,97.24 659.60,97.24 659.80,97.24 660.00,97.25 660.20,97.25 660.40,97.25 660.60,97.25 660.80,97.25 661.00,97.25 661.20,97.25 661.40,97.25 661.60,97.25 661.80,97.25 662.00,97.25 662.20,97.25 662.40,97.25 662.60,97.25 662.80,97.26 663.00,97.26 663.20,97.26 663.40,97.26 663.60,97.26 663.80,97.26 664.00,97.26 664.20,97.26 664.40,97.26 664.60,97.26 664.80,97.26 665.00,97.26 665.20,97.26 665.40,97.26 665.60,97.26 665.80,97.26 666.00,97.26 666.20,97.26 666.40,97.26 666.60,97.26 666.80,97.26 667.00,97.27 667.20,97.27 667.40,97.27 667.60,97.27 667.80,97.27 668.00,97.27 668.20,97.27 668.40,97.27 668.60,97.27 668.80,97.27 669.00,97.27 669.20,97.27 669.40,97.27 669.60,97.27 669.80,97.27 670.00,97.27 670.20,97.27 670.40,97.27 670.60,97.27 670.80,97.27 671.00,97.27 671.20,97.27 671.40,97.27 671.60,97.27 671.80,97.27 672.00,97.27 672.20,97.27 672.40,97.27 672.60,97.27 672.80,97.27 673.00,97.27 673.20,97.27 673.40,97.27 673.60,97.28 673.80,97.28 674.00,97.28 674.20,97.28 674.40,97.28 674.60,97.28 674.80,97.28 675.00,97.28 675.20,97.28 675.40,97.28 675.60,97.28 675.80,97.28 676.00,97.28 676.20,97.28 676.40,97.28 676.60,97.28 676.80,97.28 677.00,97.28 677.20,97.28 677.40,97.28 677.60,97.28 677.80,97.28" fill="none" stroke="#555" stroke-width="0.55" stroke-linejoin="round"/>
<path d="M586.5,14V88M640.6,14V88" stroke="#444" stroke-width="0.9"/>
<path d="M443,100.0H678" stroke="#999" stroke-width="0.6"/>
<path d="M448.66,100.0v0.8M452.99,100.0v0.8M457.32,100.0v0.8M461.65,100.0v1.2M465.98,100.0v0.8M470.31,100.0v0.8M474.64,100.0v0.8M478.97,100.0v0.8M483.30,100.0v1.2M487.63,100.0v0.8M491.96,100.0v0.8M496.29,100.0v0.8M500.62,100.0v0.8M504.95,100.0v1.2M509.28,100.0v0.8M513.61,100.0v0.8M517.94,100.0v0.8M522.27,100.0v0.8M526.60,100.0v1.2M530.93,100.0v0.8M535.26,100.0v0.8M539.59,100.0v0.8M543.92,100.0v0.8M548.25,100.0v1.2M552.58,100.0v0.8M556.91,100.0v0.8M561.24,100.0v0.8M565.57,100.0v0.8M569.90,100.0v1.2M574.23,100.0v0.8M578.56,100.0v0.8M582.89,100.0v0.8M587.22,100.0v0.8M591.55,100.0v1.2M595.88,100.0v0.8M600.21,100.0v0.8M604.54,100.0v0.8M608.87,100.0v0.8M613.20,100.0v1.2M617.53,100.0v0.8M621.86,100.0v0.8M626.19,100.0v0.8M630.52,100.0v0.8M634.85,100.0v1.2M639.18,100.0v0.8M643.51,100.0v0.8M647.84,100.0v0.8M652.17,100.0v0.8M656.50,100.0v1.2M660.83,100.0v0.8M665.16,100.0v0.8M669.49,100.0v0.8M673.82,100.0v0.8M678.15,100.0v1.2" stroke="#888" stroke-width="0.5"/>
<text x="461.65" y="108.10" font-size="6.7" text-anchor="middle" stroke="#000" stroke-width="0.12">9</text>
<text x="483.30" y="108.10" font-size="6.7" text-anchor="middle" stroke="#000" stroke-width="0.12">8</text>
<text x="504.95" y="108.10" font-size="6.7" text-anchor="middle" stroke="#000" stroke-width="0.12">7</text>
<text x="526.60" y="108.10" font-size="6.7" text-anchor="middle" stroke="#000" stroke-width="0.12">6</text>
<text x="548.25" y="108.10" font-size="6.7" text-anchor="middle" stroke="#000" stroke-width="0.12">5</text>
<text x="569.90" y="108.10" font-size="6.7" text-anchor="middle" stroke="#000" stroke-width="0.12">4</text>
<text x="591.55" y="108.10" font-size="6.7" text-anchor="middle" stroke="#000" stroke-width="0.12">3</text>
<text x="613.20" y="108.10" font-size="6.7" text-anchor="middle" stroke="#000" stroke-width="0.12">2</text>
<text x="634.85" y="108.10" font-size="6.7" text-anchor="middle" stroke="#000" stroke-width="0.12">1</text>
<text x="656.50" y="108.10" font-size="6.7" text-anchor="middle" stroke="#000" stroke-width="0.12">0</text>
<text x="675.30" y="108.10" font-size="6.9" text-anchor="middle" stroke="#000" stroke-width="0.12">ppm</text>
<polyline points="443.00,167.70 443.20,167.70 443.40,167.70 443.60,167.70 443.80,167.70 444.00,167.70 444.20,167.70 444.40,167.70 444.60,167.70 444.80,167.70 445.00,167.70 445.20,167.70 445.40,167.70 445.60,167.70 445.80,167.70 446.00,167.70 446.20,167.70 446.40,167.70 446.60,167.70 446.80,167.70 447.00,167.70 447.20,167.70 447.40,167.70 447.60,167.70 447.80,167.70 448.00,167.70 448.20,167.70 448.40,167.70 448.60,167.70 448.80,167.70 449.00,167.70 449.20,167.70 449.40,167.70 449.60,167.70 449.80,167.70 450.00,167.70 450.20,167.70 450.40,167.70 450.60,167.70 450.80,167.70 451.00,167.70 451.20,167.70 451.40,167.70 451.60,167.70 451.80,167.70 452.00,167.70 452.20,167.70 452.40,167.70 452.60,167.70 452.80,167.70 453.00,167.70 453.20,167.70 453.40,167.70 453.60,167.70 453.80,167.70 454.00,167.70 454.20,167.70 454.40,167.70 454.60,167.70 454.80,167.70 455.00,167.70 455.20,167.70 455.40,167.70 455.60,167.70 455.80,167.70 456.00,167.70 456.20,167.70 456.40,167.70 456.60,167.70 456.80,167.70 457.00,167.70 457.20,167.70 457.40,167.70 457.60,167.70 457.80,167.70 458.00,167.70 458.20,167.70 458.40,167.70 458.60,167.70 458.80,167.70 459.00,167.70 459.20,167.70 459.40,167.70 459.60,167.70 459.80,167.70 460.00,167.70 460.20,167.70 460.40,167.70 460.60,167.70 460.80,167.70 461.00,167.70 461.20,167.70 461.40,167.70 461.60,167.70 461.80,167.70 462.00,167.70 462.20,167.70 462.40,167.70 462.60,167.70 462.80,167.70 463.00,167.70 463.20,167.70 463.40,167.70 463.60,167.70 463.80,167.70 464.00,167.70 464.20,167.70 464.40,167.70 464.60,167.70 464.80,167.70 465.00,167.70 465.20,167.70 465.40,167.70 465.60,167.70 465.80,167.70 466.00,167.70 466.20,167.70 466.40,167.70 466.60,167.70 466.80,167.70 467.00,167.70 467.20,167.70 467.40,167.70 467.60,167.70 467.80,167.70 468.00,167.70 468.20,167.70 468.40,167.70 468.60,167.70 468.80,167.70 469.00,167.70 469.20,167.70 469.40,167.70 469.60,167.70 469.80,167.70 470.00,167.70 470.20,167.70 470.40,167.70 470.60,167.70 470.80,167.70 471.00,167.70 471.20,167.70 471.40,167.70 471.60,167.70 471.80,167.70 472.00,167.70 472.20,167.70 472.40,167.70 472.60,167.70 472.80,167.70 473.00,167.70 473.20,167.70 473.40,167.70 473.60,167.70 473.80,167.70 474.00,167.70 474.20,167.70 474.40,167.70 474.60,167.70 474.80,167.70 475.00,167.70 475.20,167.70 475.40,167.70 475.60,167.70 475.80,167.70 476.00,167.70 476.20,167.70 476.40,167.70 476.60,167.70 476.80,167.70 477.00,167.70 477.20,167.69 477.40,167.69 477.60,167.69 477.80,167.69 478.00,167.69 478.20,167.69 478.40,167.69 478.60,167.69 478.80,167.69 479.00,167.69 479.20,167.69 479.40,167.69 479.60,167.69 479.80,167.69 480.00,167.69 480.20,167.69 480.40,167.69 480.60,167.69 480.80,167.69 481.00,167.69 481.20,167.69 481.40,167.69 481.60,167.69 481.80,167.69 482.00,167.69 482.20,167.69 482.40,167.69 482.60,167.69 482.80,167.69 483.00,167.69 483.20,167.69 483.40,167.69 483.60,167.69 483.80,167.69 484.00,167.69 484.20,167.69 484.40,167.69 484.60,167.69 484.80,167.69 485.00,167.69 485.20,167.69 485.40,167.69 485.60,167.69 485.80,167.69 486.00,167.69 486.20,167.69 486.40,167.69 486.60,167.69 486.80,167.69 487.00,167.69 487.20,167.69 487.40,167.69 487.60,167.69 487.80,167.69 488.00,167.69 488.20,167.69 488.40,167.69 488.60,167.69 488.80,167.69 489.00,167.69 489.20,167.69 489.40,167.69 489.60,167.69 489.80,167.69 490.00,167.69 490.20,167.69 490.40,167.69 490.60,167.69 490.80,167.69 491.00,167.69 491.20,167.69 491.40,167.69 491.60,167.68 491.80,167.68 492.00,167.68 492.20,167.68 492.40,167.68 492.60,167.68 492.80,167.68 493.00,167.68 493.20,167.68 493.40,167.68 493.60,167.68 493.80,167.68 494.00,167.68 494.20,167.68 494.40,167.67 494.60,167.67 494.80,167.67 495.00,167.67 495.20,167.67 495.40,167.67 495.60,167.66 495.80,167.66 496.00,167.66 496.20,167.65 496.40,167.65 496.60,167.65 496.80,167.64 497.00,167.64 497.20,167.63 497.40,167.62 497.60,167.61 497.80,167.60 498.00,167.58 498.20,167.56 498.40,167.53 498.60,167.49 498.80,167.42 499.00,167.33 499.20,167.15 499.40,166.80 499.60,165.92 499.80,162.70 500.00,154.02 500.20,162.61 500.40,165.73 500.60,166.45 500.80,166.50 501.00,165.94 501.20,163.40 501.40,156.39 501.60,163.42 501.80,165.97 502.00,166.57 502.20,166.59 502.40,166.07 502.60,163.76 502.80,157.38 503.00,163.76 503.20,166.07 503.40,166.57 503.60,166.48 503.80,165.58 504.00,161.41 504.10,158.78 504.20,161.35 504.40,165.36 504.60,165.89 504.80,164.73 505.00,162.39 505.20,164.97 505.40,166.52 505.60,167.06 505.80,167.29 506.00,167.41 506.20,167.48 506.40,167.52 506.60,167.55 506.80,167.58 507.00,167.59 507.20,167.61 507.40,167.62 507.60,167.63 507.80,167.63 508.00,167.64 508.20,167.65 508.40,167.65 508.60,167.65 508.80,167.66 509.00,167.66 509.20,167.66 509.40,167.66 509.60,167.67 509.80,167.67 510.00,167.67 510.20,167.67 510.40,167.67 510.60,167.67 510.80,167.67 511.00,167.68 511.20,167.68 511.40,167.68 511.60,167.68 511.80,167.68 512.00,167.68 512.20,167.68 512.40,167.68 512.60,167.68 512.80,167.68 513.00,167.68 513.20,167.68 513.40,167.68 513.60,167.68 513.80,167.68 514.00,167.68 514.20,167.68 514.40,167.68 514.60,167.68 514.80,167.68 515.00,167.68 515.20,167.68 515.40,167.68 515.60,167.68 515.80,167.69 516.00,167.69 516.20,167.69 516.40,167.69 516.60,167.69 516.80,167.69 517.00,167.69 517.20,167.69 517.40,167.69 517.60,167.69 517.80,167.69 518.00,167.69 518.20,167.69 518.40,167.69 518.60,167.69 518.80,167.69 519.00,167.69 519.20,167.69 519.40,167.69 519.60,167.69 519.80,167.69 520.00,167.69 520.20,167.69 520.40,167.69 520.60,167.69 520.80,167.69 521.00,167.69 521.20,167.69 521.40,167.69 521.60,167.69 521.80,167.69 522.00,167.69 522.20,167.69 522.40,167.69 522.60,167.69 522.80,167.69 523.00,167.69 523.20,167.69 523.40,167.69 523.60,167.69 523.80,167.69 524.00,167.69 524.20,167.69 524.40,167.69 524.60,167.69 524.80,167.69 525.00,167.69 525.20,167.69 525.40,167.69 525.60,167.69 525.80,167.69 526.00,167.69 526.20,167.69 526.40,167.69 526.60,167.69 526.80,167.69 527.00,167.69 527.20,167.69 527.40,167.69 527.60,167.69 527.80,167.69 528.00,167.69 528.20,167.69 528.40,167.69 528.60,167.69 528.80,167.69 529.00,167.68 529.20,167.68 529.40,167.68 529.60,167.68 529.80,167.68 530.00,167.68 530.20,167.68 530.40,167.68 530.60,167.68 530.80,167.68 531.00,167.68 531.20,167.68 531.40,167.68 531.60,167.68 531.80,167.68 532.00,167.68 532.20,167.68 532.40,167.68 532.60,167.68 532.80,167.68 533.00,167.68 533.20,167.68 533.40,167.68 533.60,167.68 533.80,167.68 534.00,167.68 534.20,167.68 534.40,167.68 534.60,167.68 534.80,167.68 535.00,167.68 535.20,167.68 535.40,167.68 535.60,167.68 535.80,167.68 536.00,167.68 536.20,167.68 536.40,167.68 536.60,167.68 536.80,167.68 537.00,167.68 537.20,167.68 537.40,167.68 537.60,167.68 537.80,167.68 538.00,167.68 538.20,167.68 538.40,167.68 538.60,167.68 538.80,167.68 539.00,167.68 539.20,167.68 539.40,167.67 539.60,167.67 539.80,167.67 540.00,167.67 540.20,167.67 540.40,167.67 540.60,167.67 540.80,167.67 541.00,167.67 541.20,167.67 541.40,167.67 541.60,167.67 541.80,167.67 542.00,167.67 542.20,167.67 542.40,167.67 542.60,167.67 542.80,167.67 543.00,167.67 543.20,167.67 543.40,167.67 543.60,167.67 543.80,167.66 544.00,167.66 544.20,167.66 544.40,167.66 544.60,167.66 544.80,167.66 545.00,167.66 545.20,167.66 545.40,167.66 545.60,167.66 545.80,167.66 546.00,167.66 546.20,167.66 546.40,167.65 546.60,167.65 546.80,167.65 547.00,167.65 547.20,167.65 547.40,167.65 547.60,167.65 547.80,167.65 548.00,167.65 548.20,167.64 548.40,167.64 548.60,167.64 548.80,167.64 549.00,167.64 549.20,167.64 549.40,167.63 549.60,167.63 549.80,167.63 550.00,167.63 550.20,167.63 550.40,167.62 550.60,167.62 550.80,167.62 551.00,167.62 551.20,167.61 551.40,167.61 551.60,167.61 551.80,167.60 552.00,167.60 552.20,167.60 552.40,167.59 552.60,167.59 552.80,167.58 553.00,167.58 553.20,167.57 553.40,167.57 553.60,167.56 553.80,167.55 554.00,167.55 554.20,167.54 554.40,167.53 554.60,167.52 554.80,167.51 555.00,167.50 555.20,167.49 555.40,167.47 555.60,167.46 555.80,167.44 556.00,167.43 556.20,167.41 556.40,167.38 556.60,167.36 556.80,167.33 557.00,167.30 557.20,167.26 557.40,167.22 557.60,167.17 557.80,167.12 558.00,167.05 558.20,166.98 558.40,166.89 558.60,166.79 558.80,166.67 559.00,166.54 559.20,166.38 559.40,166.20 559.60,166.00 559.80,165.78 560.00,165.56 560.20,165.36 560.40,165.20 560.60,165.11 560.70,165.10 560.80,165.11 561.00,165.19 561.20,165.34 561.40,165.53 561.60,165.73 561.80,165.94 562.00,166.13 562.20,166.29 562.40,166.44 562.60,166.56 562.80,166.66 563.00,166.74 563.20,166.80 563.40,166.85 563.60,166.88 563.80,166.90 564.00,166.91 564.20,166.89 564.40,166.86 564.60,166.80 564.80,166.71 565.00,166.57 565.20,166.35 565.40,166.00 565.60,165.41 565.80,164.35 566.00,162.32 566.20,158.71 566.40,155.88 566.60,158.40 566.80,161.59 567.00,162.99 567.20,162.90 567.40,161.50 567.60,160.30 567.80,161.91 568.00,163.84 568.20,164.81 568.40,165.08 568.60,164.78 568.80,163.62 569.00,160.92 569.20,158.38 569.40,161.02 569.60,163.84 569.80,165.17 570.00,165.74 570.20,165.94 570.40,165.89 570.60,165.58 570.80,164.84 571.00,163.18 571.20,159.68 571.40,156.39 571.60,159.51 571.80,162.79 572.00,164.10 572.20,164.19 572.40,163.10 572.60,160.19 572.80,157.42 573.00,160.44 573.20,163.65 573.40,165.20 573.60,165.93 573.80,166.30 574.00,166.48 574.20,166.53 574.40,166.47 574.60,166.28 574.80,165.87 575.00,165.00 575.20,162.97 575.40,157.89 575.60,151.85 575.80,157.90 576.00,162.99 576.20,165.02 576.40,165.88 576.60,166.25 576.80,166.34 577.00,166.13 577.20,165.42 577.40,164.10 577.50,163.79 577.60,164.16 577.80,165.61 578.00,166.47 578.20,166.88 578.40,167.10 578.60,167.22 578.80,167.31 579.00,167.36 579.20,167.40 579.40,167.43 579.60,167.45 579.80,167.47 580.00,167.49 580.20,167.50 580.40,167.51 580.60,167.52 580.80,167.53 581.00,167.53 581.20,167.54 581.40,167.54 581.60,167.54 581.80,167.55 582.00,167.55 582.20,167.55 582.40,167.55 582.60,167.55 582.80,167.55 583.00,167.55 583.20,167.55 583.40,167.55 583.60,167.55 583.80,167.55 584.00,167.55 584.20,167.54 584.40,167.54 584.60,167.54 584.80,167.53 585.00,167.53 585.20,167.52 585.40,167.52 585.60,167.51 585.80,167.50 586.00,167.49 586.20,167.48 586.40,167.47 586.60,167.46 586.80,167.44 587.00,167.42 587.20,167.40 587.40,167.37 587.60,167.34 587.80,167.30 588.00,167.26 588.20,167.20 588.40,167.13 588.60,167.04 588.80,166.91 589.00,166.75 589.20,166.51 589.40,166.16 589.60,165.60 589.80,164.64 590.00,162.77 590.20,158.60 590.40,148.34 590.60,136.16 590.80,148.14 591.00,158.17 591.20,162.03 591.40,163.44 591.60,163.60 591.80,162.55 592.00,159.07 592.20,151.10 592.30,148.67 592.40,151.19 592.60,159.36 592.80,163.09 593.00,164.53 593.20,165.01 593.40,164.86 593.60,163.91 593.80,161.57 594.00,159.36 594.20,161.72 594.40,164.23 594.60,165.41 594.80,165.93 595.00,166.13 595.20,166.13 595.40,165.92 595.60,165.42 595.80,164.31 596.00,161.86 596.20,157.66 596.30,156.60 596.40,157.64 596.60,161.80 596.80,164.19 597.00,165.22 597.20,165.61 597.40,165.62 597.60,165.24 597.80,164.25 598.00,161.81 598.20,155.62 598.40,148.24 598.60,155.68 598.80,161.93 599.00,164.45 599.20,165.53 599.40,166.04 599.60,166.24 599.80,166.21 600.00,165.86 600.20,164.90 600.40,163.18 600.50,162.76 600.60,163.23 600.80,165.08 601.00,166.17 601.20,166.69 601.40,166.96 601.60,167.12 601.80,167.22 602.00,167.28 602.20,167.33 602.40,167.37 602.60,167.39 602.80,167.41 603.00,167.43 603.20,167.44 603.40,167.45 603.60,167.46 603.80,167.46 604.00,167.46 604.20,167.46 604.40,167.46 604.60,167.46 604.80,167.45 605.00,167.44 605.20,167.43 605.40,167.41 605.60,167.39 605.80,167.35 606.00,167.30 606.20,167.24 606.40,167.13 606.60,166.96 606.80,166.66 607.00,166.09 607.20,164.78 607.40,161.56 607.60,157.73 607.80,161.55 608.00,164.77 608.20,166.07 608.40,166.64 608.60,166.93 608.80,167.09 609.00,167.19 609.20,167.25 609.40,167.29 609.60,167.31 609.80,167.32 610.00,167.33 610.20,167.32 610.40,167.31 610.60,167.29 610.80,167.26 611.00,167.21 611.20,167.15 611.40,167.05 611.60,166.89 611.80,166.62 612.00,166.15 612.20,165.24 612.40,163.63 612.60,162.39 612.80,163.60 613.00,165.18 613.20,166.06 613.40,166.50 613.60,166.72 613.80,166.83 614.00,166.86 614.20,166.85 614.40,166.77 614.60,166.62 614.80,166.34 615.00,165.84 615.20,164.96 615.40,163.89 615.50,163.68 615.60,163.88 615.80,164.91 616.00,165.76 616.20,166.23 616.40,166.47 616.60,166.60 616.80,166.65 617.00,166.66 617.20,166.63 617.40,166.58 617.60,166.50 617.80,166.40 618.00,166.26 618.20,166.08 618.40,165.86 618.60,165.56 618.80,165.18 619.00,164.68 619.20,164.01 619.40,163.13 619.60,162.01 619.80,160.71 620.00,159.48 620.20,158.76 620.40,158.75 620.60,159.14 620.80,159.40 621.00,159.14 621.20,158.23 621.40,156.98 621.60,156.39 621.80,157.23 622.00,158.78 622.20,160.04 622.40,160.68 622.60,160.73 622.80,160.27 623.00,159.39 623.20,158.33 623.40,157.56 623.50,157.44 623.60,157.55 623.80,158.30 624.00,159.33 624.20,160.17 624.40,160.55 624.60,160.33 624.80,159.32 625.00,157.22 625.20,153.86 625.40,150.47 625.50,149.82 625.60,150.27 625.80,153.19 626.00,155.83 626.20,156.78 626.40,156.39 626.60,156.33 626.80,158.14 627.00,160.65 627.20,162.60 627.40,163.90 627.60,164.75 627.80,165.32 628.00,165.73 628.20,166.02 628.40,166.25 628.60,166.42 628.80,166.55 629.00,166.66 629.20,166.74 629.40,166.81 629.60,166.87 629.80,166.91 630.00,166.94 630.20,166.97 630.40,166.98 630.60,166.98 630.80,166.97 631.00,166.95 631.20,166.91 631.40,166.85 631.60,166.74 631.80,166.58 632.00,166.32 632.20,165.88 632.40,165.05 632.60,163.30 632.80,159.07 633.00,149.94 633.10,147.16 633.20,149.94 633.40,159.08 633.60,163.32 633.80,165.07 634.00,165.91 634.20,166.36 634.40,166.62 634.60,166.79 634.80,166.89 635.00,166.96 635.20,167.01 635.40,167.03 635.60,167.04 635.80,167.04 636.00,167.03 636.20,167.00 636.40,166.96 636.60,166.91 636.80,166.83 637.00,166.74 637.20,166.61 637.40,166.45 637.60,166.22 637.80,165.91 638.00,165.47 638.20,164.83 638.40,163.82 638.60,162.17 638.80,159.19 639.00,153.28 639.20,140.58 639.40,118.99 639.50,113.59 639.60,118.99 639.80,140.59 640.00,153.30 640.20,159.22 640.40,162.20 640.60,163.87 640.80,164.88 641.00,165.54 641.20,165.98 641.40,166.30 641.60,166.54 641.80,166.72 642.00,166.86 642.20,166.97 642.40,167.06 642.60,167.13 642.80,167.19 643.00,167.24 643.20,167.28 643.40,167.32 643.60,167.35 643.80,167.38 644.00,167.40 644.20,167.42 644.40,167.44 644.60,167.46 644.80,167.47 645.00,167.49 645.20,167.50 645.40,167.51 645.60,167.52 645.80,167.53 646.00,167.54 646.20,167.54 646.40,167.55 646.60,167.56 646.80,167.56 647.00,167.57 647.20,167.57 647.40,167.58 647.60,167.58 647.80,167.59 648.00,167.59 648.20,167.60 648.40,167.60 648.60,167.60 648.80,167.61 649.00,167.61 649.20,167.61 649.40,167.61 649.60,167.62 649.80,167.62 650.00,167.62 650.20,167.62 650.40,167.62 650.60,167.63 650.80,167.63 651.00,167.63 651.20,167.63 651.40,167.63 651.60,167.64 651.80,167.64 652.00,167.64 652.20,167.64 652.40,167.64 652.60,167.64 652.80,167.64 653.00,167.64 653.20,167.65 653.40,167.65 653.60,167.65 653.80,167.65 654.00,167.65 654.20,167.65 654.40,167.65 654.60,167.65 654.80,167.65 655.00,167.65 655.20,167.66 655.40,167.66 655.60,167.66 655.80,167.66 656.00,167.66 656.20,167.66 656.40,167.66 656.60,167.66 656.80,167.66 657.00,167.66 657.20,167.66 657.40,167.66 657.60,167.66 657.80,167.66 658.00,167.66 658.20,167.67 658.40,167.67 658.60,167.67 658.80,167.67 659.00,167.67 659.20,167.67 659.40,167.67 659.60,167.67 659.80,167.67 660.00,167.67 660.20,167.67 660.40,167.67 660.60,167.67 660.80,167.67 661.00,167.67 661.20,167.67 661.40,167.67 661.60,167.67 661.80,167.67 662.00,167.67 662.20,167.67 662.40,167.67 662.60,167.67 662.80,167.67 663.00,167.67 663.20,167.68 663.40,167.68 663.60,167.68 663.80,167.68 664.00,167.68 664.20,167.68 664.40,167.68 664.60,167.68 664.80,167.68 665.00,167.68 665.20,167.68 665.40,167.68 665.60,167.68 665.80,167.68 666.00,167.68 666.20,167.68 666.40,167.68 666.60,167.68 666.80,167.68 667.00,167.68 667.20,167.68 667.40,167.68 667.60,167.68 667.80,167.68 668.00,167.68 668.20,167.68 668.40,167.68 668.60,167.68 668.80,167.68 669.00,167.68 669.20,167.68 669.40,167.68 669.60,167.68 669.80,167.68 670.00,167.68 670.20,167.68 670.40,167.68 670.60,167.68 670.80,167.68 671.00,167.68 671.20,167.68 671.40,167.68 671.60,167.68 671.80,167.68 672.00,167.68 672.20,167.68 672.40,167.68 672.60,167.68 672.80,167.68 673.00,167.68 673.20,167.69 673.40,167.69 673.60,167.69 673.80,167.69 674.00,167.69 674.20,167.69 674.40,167.69 674.60,167.69 674.80,167.69 675.00,167.69 675.20,167.69 675.40,167.69 675.60,167.69 675.80,167.69 676.00,167.69 676.20,167.69 676.40,167.69 676.60,167.69 676.80,167.69 677.00,167.69 677.20,167.69 677.40,167.69 677.60,167.69 677.80,167.69" fill="none" stroke="#222" stroke-width="0.65" stroke-linejoin="round"/>
<path d="M443,171.3H678" stroke="#999" stroke-width="0.6"/>
<path d="M448.66,171.3v0.8M452.99,171.3v0.8M457.32,171.3v0.8M461.65,171.3v1.2M465.98,171.3v0.8M470.31,171.3v0.8M474.64,171.3v0.8M478.97,171.3v0.8M483.30,171.3v1.2M487.63,171.3v0.8M491.96,171.3v0.8M496.29,171.3v0.8M500.62,171.3v0.8M504.95,171.3v1.2M509.28,171.3v0.8M513.61,171.3v0.8M517.94,171.3v0.8M522.27,171.3v0.8M526.60,171.3v1.2M530.93,171.3v0.8M535.26,171.3v0.8M539.59,171.3v0.8M543.92,171.3v0.8M548.25,171.3v1.2M552.58,171.3v0.8M556.91,171.3v0.8M561.24,171.3v0.8M565.57,171.3v0.8M569.90,171.3v1.2M574.23,171.3v0.8M578.56,171.3v0.8M582.89,171.3v0.8M587.22,171.3v0.8M591.55,171.3v1.2M595.88,171.3v0.8M600.21,171.3v0.8M604.54,171.3v0.8M608.87,171.3v0.8M613.20,171.3v1.2M617.53,171.3v0.8M621.86,171.3v0.8M626.19,171.3v0.8M630.52,171.3v0.8M634.85,171.3v1.2M639.18,171.3v0.8M643.51,171.3v0.8M647.84,171.3v0.8M652.17,171.3v0.8M656.50,171.3v1.2M660.83,171.3v0.8M665.16,171.3v0.8M669.49,171.3v0.8M673.82,171.3v0.8M678.15,171.3v1.2" stroke="#888" stroke-width="0.5"/>
<text x="461.65" y="179.50" font-size="6.7" text-anchor="middle" stroke="#000" stroke-width="0.12">9</text>
<text x="483.30" y="179.50" font-size="6.7" text-anchor="middle" stroke="#000" stroke-width="0.12">8</text>
<text x="504.95" y="179.50" font-size="6.7" text-anchor="middle" stroke="#000" stroke-width="0.12">7</text>
<text x="526.60" y="179.50" font-size="6.7" text-anchor="middle" stroke="#000" stroke-width="0.12">6</text>
<text x="548.25" y="179.50" font-size="6.7" text-anchor="middle" stroke="#000" stroke-width="0.12">5</text>
<text x="569.90" y="179.50" font-size="6.7" text-anchor="middle" stroke="#000" stroke-width="0.12">4</text>
<text x="591.55" y="179.50" font-size="6.7" text-anchor="middle" stroke="#000" stroke-width="0.12">3</text>
<text x="613.20" y="179.50" font-size="6.7" text-anchor="middle" stroke="#000" stroke-width="0.12">2</text>
<text x="634.85" y="179.50" font-size="6.7" text-anchor="middle" stroke="#000" stroke-width="0.12">1</text>
<text x="656.50" y="179.50" font-size="6.7" text-anchor="middle" stroke="#000" stroke-width="0.12">0</text>
<text x="675.30" y="179.50" font-size="6.9" text-anchor="middle" stroke="#000" stroke-width="0.12">ppm</text>
<polyline points="443.00,265.80 443.20,265.80 443.40,265.80 443.60,265.80 443.80,265.80 444.00,265.80 444.20,265.80 444.40,265.80 444.60,265.80 444.80,265.80 445.00,265.80 445.20,265.80 445.40,265.80 445.60,265.80 445.80,265.80 446.00,265.80 446.20,265.80 446.40,265.80 446.60,265.80 446.80,265.80 447.00,265.80 447.20,265.80 447.40,265.80 447.60,265.80 447.80,265.80 448.00,265.80 448.20,265.80 448.40,265.80 448.60,265.80 448.80,265.80 449.00,265.80 449.20,265.80 449.40,265.80 449.60,265.80 449.80,265.80 450.00,265.80 450.20,265.80 450.40,265.80 450.60,265.80 450.80,265.80 451.00,265.80 451.20,265.80 451.40,265.80 451.60,265.80 451.80,265.80 452.00,265.80 452.20,265.80 452.40,265.80 452.60,265.80 452.80,265.80 453.00,265.80 453.20,265.80 453.40,265.80 453.60,265.80 453.80,265.80 454.00,265.80 454.20,265.80 454.40,265.80 454.60,265.80 454.80,265.80 455.00,265.80 455.20,265.80 455.40,265.80 455.60,265.80 455.80,265.79 456.00,265.79 456.20,265.79 456.40,265.79 456.60,265.79 456.80,265.79 457.00,265.79 457.20,265.79 457.40,265.79 457.60,265.79 457.80,265.79 458.00,265.79 458.20,265.79 458.40,265.79 458.60,265.79 458.80,265.79 459.00,265.79 459.20,265.79 459.40,265.79 459.60,265.79 459.80,265.79 460.00,265.79 460.20,265.79 460.40,265.79 460.60,265.79 460.80,265.79 461.00,265.79 461.20,265.79 461.40,265.79 461.60,265.79 461.80,265.79 462.00,265.79 462.20,265.79 462.40,265.79 462.60,265.79 462.80,265.79 463.00,265.79 463.20,265.79 463.40,265.79 463.60,265.79 463.80,265.79 464.00,265.79 464.20,265.79 464.40,265.79 464.60,265.79 464.80,265.79 465.00,265.79 465.20,265.79 465.40,265.79 465.60,265.79 465.80,265.79 466.00,265.79 466.20,265.79 466.40,265.79 466.60,265.79 466.80,265.79 467.00,265.79 467.20,265.79 467.40,265.79 467.60,265.79 467.80,265.79 468.00,265.79 468.20,265.79 468.40,265.79 468.60,265.79 468.80,265.79 469.00,265.79 469.20,265.79 469.40,265.79 469.60,265.79 469.80,265.79 470.00,265.79 470.20,265.79 470.40,265.79 470.60,265.79 470.80,265.79 471.00,265.79 471.20,265.79 471.40,265.79 471.60,265.79 471.80,265.79 472.00,265.79 472.20,265.79 472.40,265.79 472.60,265.79 472.80,265.79 473.00,265.79 473.20,265.79 473.40,265.79 473.60,265.79 473.80,265.79 474.00,265.79 474.20,265.79 474.40,265.79 474.60,265.79 474.80,265.79 475.00,265.79 475.20,265.79 475.40,265.79 475.60,265.79 475.80,265.79 476.00,265.79 476.20,265.79 476.40,265.79 476.60,265.79 476.80,265.79 477.00,265.79 477.20,265.79 477.40,265.79 477.60,265.79 477.80,265.79 478.00,265.79 478.20,265.78 478.40,265.78 478.60,265.78 478.80,265.78 479.00,265.78 479.20,265.78 479.40,265.78 479.60,265.78 479.80,265.78 480.00,265.78 480.20,265.78 480.40,265.78 480.60,265.78 480.80,265.77 481.00,265.77 481.20,265.77 481.40,265.77 481.60,265.77 481.80,265.76 482.00,265.76 482.20,265.76 482.40,265.75 482.60,265.75 482.80,265.74 483.00,265.73 483.20,265.72 483.40,265.71 483.60,265.69 483.80,265.67 484.00,265.64 484.20,265.60 484.40,265.53 484.60,265.44 484.80,265.28 485.00,265.04 485.20,264.69 485.40,264.35 485.50,264.29 485.60,264.35 485.80,264.69 486.00,265.04 486.20,265.28 486.40,265.43 486.60,265.53 486.80,265.59 487.00,265.64 487.20,265.67 487.40,265.69 487.60,265.71 487.80,265.72 488.00,265.73 488.20,265.74 488.40,265.74 488.60,265.75 488.80,265.75 489.00,265.76 489.20,265.76 489.40,265.76 489.60,265.76 489.80,265.76 490.00,265.77 490.20,265.77 490.40,265.77 490.60,265.77 490.80,265.77 491.00,265.77 491.20,265.77 491.40,265.77 491.60,265.77 491.80,265.77 492.00,265.77 492.20,265.77 492.40,265.77 492.60,265.77 492.80,265.77 493.00,265.77 493.20,265.77 493.40,265.77 493.60,265.77 493.80,265.77 494.00,265.77 494.20,265.77 494.40,265.77 494.60,265.76 494.80,265.76 495.00,265.76 495.20,265.76 495.40,265.76 495.60,265.76 495.80,265.76 496.00,265.75 496.20,265.75 496.40,265.75 496.60,265.75 496.80,265.74 497.00,265.74 497.20,265.74 497.40,265.73 497.60,265.73 497.80,265.72 498.00,265.72 498.20,265.71 498.40,265.70 498.60,265.69 498.80,265.68 499.00,265.67 499.20,265.65 499.40,265.64 499.60,265.61 499.80,265.59 500.00,265.55 500.20,265.51 500.40,265.46 500.60,265.39 500.80,265.30 501.00,265.17 501.20,264.99 501.40,264.73 501.60,264.35 501.80,263.79 502.00,263.02 502.20,262.19 502.40,261.79 502.60,262.19 502.80,263.02 503.00,263.79 503.20,264.35 503.40,264.73 503.60,264.99 503.80,265.17 504.00,265.30 504.20,265.39 504.40,265.46 504.60,265.51 504.80,265.55 505.00,265.59 505.20,265.61 505.40,265.64 505.60,265.65 505.80,265.67 506.00,265.68 506.20,265.69 506.40,265.70 506.60,265.71 506.80,265.72 507.00,265.72 507.20,265.73 507.40,265.73 507.60,265.74 507.80,265.74 508.00,265.74 508.20,265.75 508.40,265.75 508.60,265.75 508.80,265.75 509.00,265.76 509.20,265.76 509.40,265.76 509.60,265.76 509.80,265.76 510.00,265.76 510.20,265.77 510.40,265.77 510.60,265.77 510.80,265.77 511.00,265.77 511.20,265.77 511.40,265.77 511.60,265.77 511.80,265.77 512.00,265.77 512.20,265.77 512.40,265.77 512.60,265.77 512.80,265.77 513.00,265.78 513.20,265.78 513.40,265.78 513.60,265.78 513.80,265.78 514.00,265.78 514.20,265.78 514.40,265.78 514.60,265.78 514.80,265.78 515.00,265.78 515.20,265.78 515.40,265.78 515.60,265.78 515.80,265.78 516.00,265.78 516.20,265.78 516.40,265.78 516.60,265.78 516.80,265.78 517.00,265.78 517.20,265.78 517.40,265.78 517.60,265.78 517.80,265.78 518.00,265.78 518.20,265.78 518.40,265.78 518.60,265.78 518.80,265.78 519.00,265.78 519.20,265.78 519.40,265.78 519.60,265.78 519.80,265.78 520.00,265.78 520.20,265.78 520.40,265.78 520.60,265.78 520.80,265.78 521.00,265.78 521.20,265.78 521.40,265.78 521.60,265.78 521.80,265.78 522.00,265.78 522.20,265.78 522.40,265.78 522.60,265.78 522.80,265.78 523.00,265.78 523.20,265.78 523.40,265.78 523.60,265.78 523.80,265.78 524.00,265.78 524.20,265.78 524.40,265.78 524.60,265.78 524.80,265.78 525.00,265.78 525.20,265.78 525.40,265.78 525.60,265.78 525.80,265.78 526.00,265.78 526.20,265.78 526.40,265.78 526.60,265.78 526.80,265.78 527.00,265.78 527.20,265.78 527.40,265.78 527.60,265.78 527.80,265.78 528.00,265.78 528.20,265.78 528.40,265.78 528.60,265.78 528.80,265.78 529.00,265.78 529.20,265.78 529.40,265.78 529.60,265.78 529.80,265.78 530.00,265.78 530.20,265.78 530.40,265.78 530.60,265.78 530.80,265.78 531.00,265.78 531.20,265.78 531.40,265.78 531.60,265.78 531.80,265.77 532.00,265.77 532.20,265.77 532.40,265.77 532.60,265.77 532.80,265.77 533.00,265.77 533.20,265.77 533.40,265.77 533.60,265.77 533.80,265.77 534.00,265.77 534.20,265.77 534.40,265.77 534.60,265.77 534.80,265.77 535.00,265.77 535.20,265.77 535.40,265.77 535.60,265.77 535.80,265.77 536.00,265.77 536.20,265.77 536.40,265.77 536.60,265.77 536.80,265.77 537.00,265.76 537.20,265.76 537.40,265.76 537.60,265.76 537.80,265.76 538.00,265.76 538.20,265.76 538.40,265.76 538.60,265.76 538.80,265.76 539.00,265.75 539.20,265.75 539.40,265.75 539.60,265.75 539.80,265.75 540.00,265.75 540.20,265.74 540.40,265.74 540.60,265.74 540.80,265.74 541.00,265.73 541.20,265.73 541.40,265.72 541.60,265.72 541.80,265.71 542.00,265.71 542.20,265.70 542.40,265.69 542.60,265.68 542.80,265.66 543.00,265.64 543.20,265.62 543.40,265.59 543.60,265.56 543.80,265.51 544.00,265.44 544.20,265.33 544.40,265.18 544.60,264.94 544.80,264.54 545.00,263.81 545.20,262.57 545.40,261.06 545.50,260.76 545.60,261.06 545.80,262.56 546.00,263.81 546.20,264.53 546.40,264.94 546.60,265.18 546.80,265.33 547.00,265.43 547.20,265.50 547.40,265.55 547.60,265.59 547.80,265.61 548.00,265.63 548.20,265.65 548.40,265.67 548.60,265.68 548.80,265.69 549.00,265.69 549.20,265.70 549.40,265.70 549.60,265.71 549.80,265.71 550.00,265.71 550.20,265.72 550.40,265.72 550.60,265.72 550.80,265.72 551.00,265.72 551.20,265.73 551.40,265.73 551.60,265.73 551.80,265.73 552.00,265.73 552.20,265.73 552.40,265.73 552.60,265.73 552.80,265.73 553.00,265.73 553.20,265.73 553.40,265.73 553.60,265.73 553.80,265.73 554.00,265.73 554.20,265.73 554.40,265.73 554.60,265.73 554.80,265.72 555.00,265.72 555.20,265.72 555.40,265.72 555.60,265.72 555.80,265.72 556.00,265.72 556.20,265.72 556.40,265.72 556.60,265.71 556.80,265.71 557.00,265.71 557.20,265.71 557.40,265.71 557.60,265.71 557.80,265.70 558.00,265.70 558.20,265.70 558.40,265.70 558.60,265.69 558.80,265.69 559.00,265.69 559.20,265.68 559.40,265.68 559.60,265.67 559.80,265.67 560.00,265.66 560.20,265.65 560.40,265.65 560.60,265.64 560.80,265.63 561.00,265.62 561.20,265.60 561.40,265.59 561.60,265.57 561.80,265.54 562.00,265.51 562.20,265.47 562.40,265.41 562.60,265.34 562.80,265.23 563.00,265.07 563.20,264.82 563.40,264.43 563.60,263.83 563.80,263.07 564.00,262.65 564.20,263.06 564.40,263.81 564.60,264.40 564.80,264.78 565.00,265.02 565.20,265.17 565.40,265.26 565.60,265.32 565.80,265.37 566.00,265.39 566.20,265.41 566.40,265.41 566.60,265.41 566.80,265.40 567.00,265.38 567.20,265.36 567.40,265.32 567.60,265.27 567.80,265.20 568.00,265.10 568.20,264.95 568.40,264.71 568.60,264.31 568.80,263.57 569.00,261.98 569.20,257.84 569.40,247.30 569.50,243.53 569.60,247.29 569.80,257.82 570.00,261.94 570.20,263.52 570.40,264.25 570.60,264.63 570.80,264.85 571.00,264.98 571.20,265.07 571.40,265.12 571.60,265.16 571.80,265.17 572.00,265.18 572.20,265.18 572.40,265.17 572.60,265.15 572.80,265.12 573.00,265.08 573.20,265.03 573.40,264.97 573.60,264.89 573.80,264.78 574.00,264.63 574.20,264.40 574.40,264.04 574.60,263.43 574.80,262.28 575.00,260.28 575.20,258.71 575.40,260.08 575.60,261.86 575.80,262.76 576.00,263.10 576.20,263.10 576.40,262.85 576.60,262.29 576.80,261.17 577.00,258.79 577.20,253.15 577.40,246.38 577.60,251.86 577.80,255.98 578.00,256.28 578.20,254.03 578.40,248.16 578.60,233.22 578.80,188.11 579.00,187.00 579.20,187.48 579.40,231.90 579.60,246.06 579.80,250.96 580.00,252.00 580.20,250.23 580.40,244.50 580.60,229.28 580.80,187.00 581.00,187.00 581.20,187.00 581.40,213.03 581.60,209.23 581.80,197.78 582.00,217.37 582.20,236.45 582.40,244.17 582.60,244.67 582.80,239.42 583.00,234.93 583.20,242.13 583.40,250.84 583.60,255.80 583.80,258.43 584.00,259.90 584.20,260.74 584.40,261.20 584.60,261.40 584.80,261.38 585.00,261.13 585.20,260.62 585.40,259.75 585.60,258.29 585.80,255.84 586.00,251.42 586.20,242.67 586.40,222.80 586.60,187.00 586.80,187.00 587.00,187.00 587.20,223.03 587.40,243.01 587.60,251.90 587.80,256.45 588.00,259.06 588.20,260.70 588.40,261.78 588.60,262.54 588.80,263.09 589.00,263.51 589.20,263.83 589.40,264.08 589.60,264.28 589.80,264.45 590.00,264.58 590.20,264.70 590.40,264.80 590.60,264.88 590.80,264.95 591.00,265.02 591.20,265.07 591.40,265.12 591.60,265.16 591.80,265.20 592.00,265.24 592.20,265.27 592.40,265.30 592.60,265.32 592.80,265.34 593.00,265.37 593.20,265.39 593.40,265.40 593.60,265.42 593.80,265.44 594.00,265.45 594.20,265.46 594.40,265.47 594.60,265.49 594.80,265.50 595.00,265.51 595.20,265.51 595.40,265.52 595.60,265.53 595.80,265.54 596.00,265.55 596.20,265.55 596.40,265.56 596.60,265.56 596.80,265.57 597.00,265.57 597.20,265.58 597.40,265.58 597.60,265.59 597.80,265.59 598.00,265.60 598.20,265.60 598.40,265.60 598.60,265.60 598.80,265.61 599.00,265.61 599.20,265.61 599.40,265.61 599.60,265.62 599.80,265.62 600.00,265.62 600.20,265.62 600.40,265.62 600.60,265.62 600.80,265.63 601.00,265.63 601.20,265.63 601.40,265.63 601.60,265.63 601.80,265.63 602.00,265.63 602.20,265.63 602.40,265.63 602.60,265.63 602.80,265.63 603.00,265.62 603.20,265.62 603.40,265.62 603.60,265.62 603.80,265.62 604.00,265.61 604.20,265.61 604.40,265.61 604.60,265.60 604.80,265.60 605.00,265.59 605.20,265.59 605.40,265.58 605.60,265.57 605.80,265.56 606.00,265.55 606.20,265.54 606.40,265.53 606.60,265.51 606.80,265.49 607.00,265.47 607.20,265.45 607.40,265.41 607.60,265.38 607.80,265.33 608.00,265.27 608.20,265.20 608.40,265.11 608.60,264.99 608.80,264.85 609.00,264.67 609.20,264.45 609.40,264.20 609.60,263.94 609.80,263.74 610.00,263.66 610.20,263.74 610.40,263.94 610.60,264.19 610.80,264.44 611.00,264.66 611.20,264.84 611.40,264.98 611.60,265.09 611.80,265.18 612.00,265.25 612.20,265.31 612.40,265.35 612.60,265.39 612.80,265.42 613.00,265.44 613.20,265.46 613.40,265.48 613.60,265.49 613.80,265.50 614.00,265.51 614.20,265.52 614.40,265.53 614.60,265.53 614.80,265.54 615.00,265.54 615.20,265.54 615.40,265.54 615.60,265.54 615.80,265.54 616.00,265.54 616.20,265.54 616.40,265.54 616.60,265.54 616.80,265.54 617.00,265.54 617.20,265.53 617.40,265.53 617.60,265.52 617.80,265.52 618.00,265.52 618.20,265.51 618.40,265.50 618.60,265.50 618.80,265.49 619.00,265.48 619.20,265.48 619.40,265.47 619.60,265.46 619.80,265.45 620.00,265.44 620.20,265.42 620.40,265.41 620.60,265.40 620.80,265.38 621.00,265.36 621.20,265.34 621.40,265.32 621.60,265.30 621.80,265.27 622.00,265.24 622.20,265.20 622.40,265.16 622.60,265.11 622.80,265.04 623.00,264.97 623.20,264.87 623.40,264.75 623.60,264.58 623.80,264.35 624.00,264.01 624.20,263.50 624.40,262.70 624.60,261.47 624.80,259.92 625.00,259.05 625.20,259.84 625.40,261.31 625.60,262.46 625.80,263.17 626.00,263.60 626.20,263.84 626.40,263.98 626.60,264.03 626.80,264.04 627.00,264.01 627.20,263.94 627.40,263.84 627.60,263.70 627.80,263.53 628.00,263.31 628.20,263.04 628.40,262.71 628.60,262.28 628.80,261.73 629.00,261.02 629.20,260.06 629.40,258.73 629.60,256.81 629.80,253.89 630.00,249.12 630.20,240.67 630.40,224.03 630.60,188.47 630.80,187.00 630.90,187.00 631.00,187.00 631.20,187.23 631.40,221.85 631.60,237.36 631.80,244.36 632.00,247.12 632.20,247.08 632.40,244.23 632.60,237.13 632.80,221.52 633.00,187.00 633.20,187.00 633.30,187.00 633.40,187.00 633.60,187.71 633.80,223.13 634.00,239.63 634.20,247.92 634.40,252.51 634.60,255.24 634.80,256.93 635.00,258.01 635.20,258.69 635.40,259.10 635.60,259.31 635.80,259.37 636.00,259.34 636.20,259.24 636.40,259.12 636.60,259.02 636.80,258.98 637.00,259.03 637.20,259.17 637.40,259.40 637.60,259.70 637.80,260.04 638.00,260.39 638.20,260.72 638.40,261.02 638.60,261.25 638.80,261.43 639.00,261.52 639.20,261.51 639.40,261.39 639.60,261.11 639.80,260.61 640.00,259.77 640.20,258.37 640.40,255.97 640.60,251.59 640.80,242.99 641.00,225.20 641.20,197.25 641.30,190.70 641.40,197.32 641.60,225.42 641.80,243.36 642.00,252.13 642.20,256.67 642.40,259.25 642.60,260.83 642.80,261.88 643.00,262.60 643.20,263.13 643.40,263.52 643.60,263.82 643.80,264.06 644.00,264.25 644.20,264.41 644.40,264.54 644.60,264.65 644.80,264.75 645.00,264.83 645.20,264.90 645.40,264.96 645.60,265.02 645.80,265.07 646.00,265.11 646.20,265.15 646.40,265.19 646.60,265.22 646.80,265.25 647.00,265.27 647.20,265.30 647.40,265.32 647.60,265.34 647.80,265.36 648.00,265.38 648.20,265.40 648.40,265.41 648.60,265.43 648.80,265.44 649.00,265.46 649.20,265.47 649.40,265.48 649.60,265.49 649.80,265.50 650.00,265.51 650.20,265.52 650.40,265.53 650.60,265.54 650.80,265.54 651.00,265.55 651.20,265.56 651.40,265.57 651.60,265.57 651.80,265.58 652.00,265.58 652.20,265.59 652.40,265.60 652.60,265.60 652.80,265.61 653.00,265.61 653.20,265.61 653.40,265.62 653.60,265.62 653.80,265.63 654.00,265.63 654.20,265.64 654.40,265.64 654.60,265.64 654.80,265.65 655.00,265.65 655.20,265.65 655.40,265.66 655.60,265.66 655.80,265.66 656.00,265.66 656.20,265.67 656.40,265.67 656.60,265.67 656.80,265.67 657.00,265.68 657.20,265.68 657.40,265.68 657.60,265.68 657.80,265.69 658.00,265.69 658.20,265.69 658.40,265.69 658.60,265.69 658.80,265.70 659.00,265.70 659.20,265.70 659.40,265.70 659.60,265.70 659.80,265.70 660.00,265.71 660.20,265.71 660.40,265.71 660.60,265.71 660.80,265.71 661.00,265.71 661.20,265.71 661.40,265.72 661.60,265.72 661.80,265.72 662.00,265.72 662.20,265.72 662.40,265.72 662.60,265.72 662.80,265.72 663.00,265.72 663.20,265.73 663.40,265.73 663.60,265.73 663.80,265.73 664.00,265.73 664.20,265.73 664.40,265.73 664.60,265.73 664.80,265.73 665.00,265.73 665.20,265.74 665.40,265.74 665.60,265.74 665.80,265.74 666.00,265.74 666.20,265.74 666.40,265.74 666.60,265.74 666.80,265.74 667.00,265.74 667.20,265.74 667.40,265.74 667.60,265.74 667.80,265.74 668.00,265.75 668.20,265.75 668.40,265.75 668.60,265.75 668.80,265.75 669.00,265.75 669.20,265.75 669.40,265.75 669.60,265.75 669.80,265.75 670.00,265.75 670.20,265.75 670.40,265.75 670.60,265.75 670.80,265.75 671.00,265.75 671.20,265.75 671.40,265.75 671.60,265.76 671.80,265.76 672.00,265.76 672.20,265.76 672.40,265.76 672.60,265.76 672.80,265.76 673.00,265.76 673.20,265.76 673.40,265.76 673.60,265.76 673.80,265.76 674.00,265.76 674.20,265.76 674.40,265.76 674.60,265.76 674.80,265.76 675.00,265.76 675.20,265.76 675.40,265.76 675.60,265.76 675.80,265.76 676.00,265.76 676.20,265.76 676.40,265.76 676.60,265.77 676.80,265.77 677.00,265.77 677.20,265.77 677.40,265.77 677.60,265.77 677.80,265.77" fill="none" stroke="#555" stroke-width="0.55" stroke-linejoin="round"/>
<path d="M586.8,187V258M641.3,192.5V258" stroke="#444" stroke-width="0.9"/>
<path d="M443,268.4H678" stroke="#999" stroke-width="0.6"/>
<path d="M448.66,268.4v0.8M452.99,268.4v0.8M457.32,268.4v0.8M461.65,268.4v1.2M465.98,268.4v0.8M470.31,268.4v0.8M474.64,268.4v0.8M478.97,268.4v0.8M483.30,268.4v1.2M487.63,268.4v0.8M491.96,268.4v0.8M496.29,268.4v0.8M500.62,268.4v0.8M504.95,268.4v1.2M509.28,268.4v0.8M513.61,268.4v0.8M517.94,268.4v0.8M522.27,268.4v0.8M526.60,268.4v1.2M530.93,268.4v0.8M535.26,268.4v0.8M539.59,268.4v0.8M543.92,268.4v0.8M548.25,268.4v1.2M552.58,268.4v0.8M556.91,268.4v0.8M561.24,268.4v0.8M565.57,268.4v0.8M569.90,268.4v1.2M574.23,268.4v0.8M578.56,268.4v0.8M582.89,268.4v0.8M587.22,268.4v0.8M591.55,268.4v1.2M595.88,268.4v0.8M600.21,268.4v0.8M604.54,268.4v0.8M608.87,268.4v0.8M613.20,268.4v1.2M617.53,268.4v0.8M621.86,268.4v0.8M626.19,268.4v0.8M630.52,268.4v0.8M634.85,268.4v1.2M639.18,268.4v0.8M643.51,268.4v0.8M647.84,268.4v0.8M652.17,268.4v0.8M656.50,268.4v1.2M660.83,268.4v0.8M665.16,268.4v0.8M669.49,268.4v0.8M673.82,268.4v0.8M678.15,268.4v1.2" stroke="#888" stroke-width="0.5"/>
<text x="462.45" y="278.50" font-size="6.7" text-anchor="middle" stroke="#000" stroke-width="0.12">9</text>
<text x="484.10" y="278.50" font-size="6.7" text-anchor="middle" stroke="#000" stroke-width="0.12">8</text>
<text x="505.75" y="278.50" font-size="6.7" text-anchor="middle" stroke="#000" stroke-width="0.12">7</text>
<text x="527.40" y="278.50" font-size="6.7" text-anchor="middle" stroke="#000" stroke-width="0.12">6</text>
<text x="549.05" y="278.50" font-size="6.7" text-anchor="middle" stroke="#000" stroke-width="0.12">5</text>
<text x="570.70" y="278.50" font-size="6.7" text-anchor="middle" stroke="#000" stroke-width="0.12">4</text>
<text x="592.35" y="278.50" font-size="6.7" text-anchor="middle" stroke="#000" stroke-width="0.12">3</text>
<text x="614.00" y="278.50" font-size="6.7" text-anchor="middle" stroke="#000" stroke-width="0.12">2</text>
<text x="635.65" y="278.50" font-size="6.7" text-anchor="middle" stroke="#000" stroke-width="0.12">1</text>
<text x="657.30" y="278.50" font-size="6.7" text-anchor="middle" stroke="#000" stroke-width="0.12">0</text>
<text x="675.30" y="278.50" font-size="6.9" text-anchor="middle" stroke="#000" stroke-width="0.12">ppm</text>
<text x="579.00" y="12.20" font-size="5.1" text-anchor="middle" stroke="#000" stroke-width="0.1">13</text>
<text x="586.80" y="11.80" font-size="5.1" text-anchor="middle" stroke="#000" stroke-width="0.1">14</text>
<text x="631.20" y="12.80" font-size="5.1" text-anchor="middle" stroke="#000" stroke-width="0.1">2</text>
<text x="640.80" y="12.00" font-size="5.1" text-anchor="middle" stroke="#000" stroke-width="0.1">1</text>
<text x="568.20" y="52.80" font-size="5.1" text-anchor="middle" stroke="#000" stroke-width="0.1">9</text>
<text x="584.50" y="66.00" font-size="5.1" text-anchor="middle" stroke="#000" stroke-width="0.1">12</text>
<text x="589.60" y="66.00" font-size="5.1" text-anchor="middle" stroke="#000" stroke-width="0.1">8</text>
<text x="574.60" y="77.20" font-size="5.1" text-anchor="middle" stroke="#000" stroke-width="0.1">11</text>
<text x="573.00" y="87.80" font-size="5.1" text-anchor="middle" stroke="#000" stroke-width="0.1">7</text>
<text x="563.60" y="91.80" font-size="5.1" text-anchor="middle" stroke="#000" stroke-width="0.1">5</text>
<text x="545.40" y="82.20" font-size="5.1" text-anchor="middle" stroke="#000" stroke-width="0.1">6</text>
<text x="608.50" y="86.00" font-size="5.1" text-anchor="middle" stroke="#000" stroke-width="0.1">4</text>
<text x="624.90" y="82.20" font-size="5.1" text-anchor="middle" stroke="#000" stroke-width="0.1">3</text>
<text x="508.4" y="16.0" font-size="7.0" text-anchor="middle" letter-spacing="-0.1" stroke="#000" stroke-width="0.1">PEG-PE</text>
<text x="499.8" y="130.0" font-size="7.3" letter-spacing="-0.25" stroke="#000" stroke-width="0.12">hIAPP<tspan font-size="5.2">1-37</tspan></text>
<text x="509.8" y="147.6" font-size="5.6" text-anchor="middle">1*</text>
<path d="M511.4,150.4L506.6,155.4M506.4,155.6l0.4,-2.6M506.4,155.6l2.6,-0.6" stroke="#111" stroke-width="0.75" fill="none"/>
<text x="631.0" y="120.4" font-size="5.6" text-anchor="middle">2*</text>
<path d="M631.8,121.4L635.6,126.8M635.8,127.0l-0.2,-2.6M635.8,127.0l-2.4,-0.9" stroke="#111" stroke-width="0.75" fill="none"/>
<text x="479.2" y="218.8" font-size="7.0" letter-spacing="-0.15" stroke="#000" stroke-width="0.1">hIAPP<tspan font-size="5.0">1-37</tspan>/PEG-PE (1/10)</text>
<text x="579.80" y="184.60" font-size="5.1" text-anchor="middle" stroke="#000" stroke-width="0.1">13</text>
<text x="587.60" y="184.60" font-size="5.1" text-anchor="middle" stroke="#000" stroke-width="0.1">14</text>
<text x="632.20" y="186.20" font-size="5.1" text-anchor="middle" stroke="#000" stroke-width="0.1">2</text>
<text x="641.30" y="190.80" font-size="5.1" text-anchor="middle" stroke="#000" stroke-width="0.1">1</text>
<text x="569.50" y="241.00" font-size="5.1" text-anchor="middle" stroke="#000" stroke-width="0.1">9</text>
<text x="576.40" y="247.20" font-size="5.1" text-anchor="middle" stroke="#000" stroke-width="0.1">11</text>
<text x="575.20" y="259.00" font-size="5.1" text-anchor="middle" stroke="#000" stroke-width="0.1">7</text>
<text x="563.60" y="262.80" font-size="5.1" text-anchor="middle" stroke="#000" stroke-width="0.1">5</text>
<text x="588.40" y="254.20" font-size="5.1" text-anchor="middle" stroke="#000" stroke-width="0.1">8</text>
<rect x="582.0" y="233.6" width="5.2" height="4.6" fill="#fff" stroke="#333" stroke-width="0.5"/>
<text x="584.60" y="237.60" font-size="4.2" text-anchor="middle" stroke="#000" stroke-width="0.1">12</text>
<text x="546.00" y="259.60" font-size="5.1" text-anchor="middle" stroke="#000" stroke-width="0.1">6</text>
<text x="501.60" y="259.00" font-size="5.1" text-anchor="middle" stroke="#000" stroke-width="0.1">1*</text>
<text x="610.20" y="261.00" font-size="5.1" text-anchor="middle" stroke="#000" stroke-width="0.1">4</text>
<text x="624.10" y="258.40" font-size="5.1" text-anchor="middle" stroke="#000" stroke-width="0.1">3</text>
<text x="637.70" y="254.80" font-size="5.1" text-anchor="middle" stroke="#000" stroke-width="0.1">2*</text>
<path d="M448.3,33.0 L450.6,31.2 L454.0,33.6 L457.5,31.2 L461.0,33.6 L464.5,31.2 L468.0,33.6 L471.6,31.0 L474.6,33.2 M471.3,31.0 L471.3,26.2 M471.9,31.0 L471.9,26.2 M450.6,27.4 L450.6,35.0 M459.3,27.4 L459.3,35.0 M477.3,31.5 L477.3,36.5 M448.3,40.0 L450.6,41.5 L454.0,39.0 L457.5,41.5 L461.0,39.0 L464.5,41.5 L468.0,39.0 L471.6,41.5 L474.6,40.0 M471.3,41.5 L471.3,46.8 M471.9,41.5 L471.9,46.8 M450.6,38.3 L450.6,44.8 M459.3,38.3 L459.3,44.8 M481.3,36.0 L481.3,38.5 M480.7,42.0 L480.7,44.5 M480.7,48.5 L480.7,51.8 M480.7,55.2 L480.7,58.0 M480.7,62.0 L480.7,64.2 M511.2,58.6 L515.9,55.5 L519.8,58.6 M515.6,55.5 L515.6,51.6 M516.2,55.5 L516.2,51.6 M523.2,58.6 L526.6,56.0 L531.0,59.4 L534.2,56.6 M533.7,53.0 L533.7,60.5 M537.4,56.8 L540.6,60.0 L545.0,56.8 M546.5,53.0 L546.5,60.5 M552.4,59.2 L555.8,57.0" stroke="#222" stroke-width="0.65" fill="none"/>
<text x="442" y="35.8" font-size="4.4" text-anchor="start" fill="#111" stroke="#111" stroke-width="0.1">H<tspan font-size="3.0" dy="0.8">3</tspan><tspan dy="-0.8"></tspan>C</text>
<text x="442" y="42.0" font-size="4.4" text-anchor="start" fill="#111" stroke="#111" stroke-width="0.1">H<tspan font-size="3.0" dy="0.8">3</tspan><tspan dy="-0.8"></tspan>C</text>
<text x="471.6" y="26.0" font-size="4.4" text-anchor="middle" fill="#111" stroke="#111" stroke-width="0.1">O</text>
<text x="471.6" y="50.9" font-size="4.4" text-anchor="middle" fill="#111" stroke="#111" stroke-width="0.1">O</text>
<text x="475.4" y="36.1" font-size="4.4" text-anchor="middle" fill="#111" stroke="#111" stroke-width="0.1">O</text>
<text x="475.4" y="42.0" font-size="4.4" text-anchor="middle" fill="#111" stroke="#111" stroke-width="0.1">O</text>
<text x="478.6" y="36.1" font-size="3.9" text-anchor="start" fill="#111" stroke="#111" stroke-width="0.1">CH<tspan font-size="3.0" dy="0.8">2</tspan><tspan dy="-0.8"></tspan></text>
<text x="479.0" y="42.0" font-size="3.9" text-anchor="start" fill="#111" stroke="#111" stroke-width="0.1">CH</text>
<text x="481.8" y="49.0" font-size="3.9" text-anchor="start" fill="#111" stroke="#111" stroke-width="0.1">CH<tspan font-size="3.0" dy="0.8">2</tspan><tspan dy="-0.8"></tspan></text>
<text x="480.7" y="55.2" font-size="4.4" text-anchor="middle" fill="#111" stroke="#111" stroke-width="0.1">O</text>
<text x="474.8" y="61.9" font-size="4.4" text-anchor="middle" fill="#111" stroke="#111" stroke-width="0.1">O</text>
<text x="477.6" y="61.9" font-size="3.6" text-anchor="middle" fill="#111" stroke="#111" stroke-width="0.1">=</text>
<text x="480.5" y="61.9" font-size="4.4" text-anchor="middle" fill="#111" stroke="#111" stroke-width="0.1">P</text>
<text x="483.0" y="61.9" font-size="3.6" text-anchor="middle" fill="#111" stroke="#111" stroke-width="0.1">-</text>
<text x="485.5" y="61.9" font-size="4.4" text-anchor="middle" fill="#111" stroke="#111" stroke-width="0.1">O</text>
<text x="487.8" y="61.9" font-size="3.6" text-anchor="middle" fill="#111" stroke="#111" stroke-width="0.1">-</text>
<text x="490.2" y="61.9" font-size="3.7" text-anchor="start" fill="#111" stroke="#111" stroke-width="0.1">CH<tspan font-size="3.0" dy="0.8">2</tspan><tspan dy="-0.8"></tspan></text>
<text x="497.2" y="61.9" font-size="3.4" text-anchor="middle" fill="#111" stroke="#111" stroke-width="0.1">-</text>
<text x="498.4" y="61.9" font-size="3.7" text-anchor="start" fill="#111" stroke="#111" stroke-width="0.1">CH<tspan font-size="3.0" dy="0.8">2</tspan><tspan dy="-0.8"></tspan></text>
<text x="505.0" y="61.9" font-size="3.4" text-anchor="middle" fill="#111" stroke="#111" stroke-width="0.1">-</text>
<text x="508.8" y="61.9" font-size="3.9" text-anchor="middle" fill="#111" stroke="#111" stroke-width="0.1">NH</text>
<text x="480.7" y="67.7" font-size="4.4" text-anchor="middle" fill="#111" stroke="#111" stroke-width="0.1">O<tspan font-size="3" dy="-1.2">-</tspan></text>
<text x="515.9" y="51.4" font-size="4.4" text-anchor="middle" fill="#111" stroke="#111" stroke-width="0.1">O</text>
<text x="521.7" y="61.9" font-size="4.4" text-anchor="middle" fill="#111" stroke="#111" stroke-width="0.1">O</text>
<text x="535.8" y="58.1" font-size="4.4" text-anchor="middle" fill="#111" stroke="#111" stroke-width="0.1">O</text>
<text x="549.7" y="61.9" font-size="4.4" text-anchor="middle" fill="#111" stroke="#111" stroke-width="0.1"><tspan font-size="3.2">n</tspan>O</text>
<text x="556.0" y="57.5" font-size="4.4" text-anchor="start" fill="#111" stroke="#111" stroke-width="0.1">CH<tspan font-size="3.0" dy="0.8">3</tspan><tspan dy="-0.8"></tspan></text>
<text x="444.4" y="30.0" font-size="3.6" text-anchor="middle" fill="#111" stroke="#111" stroke-width="0.1">1</text>
<text x="454.5" y="29.6" font-size="3.6" text-anchor="middle" fill="#111" stroke="#111" stroke-width="0.1">2</text>
<text x="462.5" y="29.6" font-size="3.6" text-anchor="middle" fill="#111" stroke="#111" stroke-width="0.1">3</text>
<text x="466.6" y="38.7" font-size="3.6" text-anchor="middle" fill="#111" stroke="#111" stroke-width="0.1">4</text>
<text x="479.1" y="31.8" font-size="3.6" text-anchor="middle" fill="#111" stroke="#111" stroke-width="0.1">5</text>
<text x="479.5" y="38.7" font-size="3.6" text-anchor="middle" fill="#111" stroke="#111" stroke-width="0.1">6</text>
<text x="479.2" y="45.5" font-size="3.6" text-anchor="middle" fill="#111" stroke="#111" stroke-width="0.1">7</text>
<text x="490.8" y="57.3" font-size="3.6" text-anchor="middle" fill="#111" stroke="#111" stroke-width="0.1">8</text>
<text x="499.9" y="57.3" font-size="3.6" text-anchor="middle" fill="#111" stroke="#111" stroke-width="0.1">9</text>
<text x="507.4" y="57.3" font-size="3.6" text-anchor="middle" fill="#111" stroke="#111" stroke-width="0.1">10</text>
<text x="526.7" y="54.8" font-size="3.6" text-anchor="middle" fill="#111" stroke="#111" stroke-width="0.1">11</text>
<text x="531.0" y="64.5" font-size="3.6" text-anchor="middle" fill="#111" stroke="#111" stroke-width="0.1">12</text>
<text x="540.6" y="64.5" font-size="3.6" text-anchor="middle" fill="#111" stroke="#111" stroke-width="0.1">13</text>
<text x="557.2" y="52.2" font-size="3.6" text-anchor="middle" fill="#111" stroke="#111" stroke-width="0.1">14</text>
<text x="461.2" y="35.6" font-size="3.0" text-anchor="middle" fill="#111" stroke="#111" stroke-width="0.1">n</text>
<text x="461.2" y="46.2" font-size="3.0" text-anchor="middle" fill="#111" stroke="#111" stroke-width="0.1">n</text></svg></body></html>
